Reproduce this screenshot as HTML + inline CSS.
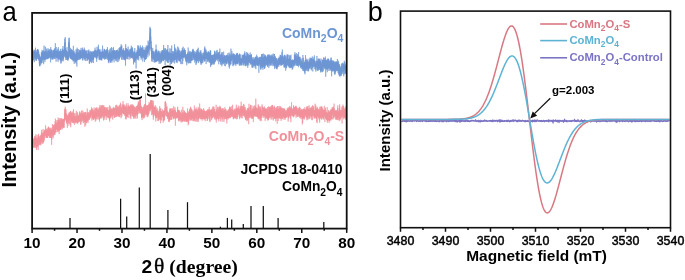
<!DOCTYPE html><html><head><meta charset="utf-8"><style>html,body{margin:0;padding:0;background:#fff;}svg{display:block;will-change:transform;font-family:"Liberation Sans",sans-serif;}</style></head><body><svg width="685" height="280" viewBox="0 0 685 280">
<rect width="685" height="280" fill="#fff"/>
<text transform="translate(2.4,20.7) scale(0.95,1)" font-size="27" font-family="Liberation Sans" fill="#000">a</text>
<polyline points="33.10,57.1 33.15,49.8 33.20,50.8 33.25,51.4 33.30,54.1 33.35,56.0 33.40,60.4 33.45,53.5 33.50,56.5 33.55,54.6 33.60,59.7 33.65,56.6 33.70,58.5 33.75,51.0 33.80,53.8 33.85,51.9 33.90,59.1 33.95,56.6 34.00,53.6 34.05,53.2 34.10,56.2 34.15,52.5 34.20,51.7 34.25,56.1 34.30,62.2 34.35,53.8 34.40,52.8 34.45,50.9 34.50,50.4 34.55,56.1 34.60,57.1 34.65,54.5 34.70,55.5 34.75,54.8 34.80,54.9 34.85,49.7 34.90,53.0 34.95,54.7 35.00,51.9 35.05,52.9 35.10,51.8 35.15,53.3 35.20,56.9 35.25,53.0 35.30,53.8 35.35,56.8 35.40,56.2 35.45,59.5 35.50,47.7 35.55,56.8 35.60,52.7 35.65,54.6 35.70,56.7 35.75,57.5 35.80,57.3 35.85,54.6 35.90,59.1 35.95,53.2 36.00,53.6 36.05,56.5 36.10,52.3 36.15,60.7 36.20,57.1 36.25,60.7 36.30,53.9 36.35,52.8 36.40,54.4 36.45,56.2 36.50,52.1 36.55,55.1 36.60,53.8 36.65,58.9 36.70,51.8 36.75,57.1 36.80,51.8 36.85,50.8 36.90,51.6 36.95,50.1 37.00,54.2 37.05,56.9 37.10,54.2 37.15,55.7 37.20,59.0 37.25,54.9 37.30,54.7 37.35,53.4 37.40,49.3 37.45,56.8 37.50,49.1 37.55,56.7 37.60,54.7 37.65,58.3 37.70,54.7 37.75,52.5 37.80,56.3 37.85,53.5 37.90,54.8 37.95,55.6 38.00,55.2 38.05,55.1 38.10,53.2 38.15,55.3 38.20,49.4 38.25,55.6 38.30,52.5 38.35,59.8 38.40,60.4 38.45,50.5 38.50,57.1 38.55,56.3 38.60,53.6 38.65,58.6 38.70,55.6 38.75,51.7 38.80,56.4 38.85,56.9 38.90,57.8 38.95,53.8 39.00,59.6 39.05,60.1 39.10,54.3 39.15,56.0 39.20,57.9 39.25,56.5 39.30,63.7 39.35,59.1 39.40,55.4 39.45,56.2 39.50,58.5 39.55,65.9 39.60,58.4 39.65,59.4 39.70,60.7 39.75,59.1 39.80,66.4 39.85,57.8 39.90,61.9 39.95,60.2 40.00,61.7 40.05,56.2 40.10,65.5 40.15,59.5 40.20,59.9 40.25,56.9 40.30,57.4 40.35,61.3 40.40,62.6 40.45,61.8 40.50,63.1 40.55,61.5 40.60,59.3 40.65,61.7 40.70,60.9 40.75,58.7 40.80,61.2 40.85,62.8 40.90,59.5 40.95,57.6 41.00,60.8 41.05,64.4 41.10,57.8 41.15,58.1 41.20,57.9 41.25,62.0 41.30,52.4 41.35,59.2 41.40,61.7 41.45,55.4 41.50,62.4 41.55,59.4 41.60,56.0 41.65,58.2 41.70,52.7 41.75,55.7 41.80,63.0 41.85,54.5 41.90,62.9 41.95,56.9 42.00,60.1 42.05,57.1 42.10,49.9 42.15,55.0 42.20,57.3 42.25,53.1 42.30,52.4 42.35,57.6 42.40,54.4 42.45,51.1 42.50,54.1 42.55,58.9 42.60,54.6 42.65,58.9 42.70,60.7 42.75,56.0 42.80,52.3 42.85,51.7 42.90,55.6 42.95,58.3 43.00,56.3 43.05,57.1 43.10,54.0 43.15,56.3 43.20,59.5 43.25,54.3 43.30,51.3 43.35,50.4 43.40,53.8 43.45,51.8 43.50,52.3 43.55,57.3 43.60,54.9 43.65,64.2 43.70,58.0 43.75,53.2 43.80,57.5 43.85,56.2 43.90,53.0 43.95,58.5 44.00,52.7 44.05,45.6 44.10,57.5 44.15,53.1 44.20,59.6 44.25,53.0 44.30,51.3 44.35,59.8 44.40,51.6 44.45,55.6 44.50,59.4 44.55,55.3 44.60,54.7 44.65,55.2 44.70,57.5 44.75,52.4 44.80,56.7 44.85,56.6 44.90,62.0 44.95,53.8 45.00,52.0 45.05,57.1 45.10,53.5 45.15,55.6 45.20,55.1 45.25,58.3 45.30,52.7 45.35,54.4 45.40,46.8 45.45,51.9 45.50,59.4 45.55,52.5 45.60,52.4 45.65,50.8 45.70,56.4 45.75,55.1 45.80,50.9 45.85,56.6 45.90,55.3 45.95,56.9 46.00,52.5 46.05,59.9 46.10,55.7 46.15,54.1 46.20,52.9 46.25,53.7 46.30,57.1 46.35,53.6 46.40,57.8 46.45,56.3 46.50,58.7 46.55,57.0 46.60,54.3 46.65,48.6 46.70,55.4 46.75,56.9 46.80,55.0 46.85,56.2 46.90,53.0 46.95,53.3 47.00,51.6 47.05,58.7 47.10,55.0 47.15,53.0 47.20,50.4 47.25,54.0 47.30,59.0 47.35,55.9 47.40,52.3 47.45,59.0 47.50,58.9 47.55,57.6 47.60,57.0 47.65,58.1 47.70,56.2 47.75,56.9 47.80,52.1 47.85,59.2 47.90,55.3 47.95,52.6 48.00,48.2 48.05,56.7 48.10,57.6 48.15,53.5 48.20,55.9 48.25,56.9 48.30,56.3 48.35,52.9 48.40,54.1 48.45,57.7 48.50,58.5 48.55,54.9 48.60,54.8 48.65,55.2 48.70,57.8 48.75,51.3 48.80,50.4 48.85,55.0 48.90,51.1 48.95,52.8 49.00,54.8 49.05,56.1 49.10,51.3 49.15,57.1 49.20,49.1 49.25,56.2 49.30,49.6 49.35,50.6 49.40,56.5 49.45,53.3 49.50,52.0 49.55,53.1 49.60,55.9 49.65,54.3 49.70,54.4 49.75,57.7 49.80,52.2 49.85,53.0 49.90,52.8 49.95,58.0 50.00,57.5 50.05,58.4 50.10,54.3 50.15,53.9 50.20,57.0 50.25,53.1 50.30,56.9 50.35,56.6 50.40,52.2 50.45,54.1 50.50,53.9 50.55,59.7 50.60,62.3 50.65,54.0 50.70,54.3 50.75,47.2 50.80,54.9 50.85,54.2 50.90,50.9 50.95,56.7 51.00,49.4 51.05,53.5 51.10,54.6 51.15,50.3 51.20,56.8 51.25,57.4 51.30,49.9 51.35,49.8 51.40,56.0 51.45,54.0 51.50,50.4 51.55,53.2 51.60,53.8 51.65,53.6 51.70,56.6 51.75,55.3 51.80,59.5 51.85,58.3 51.90,56.1 51.95,57.4 52.00,58.1 52.05,56.2 52.10,50.2 52.15,56.7 52.20,54.2 52.25,59.0 52.30,54.2 52.35,55.6 52.40,55.0 52.45,59.1 52.50,54.5 52.55,53.1 52.60,54.9 52.65,52.5 52.70,54.4 52.75,53.8 52.80,54.7 52.85,59.8 52.90,52.6 52.95,53.9 53.00,53.2 53.05,55.9 53.10,50.1 53.15,51.6 53.20,53.7 53.25,55.5 53.30,53.6 53.35,52.2 53.40,51.1 53.45,55.3 53.50,58.2 53.55,54.7 53.60,54.3 53.65,55.1 53.70,50.8 53.75,52.7 53.80,52.8 53.85,54.6 53.90,53.6 53.95,49.9 54.00,57.1 54.05,58.9 54.10,52.8 54.15,54.8 54.20,54.4 54.25,56.0 54.30,49.0 54.35,58.6 54.40,52.1 54.45,57.5 54.50,53.8 54.55,52.3 54.60,53.1 54.65,56.3 54.70,50.8 54.75,52.3 54.80,52.0 54.85,48.1 54.90,57.5 54.95,55.2 55.00,53.4 55.05,57.0 55.10,50.5 55.15,53.2 55.20,58.8 55.25,56.5 55.30,46.6 55.35,43.2 55.40,50.3 55.45,56.8 55.50,52.1 55.55,52.9 55.60,55.5 55.65,50.9 55.70,54.3 55.75,56.1 55.80,55.1 55.85,54.9 55.90,51.8 55.95,55.3 56.00,52.4 56.05,57.8 56.10,61.7 56.15,51.5 56.20,47.0 56.25,52.5 56.30,55.0 56.35,57.1 56.40,57.2 56.45,51.4 56.50,51.4 56.55,57.8 56.60,50.5 56.65,57.3 56.70,53.2 56.75,56.3 56.80,56.2 56.85,56.4 56.90,56.6 56.95,51.0 57.00,55.0 57.05,54.1 57.10,55.0 57.15,57.9 57.20,53.3 57.25,51.9 57.30,51.9 57.35,53.2 57.40,56.5 57.45,51.7 57.50,57.8 57.55,55.1 57.60,53.5 57.65,50.1 57.70,55.0 57.75,56.4 57.80,48.8 57.85,58.0 57.90,59.5 57.95,55.4 58.00,55.9 58.05,61.9 58.10,58.2 58.15,51.7 58.20,54.4 58.25,54.0 58.30,54.0 58.35,47.2 58.40,56.9 58.45,52.6 58.50,55.1 58.55,54.2 58.60,57.3 58.65,53.7 58.70,52.2 58.75,56.3 58.80,59.1 58.85,53.7 58.90,59.0 58.95,55.6 59.00,53.2 59.05,59.6 59.10,52.3 59.15,58.0 59.20,53.3 59.25,56.3 59.30,51.1 59.35,52.4 59.40,58.3 59.45,55.6 59.50,55.1 59.55,53.7 59.60,56.5 59.65,50.8 59.70,51.6 59.75,54.6 59.80,52.6 59.85,53.0 59.90,55.0 59.95,54.8 60.00,54.6 60.05,60.4 60.10,58.4 60.15,59.1 60.20,55.2 60.25,53.8 60.30,50.9 60.35,54.3 60.40,48.9 60.45,53.6 60.50,57.8 60.55,60.5 60.60,58.5 60.65,52.8 60.70,57.1 60.75,53.1 60.80,58.1 60.85,55.3 60.90,58.3 60.95,63.6 61.00,58.5 61.05,62.9 61.10,56.3 61.15,54.7 61.20,59.8 61.25,61.0 61.30,53.9 61.35,55.9 61.40,51.2 61.45,55.0 61.50,58.3 61.55,55.3 61.60,53.8 61.65,51.1 61.70,56.6 61.75,57.9 61.80,57.3 61.85,56.2 61.90,51.5 61.95,60.9 62.00,55.2 62.05,54.9 62.10,57.6 62.15,48.6 62.20,55.1 62.25,54.9 62.30,56.4 62.35,59.4 62.40,56.7 62.45,49.5 62.50,54.1 62.55,55.8 62.60,55.6 62.65,51.2 62.70,50.0 62.75,56.8 62.80,56.1 62.85,55.0 62.90,49.7 62.95,60.5 63.00,46.0 63.05,53.9 63.10,61.4 63.15,54.5 63.20,55.6 63.25,51.3 63.30,59.1 63.35,50.9 63.40,55.6 63.45,55.2 63.50,51.5 63.55,57.5 63.60,50.4 63.65,52.6 63.70,54.6 63.75,53.4 63.80,56.1 63.85,57.5 63.90,53.5 63.95,52.9 64.00,52.7 64.05,52.7 64.10,56.8 64.15,53.0 64.20,55.7 64.25,52.1 64.30,49.8 64.35,53.8 64.40,48.1 64.45,52.8 64.50,56.4 64.55,46.4 64.60,52.2 64.65,43.8 64.70,49.2 64.75,38.7 64.80,40.4 64.85,40.2 64.90,48.8 64.95,43.9 65.00,42.4 65.05,46.9 65.10,46.4 65.15,42.6 65.20,43.5 65.25,37.1 65.30,51.7 65.35,55.3 65.40,48.0 65.45,48.8 65.50,57.2 65.55,48.5 65.60,49.3 65.65,49.1 65.70,50.8 65.75,53.1 65.80,59.9 65.85,54.2 65.90,51.8 65.95,53.2 66.00,54.7 66.05,50.1 66.10,56.1 66.15,57.8 66.20,56.7 66.25,57.7 66.30,51.9 66.35,50.6 66.40,59.9 66.45,59.3 66.50,51.2 66.55,56.7 66.60,56.1 66.65,57.8 66.70,56.8 66.75,54.6 66.80,56.8 66.85,56.7 66.90,56.1 66.95,50.5 67.00,47.0 67.05,53.9 67.10,51.3 67.15,57.1 67.20,58.5 67.25,57.1 67.30,55.1 67.35,56.4 67.40,59.8 67.45,53.9 67.50,59.0 67.55,58.3 67.60,56.9 67.65,60.5 67.70,53.7 67.75,58.8 67.80,53.0 67.85,53.5 67.90,52.4 67.95,57.2 68.00,52.6 68.05,55.7 68.10,51.5 68.15,58.1 68.20,60.4 68.25,54.5 68.30,59.2 68.35,56.6 68.40,58.8 68.45,52.7 68.50,48.8 68.55,53.8 68.60,50.9 68.65,46.1 68.70,44.0 68.75,42.9 68.80,46.5 68.85,41.6 68.90,49.0 68.95,47.0 69.00,38.4 69.05,42.0 69.10,47.8 69.15,37.6 69.20,49.5 69.25,50.3 69.30,43.6 69.35,45.2 69.40,49.9 69.45,57.6 69.50,54.5 69.55,53.4 69.60,54.1 69.65,49.6 69.70,54.3 69.75,50.3 69.80,55.7 69.85,50.0 69.90,51.4 69.95,54.3 70.00,56.1 70.05,49.9 70.10,52.8 70.15,54.9 70.20,55.2 70.25,52.0 70.30,54.9 70.35,53.7 70.40,58.9 70.45,56.3 70.50,50.5 70.55,47.8 70.60,54.9 70.65,58.3 70.70,55.2 70.75,57.4 70.80,53.1 70.85,50.4 70.90,57.0 70.95,55.0 71.00,56.8 71.05,50.4 71.10,55.2 71.15,52.7 71.20,57.2 71.25,52.9 71.30,52.8 71.35,52.9 71.40,58.6 71.45,49.6 71.50,52.4 71.55,51.5 71.60,51.5 71.65,59.3 71.70,49.1 71.75,52.1 71.80,56.7 71.85,58.4 71.90,54.3 71.95,57.2 72.00,57.1 72.05,57.8 72.10,54.9 72.15,59.9 72.20,55.5 72.25,59.6 72.30,51.4 72.35,57.8 72.40,51.0 72.45,50.2 72.50,56.4 72.55,52.3 72.60,56.3 72.65,51.6 72.70,59.9 72.75,55.0 72.80,51.5 72.85,55.5 72.90,57.7 72.95,52.6 73.00,56.6 73.05,61.4 73.10,57.7 73.15,55.0 73.20,53.3 73.25,56.9 73.30,50.5 73.35,45.8 73.40,53.2 73.45,51.9 73.50,60.8 73.55,55.8 73.60,52.4 73.65,51.9 73.70,57.1 73.75,53.0 73.80,53.8 73.85,55.3 73.90,55.9 73.95,56.0 74.00,56.1 74.05,59.8 74.10,61.1 74.15,50.7 74.20,63.9 74.25,56.4 74.30,59.8 74.35,53.7 74.40,57.1 74.45,56.8 74.50,56.5 74.55,58.8 74.60,58.2 74.65,53.1 74.70,55.9 74.75,58.6 74.80,58.5 74.85,55.4 74.90,55.6 74.95,56.0 75.00,53.1 75.05,52.6 75.10,61.5 75.15,55.4 75.20,57.0 75.25,54.4 75.30,60.8 75.35,62.2 75.40,56.1 75.45,58.5 75.50,54.6 75.55,62.4 75.60,59.8 75.65,54.4 75.70,60.9 75.75,58.2 75.80,58.4 75.85,58.3 75.90,55.1 75.95,55.6 76.00,59.2 76.05,57.2 76.10,49.2 76.15,63.6 76.20,56.6 76.25,55.5 76.30,55.1 76.35,59.3 76.40,60.2 76.45,57.9 76.50,59.8 76.55,52.5 76.60,55.9 76.65,55.6 76.70,57.0 76.75,58.5 76.80,50.6 76.85,66.6 76.90,54.2 76.95,57.9 77.00,59.4 77.05,59.5 77.10,57.5 77.15,47.7 77.20,53.4 77.25,59.1 77.30,53.8 77.35,53.4 77.40,49.3 77.45,60.4 77.50,58.1 77.55,53.7 77.60,56.1 77.65,56.1 77.70,53.0 77.75,55.5 77.80,57.1 77.85,58.0 77.90,60.2 77.95,56.3 78.00,54.8 78.05,57.4 78.10,54.2 78.15,52.3 78.20,59.7 78.25,54.9 78.30,56.4 78.35,58.0 78.40,52.6 78.45,58.0 78.50,57.3 78.55,55.6 78.60,57.1 78.65,53.5 78.70,49.0 78.75,54.9 78.80,53.0 78.85,58.5 78.90,56.6 78.95,54.1 79.00,55.8 79.05,59.9 79.10,59.2 79.15,56.8 79.20,56.9 79.25,54.7 79.30,55.1 79.35,57.3 79.40,55.1 79.45,56.4 79.50,52.0 79.55,50.2 79.60,50.1 79.65,54.0 79.70,59.4 79.75,58.9 79.80,52.2 79.85,50.4 79.90,52.9 79.95,56.6 80.00,50.9 80.05,58.4 80.10,55.6 80.15,59.2 80.20,56.1 80.25,57.8 80.30,56.0 80.35,52.0 80.40,54.2 80.45,52.8 80.50,57.4 80.55,51.8 80.60,50.1 80.65,56.9 80.70,58.3 80.75,59.2 80.80,58.1 80.85,50.0 80.90,52.5 80.95,52.9 81.00,54.5 81.05,47.9 81.10,54.5 81.15,55.4 81.20,51.5 81.25,54.8 81.30,58.1 81.35,54.5 81.40,57.7 81.45,57.5 81.50,55.6 81.55,55.5 81.60,53.1 81.65,58.1 81.70,52.8 81.75,52.0 81.80,56.4 81.85,51.9 81.90,55.4 81.95,57.4 82.00,54.3 82.05,54.4 82.10,56.9 82.15,56.3 82.20,49.2 82.25,50.0 82.30,58.2 82.35,55.3 82.40,47.6 82.45,49.9 82.50,54.1 82.55,51.0 82.60,55.5 82.65,54.3 82.70,60.4 82.75,50.5 82.80,56.1 82.85,60.2 82.90,51.7 82.95,58.2 83.00,57.2 83.05,56.2 83.10,54.0 83.15,50.6 83.20,51.5 83.25,56.6 83.30,57.2 83.35,58.0 83.40,57.2 83.45,57.0 83.50,52.9 83.55,50.5 83.60,54.9 83.65,55.8 83.70,54.5 83.75,49.6 83.80,52.7 83.85,49.7 83.90,54.8 83.95,51.1 84.00,53.8 84.05,55.3 84.10,54.8 84.15,58.6 84.20,50.9 84.25,47.6 84.30,57.3 84.35,58.7 84.40,58.8 84.45,55.3 84.50,56.1 84.55,54.8 84.60,50.4 84.65,52.7 84.70,56.0 84.75,52.7 84.80,60.4 84.85,49.7 84.90,53.1 84.95,57.9 85.00,52.6 85.05,51.0 85.10,50.3 85.15,52.3 85.20,59.2 85.25,55.8 85.30,56.2 85.35,53.0 85.40,57.2 85.45,55.0 85.50,51.8 85.55,53.3 85.60,55.3 85.65,58.3 85.70,54.5 85.75,56.3 85.80,61.0 85.85,52.3 85.90,50.9 85.95,57.9 86.00,56.2 86.05,54.5 86.10,55.7 86.15,53.9 86.20,56.5 86.25,53.9 86.30,57.4 86.35,51.3 86.40,52.4 86.45,55.4 86.50,53.6 86.55,57.2 86.60,54.9 86.65,53.4 86.70,55.7 86.75,53.5 86.80,50.3 86.85,51.6 86.90,52.7 86.95,53.7 87.00,55.5 87.05,58.0 87.10,56.9 87.15,60.8 87.20,59.2 87.25,54.7 87.30,60.4 87.35,59.0 87.40,53.9 87.45,56.3 87.50,58.8 87.55,56.2 87.60,58.6 87.65,56.7 87.70,57.6 87.75,54.5 87.80,56.7 87.85,54.4 87.90,57.6 87.95,50.3 88.00,56.6 88.05,59.5 88.10,57.4 88.15,55.6 88.20,57.3 88.25,53.1 88.30,53.2 88.35,54.7 88.40,55.4 88.45,58.8 88.50,53.1 88.55,59.0 88.60,51.1 88.65,53.5 88.70,55.9 88.75,59.6 88.80,54.2 88.85,49.5 88.90,57.5 88.95,56.1 89.00,52.9 89.05,53.0 89.10,54.1 89.15,56.6 89.20,58.4 89.25,51.8 89.30,63.5 89.35,56.3 89.40,55.3 89.45,58.6 89.50,56.9 89.55,63.8 89.60,60.0 89.65,55.5 89.70,55.5 89.75,55.2 89.80,55.7 89.85,58.9 89.90,54.8 89.95,61.9 90.00,56.6 90.05,56.5 90.10,59.9 90.15,50.9 90.20,54.1 90.25,58.9 90.30,57.1 90.35,57.1 90.40,58.4 90.45,55.3 90.50,56.7 90.55,53.0 90.60,51.5 90.65,61.3 90.70,54.5 90.75,55.2 90.80,61.8 90.85,60.8 90.90,55.9 90.95,55.9 91.00,57.3 91.05,54.6 91.10,59.3 91.15,58.0 91.20,57.9 91.25,59.8 91.30,59.6 91.35,63.1 91.40,62.0 91.45,51.9 91.50,60.0 91.55,53.7 91.60,52.6 91.65,59.2 91.70,54.8 91.75,55.9 91.80,60.2 91.85,54.7 91.90,54.0 91.95,57.7 92.00,60.4 92.05,58.2 92.10,51.7 92.15,54.4 92.20,51.2 92.25,62.3 92.30,59.1 92.35,58.9 92.40,59.9 92.45,55.2 92.50,57.6 92.55,57.5 92.60,52.9 92.65,55.9 92.70,57.6 92.75,52.4 92.80,58.2 92.85,58.0 92.90,58.8 92.95,53.2 93.00,55.8 93.05,60.0 93.10,57.9 93.15,52.9 93.20,56.0 93.25,59.6 93.30,54.9 93.35,56.3 93.40,63.0 93.45,54.9 93.50,54.6 93.55,51.8 93.60,52.8 93.65,59.4 93.70,54.3 93.75,51.0 93.80,51.7 93.85,54.6 93.90,56.9 93.95,52.1 94.00,56.6 94.05,52.8 94.10,55.4 94.15,55.9 94.20,56.1 94.25,52.9 94.30,53.7 94.35,55.8 94.40,50.2 94.45,54.8 94.50,55.8 94.55,57.5 94.60,54.1 94.65,53.6 94.70,54.6 94.75,51.9 94.80,53.5 94.85,55.5 94.90,55.1 94.95,50.9 95.00,53.2 95.05,47.6 95.10,56.7 95.15,52.5 95.20,54.9 95.25,50.8 95.30,53.9 95.35,55.5 95.40,57.2 95.45,49.9 95.50,56.8 95.55,53.6 95.60,51.7 95.65,55.6 95.70,53.2 95.75,53.2 95.80,51.9 95.85,54.8 95.90,54.2 95.95,53.6 96.00,51.2 96.05,52.5 96.10,55.4 96.15,58.1 96.20,54.0 96.25,58.5 96.30,54.1 96.35,50.7 96.40,56.1 96.45,51.1 96.50,55.4 96.55,57.4 96.60,53.2 96.65,53.8 96.70,61.8 96.75,54.9 96.80,54.9 96.85,56.5 96.90,53.8 96.95,53.8 97.00,55.3 97.05,46.7 97.10,58.5 97.15,50.8 97.20,50.8 97.25,55.9 97.30,54.3 97.35,50.4 97.40,54.9 97.45,50.8 97.50,52.1 97.55,49.6 97.60,51.7 97.65,55.3 97.70,54.6 97.75,54.8 97.80,56.3 97.85,53.3 97.90,51.9 97.95,51.0 98.00,56.3 98.05,52.8 98.10,52.9 98.15,50.9 98.20,50.4 98.25,51.0 98.30,47.3 98.35,50.3 98.40,47.3 98.45,44.7 98.50,52.1 98.55,52.2 98.60,51.2 98.65,51.5 98.70,50.9 98.75,53.3 98.80,54.3 98.85,49.2 98.90,55.7 98.95,56.5 99.00,59.6 99.05,51.7 99.10,51.3 99.15,57.5 99.20,49.7 99.25,53.0 99.30,52.0 99.35,52.3 99.40,49.6 99.45,54.8 99.50,58.6 99.55,57.0 99.60,57.0 99.65,54.6 99.70,60.2 99.75,57.4 99.80,59.0 99.85,51.0 99.90,56.9 99.95,52.3 100.00,57.0 100.05,56.6 100.10,52.5 100.15,56.5 100.20,59.5 100.25,57.4 100.30,57.6 100.35,53.1 100.40,53.6 100.45,52.2 100.50,56.0 100.55,59.3 100.60,56.9 100.65,55.5 100.70,52.0 100.75,56.8 100.80,54.6 100.85,49.4 100.90,49.9 100.95,54.2 101.00,52.4 101.05,60.2 101.10,55.2 101.15,51.8 101.20,53.5 101.25,59.9 101.30,52.0 101.35,57.2 101.40,56.2 101.45,59.3 101.50,56.3 101.55,53.4 101.60,56.2 101.65,54.8 101.70,57.5 101.75,54.3 101.80,60.5 101.85,54.1 101.90,55.7 101.95,52.3 102.00,54.6 102.05,54.3 102.10,54.7 102.15,56.9 102.20,52.4 102.25,51.4 102.30,57.4 102.35,53.1 102.40,51.8 102.45,57.4 102.50,56.2 102.55,45.6 102.60,52.6 102.65,56.1 102.70,56.2 102.75,52.0 102.80,58.4 102.85,51.1 102.90,52.7 102.95,53.8 103.00,53.3 103.05,55.8 103.10,56.4 103.15,53.2 103.20,57.6 103.25,51.2 103.30,52.7 103.35,58.7 103.40,53.7 103.45,56.7 103.50,52.1 103.55,52.6 103.60,53.1 103.65,54.0 103.70,52.4 103.75,53.6 103.80,55.6 103.85,57.3 103.90,53.9 103.95,55.6 104.00,56.4 104.05,50.3 104.10,48.8 104.15,58.6 104.20,57.7 104.25,53.8 104.30,54.8 104.35,50.8 104.40,49.4 104.45,54.7 104.50,49.2 104.55,56.6 104.60,51.7 104.65,54.7 104.70,59.8 104.75,59.6 104.80,53.0 104.85,57.1 104.90,50.7 104.95,52.1 105.00,55.0 105.05,58.2 105.10,52.2 105.15,55.6 105.20,54.3 105.25,50.1 105.30,53.6 105.35,58.6 105.40,53.7 105.45,55.6 105.50,56.6 105.55,51.8 105.60,57.9 105.65,58.7 105.70,59.0 105.75,58.2 105.80,52.7 105.85,52.3 105.90,51.7 105.95,51.4 106.00,51.7 106.05,57.3 106.10,58.7 106.15,52.3 106.20,56.8 106.25,50.4 106.30,53.3 106.35,51.3 106.40,49.3 106.45,54.6 106.50,54.7 106.55,53.2 106.60,52.9 106.65,51.5 106.70,54.1 106.75,52.7 106.80,55.3 106.85,50.9 106.90,55.4 106.95,56.3 107.00,58.6 107.05,58.0 107.10,55.4 107.15,52.7 107.20,49.2 107.25,54.8 107.30,59.3 107.35,60.0 107.40,47.1 107.45,52.6 107.50,53.9 107.55,51.8 107.60,55.6 107.65,55.2 107.70,53.5 107.75,55.0 107.80,50.2 107.85,52.2 107.90,52.5 107.95,58.0 108.00,50.3 108.05,54.7 108.10,57.8 108.15,55.2 108.20,57.9 108.25,53.4 108.30,56.8 108.35,58.3 108.40,62.5 108.45,57.8 108.50,60.0 108.55,55.7 108.60,56.0 108.65,60.6 108.70,57.5 108.75,60.2 108.80,58.0 108.85,62.4 108.90,63.2 108.95,53.3 109.00,61.7 109.05,57.3 109.10,57.5 109.15,55.6 109.20,58.2 109.25,52.5 109.30,53.7 109.35,53.6 109.40,56.9 109.45,58.8 109.50,58.2 109.55,57.1 109.60,54.1 109.65,50.5 109.70,57.2 109.75,56.4 109.80,57.0 109.85,60.3 109.90,55.4 109.95,55.3 110.00,48.7 110.05,57.6 110.10,55.7 110.15,53.6 110.20,57.1 110.25,52.6 110.30,54.2 110.35,61.9 110.40,58.2 110.45,58.7 110.50,58.2 110.55,57.8 110.60,56.4 110.65,62.9 110.70,55.6 110.75,58.1 110.80,55.1 110.85,54.7 110.90,48.2 110.95,49.8 111.00,60.5 111.05,60.4 111.10,54.4 111.15,55.6 111.20,57.6 111.25,52.6 111.30,61.2 111.35,52.5 111.40,53.4 111.45,47.1 111.50,60.4 111.55,55.8 111.60,60.7 111.65,52.5 111.70,56.7 111.75,55.8 111.80,56.2 111.85,62.0 111.90,62.6 111.95,59.9 112.00,54.3 112.05,58.3 112.10,59.7 112.15,57.3 112.20,57.3 112.25,57.0 112.30,52.7 112.35,56.3 112.40,60.5 112.45,52.4 112.50,55.7 112.55,58.0 112.60,51.2 112.65,55.0 112.70,50.2 112.75,53.5 112.80,51.0 112.85,52.6 112.90,53.8 112.95,54.5 113.00,54.7 113.05,47.9 113.10,60.2 113.15,54.4 113.20,51.9 113.25,53.3 113.30,56.2 113.35,52.1 113.40,53.9 113.45,47.2 113.50,56.9 113.55,52.9 113.60,56.6 113.65,56.2 113.70,54.7 113.75,59.0 113.80,55.2 113.85,51.5 113.90,56.0 113.95,55.5 114.00,55.0 114.05,55.8 114.10,62.3 114.15,55.8 114.20,56.5 114.25,54.3 114.30,59.1 114.35,54.8 114.40,52.5 114.45,51.2 114.50,56.6 114.55,57.3 114.60,50.0 114.65,52.7 114.70,56.9 114.75,58.1 114.80,50.8 114.85,53.6 114.90,57.5 114.95,53.2 115.00,53.4 115.05,53.2 115.10,50.8 115.15,55.0 115.20,55.8 115.25,50.5 115.30,55.2 115.35,58.3 115.40,55.6 115.45,57.9 115.50,53.2 115.55,59.2 115.60,52.5 115.65,60.8 115.70,53.6 115.75,52.8 115.80,52.3 115.85,53.8 115.90,53.5 115.95,52.9 116.00,54.1 116.05,57.2 116.10,57.9 116.15,54.1 116.20,59.0 116.25,52.1 116.30,52.0 116.35,51.7 116.40,57.1 116.45,50.4 116.50,50.9 116.55,59.2 116.60,60.6 116.65,59.4 116.70,50.7 116.75,55.3 116.80,57.9 116.85,55.6 116.90,50.3 116.95,54.3 117.00,50.1 117.05,51.6 117.10,62.1 117.15,57.5 117.20,50.9 117.25,50.8 117.30,56.9 117.35,53.6 117.40,57.3 117.45,53.5 117.50,54.9 117.55,56.3 117.60,52.3 117.65,49.6 117.70,51.9 117.75,53.4 117.80,55.0 117.85,55.4 117.90,55.4 117.95,57.2 118.00,52.9 118.05,60.0 118.10,61.9 118.15,56.7 118.20,56.1 118.25,59.3 118.30,57.3 118.35,55.8 118.40,54.6 118.45,52.8 118.50,51.4 118.55,57.0 118.60,58.5 118.65,51.5 118.70,54.4 118.75,55.2 118.80,53.1 118.85,52.0 118.90,53.1 118.95,48.1 119.00,53.9 119.05,53.1 119.10,60.5 119.15,56.8 119.20,52.7 119.25,53.7 119.30,58.9 119.35,58.5 119.40,54.0 119.45,52.9 119.50,48.8 119.55,52.1 119.60,52.5 119.65,50.7 119.70,58.3 119.75,47.0 119.80,52.3 119.85,53.9 119.90,53.9 119.95,57.7 120.00,48.0 120.05,50.0 120.10,52.5 120.15,52.5 120.20,50.8 120.25,49.6 120.30,55.2 120.35,48.5 120.40,49.9 120.45,56.1 120.50,56.9 120.55,54.1 120.60,48.7 120.65,48.6 120.70,48.4 120.75,47.6 120.80,49.7 120.85,54.8 120.90,51.5 120.95,48.4 121.00,48.2 121.05,46.9 121.10,54.2 121.15,44.3 121.20,51.5 121.25,46.3 121.30,47.6 121.35,46.3 121.40,54.0 121.45,50.9 121.50,59.7 121.55,48.1 121.60,48.0 121.65,53.3 121.70,53.3 121.75,50.8 121.80,45.5 121.85,56.4 121.90,53.7 121.95,53.3 122.00,50.3 122.05,54.2 122.10,50.6 122.15,52.6 122.20,51.9 122.25,56.5 122.30,51.3 122.35,51.7 122.40,56.3 122.45,53.7 122.50,53.0 122.55,52.4 122.60,56.2 122.65,51.4 122.70,54.9 122.75,59.9 122.80,54.9 122.85,51.3 122.90,50.1 122.95,54.4 123.00,50.2 123.05,49.2 123.10,51.9 123.15,50.9 123.20,57.1 123.25,50.0 123.30,59.5 123.35,52.4 123.40,55.1 123.45,57.0 123.50,55.7 123.55,57.3 123.60,52.1 123.65,48.2 123.70,54.7 123.75,50.2 123.80,53.7 123.85,58.6 123.90,55.1 123.95,54.0 124.00,52.4 124.05,55.1 124.10,55.6 124.15,51.1 124.20,56.9 124.25,52.6 124.30,56.6 124.35,54.4 124.40,58.9 124.45,58.4 124.50,55.7 124.55,55.3 124.60,56.9 124.65,59.8 124.70,58.8 124.75,56.0 124.80,56.4 124.85,60.3 124.90,50.3 124.95,57.0 125.00,52.4 125.05,59.4 125.10,53.5 125.15,54.7 125.20,51.4 125.25,54.6 125.30,56.9 125.35,59.4 125.40,50.1 125.45,52.7 125.50,65.7 125.55,56.7 125.60,53.1 125.65,54.4 125.70,44.2 125.75,57.2 125.80,54.4 125.85,47.9 125.90,56.3 125.95,49.8 126.00,50.4 126.05,54.6 126.10,54.9 126.15,51.3 126.20,52.6 126.25,48.4 126.30,48.0 126.35,55.3 126.40,56.9 126.45,54.6 126.50,53.7 126.55,51.7 126.60,52.7 126.65,50.6 126.70,58.6 126.75,51.6 126.80,54.5 126.85,53.3 126.90,49.0 126.95,59.3 127.00,52.3 127.05,51.0 127.10,53.7 127.15,50.5 127.20,53.4 127.25,50.3 127.30,55.1 127.35,53.5 127.40,49.0 127.45,56.5 127.50,53.9 127.55,49.8 127.60,54.3 127.65,54.6 127.70,59.0 127.75,50.5 127.80,55.8 127.85,52.9 127.90,55.1 127.95,52.3 128.00,52.9 128.05,54.6 128.10,49.4 128.15,46.5 128.20,53.0 128.25,51.7 128.30,53.3 128.35,55.0 128.40,52.3 128.45,56.7 128.50,52.8 128.55,53.3 128.60,55.5 128.65,54.8 128.70,52.7 128.75,53.3 128.80,50.5 128.85,51.0 128.90,53.2 128.95,55.4 129.00,51.5 129.05,55.4 129.10,58.9 129.15,59.5 129.20,52.9 129.25,56.1 129.30,54.7 129.35,55.2 129.40,55.4 129.45,54.4 129.50,55.3 129.55,53.3 129.60,51.9 129.65,53.5 129.70,54.2 129.75,56.5 129.80,53.8 129.85,54.9 129.90,57.0 129.95,49.7 130.00,51.8 130.05,54.2 130.10,52.6 130.15,49.4 130.20,55.7 130.25,52.5 130.30,49.6 130.35,58.7 130.40,48.8 130.45,52.8 130.50,50.8 130.55,53.3 130.60,54.8 130.65,50.5 130.70,52.8 130.75,52.8 130.80,50.1 130.85,56.9 130.90,53.8 130.95,52.5 131.00,51.3 131.05,52.4 131.10,53.9 131.15,52.1 131.20,57.5 131.25,45.7 131.30,47.0 131.35,52.9 131.40,48.1 131.45,53.6 131.50,51.8 131.55,55.7 131.60,55.3 131.65,58.1 131.70,56.9 131.75,58.0 131.80,55.8 131.85,57.6 131.90,55.8 131.95,52.5 132.00,50.5 132.05,50.7 132.10,56.0 132.15,47.1 132.20,55.1 132.25,52.3 132.30,57.0 132.35,55.3 132.40,52.4 132.45,54.9 132.50,47.8 132.55,55.8 132.60,56.4 132.65,49.3 132.70,57.7 132.75,54.8 132.80,55.7 132.85,50.8 132.90,57.2 132.95,57.1 133.00,55.3 133.05,52.4 133.10,57.8 133.15,59.4 133.20,56.8 133.25,58.6 133.30,53.7 133.35,56.0 133.40,56.7 133.45,56.0 133.50,64.4 133.55,56.9 133.60,53.9 133.65,58.2 133.70,52.3 133.75,56.9 133.80,58.1 133.85,54.2 133.90,54.8 133.95,52.9 134.00,56.2 134.05,53.7 134.10,61.2 134.15,57.9 134.20,55.2 134.25,51.5 134.30,62.2 134.35,60.0 134.40,57.4 134.45,56.6 134.50,56.5 134.55,54.5 134.60,61.8 134.65,56.6 134.70,51.5 134.75,54.0 134.80,48.0 134.85,58.1 134.90,58.4 134.95,61.6 135.00,62.6 135.05,53.7 135.10,57.5 135.15,59.2 135.20,58.6 135.25,54.5 135.30,58.6 135.35,57.7 135.40,60.4 135.45,56.1 135.50,55.4 135.55,54.6 135.60,55.0 135.65,53.8 135.70,55.1 135.75,57.8 135.80,57.6 135.85,60.3 135.90,59.6 135.95,58.2 136.00,52.7 136.05,58.0 136.10,68.5 136.15,52.2 136.20,52.7 136.25,53.2 136.30,52.9 136.35,55.2 136.40,53.1 136.45,57.2 136.50,52.2 136.55,55.5 136.60,54.3 136.65,52.8 136.70,59.0 136.75,55.8 136.80,57.3 136.85,54.6 136.90,57.7 136.95,57.4 137.00,55.0 137.05,49.9 137.10,57.8 137.15,57.4 137.20,55.7 137.25,55.8 137.30,55.4 137.35,55.5 137.40,51.7 137.45,54.5 137.50,55.5 137.55,52.5 137.60,51.3 137.65,59.9 137.70,55.9 137.75,53.0 137.80,52.2 137.85,45.4 137.90,49.0 137.95,52.5 138.00,57.1 138.05,46.6 138.10,50.6 138.15,58.5 138.20,54.5 138.25,53.6 138.30,55.8 138.35,51.6 138.40,51.2 138.45,53.8 138.50,54.1 138.55,48.0 138.60,55.9 138.65,45.7 138.70,48.8 138.75,60.4 138.80,49.2 138.85,52.7 138.90,47.5 138.95,49.6 139.00,48.3 139.05,49.3 139.10,52.6 139.15,56.0 139.20,53.3 139.25,55.5 139.30,49.1 139.35,55.3 139.40,52.6 139.45,55.2 139.50,49.7 139.55,50.4 139.60,55.5 139.65,53.3 139.70,51.8 139.75,49.5 139.80,51.4 139.85,53.3 139.90,54.2 139.95,50.4 140.00,51.1 140.05,53.6 140.10,49.0 140.15,55.4 140.20,52.6 140.25,52.3 140.30,45.3 140.35,47.9 140.40,49.7 140.45,51.2 140.50,49.7 140.55,54.3 140.60,53.6 140.65,52.4 140.70,47.0 140.75,57.7 140.80,52.5 140.85,55.3 140.90,51.4 140.95,53.5 141.00,55.7 141.05,54.3 141.10,56.5 141.15,53.0 141.20,59.7 141.25,47.7 141.30,51.9 141.35,56.6 141.40,52.8 141.45,52.2 141.50,48.1 141.55,57.3 141.60,47.7 141.65,55.1 141.70,54.1 141.75,56.2 141.80,58.0 141.85,51.3 141.90,51.0 141.95,52.5 142.00,48.1 142.05,56.0 142.10,52.2 142.15,53.9 142.20,49.9 142.25,53.5 142.30,51.6 142.35,53.3 142.40,50.1 142.45,56.7 142.50,51.6 142.55,45.7 142.60,55.6 142.65,52.7 142.70,50.9 142.75,61.5 142.80,53.6 142.85,49.6 142.90,51.9 142.95,55.0 143.00,53.1 143.05,57.7 143.10,57.2 143.15,51.4 143.20,54.0 143.25,55.9 143.30,52.7 143.35,52.5 143.40,56.7 143.45,55.4 143.50,49.7 143.55,52.3 143.60,52.8 143.65,53.7 143.70,51.9 143.75,58.3 143.80,51.1 143.85,50.8 143.90,54.8 143.95,47.2 144.00,51.0 144.05,56.1 144.10,50.1 144.15,51.6 144.20,57.6 144.25,55.6 144.30,54.4 144.35,55.0 144.40,52.1 144.45,55.2 144.50,53.6 144.55,61.9 144.60,55.9 144.65,53.1 144.70,54.0 144.75,54.3 144.80,49.9 144.85,51.6 144.90,58.8 144.95,49.7 145.00,52.3 145.05,57.2 145.10,58.7 145.15,50.8 145.20,58.4 145.25,52.7 145.30,58.9 145.35,55.3 145.40,52.8 145.45,55.8 145.50,55.2 145.55,51.0 145.60,60.0 145.65,52.2 145.70,56.8 145.75,51.6 145.80,47.4 145.85,49.5 145.90,52.6 145.95,54.9 146.00,58.2 146.05,52.9 146.10,51.7 146.15,48.6 146.20,52.2 146.25,53.2 146.30,45.3 146.35,56.1 146.40,55.5 146.45,59.0 146.50,49.0 146.55,51.8 146.60,51.7 146.65,47.4 146.70,48.8 146.75,48.3 146.80,52.9 146.85,52.5 146.90,55.3 146.95,49.8 147.00,46.6 147.05,52.2 147.10,51.9 147.15,52.8 147.20,54.5 147.25,48.7 147.30,52.9 147.35,47.3 147.40,50.8 147.45,52.4 147.50,49.8 147.55,50.8 147.60,45.7 147.65,48.0 147.70,50.4 147.75,46.1 147.80,47.1 147.85,57.3 147.90,50.4 147.95,47.0 148.00,46.3 148.05,53.7 148.10,40.6 148.15,48.1 148.20,51.1 148.25,47.3 148.30,50.6 148.35,45.7 148.40,48.8 148.45,48.9 148.50,48.8 148.55,49.1 148.60,48.7 148.65,52.0 148.70,47.6 148.75,46.5 148.80,47.3 148.85,47.1 148.90,43.2 148.95,41.7 149.00,43.3 149.05,47.8 149.10,45.2 149.15,45.3 149.20,55.5 149.25,48.8 149.30,46.2 149.35,42.8 149.40,49.9 149.45,39.8 149.50,47.0 149.55,42.9 149.60,48.6 149.65,37.1 149.70,41.2 149.75,36.5 149.80,37.2 149.85,36.8 149.90,36.1 149.95,26.8 150.00,38.8 150.05,37.2 150.10,33.6 150.15,36.2 150.20,28.1 150.25,35.7 150.30,41.2 150.35,32.3 150.40,32.6 150.45,31.2 150.50,32.3 150.55,42.1 150.60,44.1 150.65,29.0 150.70,43.0 150.75,36.7 150.80,43.6 150.85,40.7 150.90,45.6 150.95,49.1 151.00,44.1 151.05,48.7 151.10,41.9 151.15,50.4 151.20,50.7 151.25,49.5 151.30,50.9 151.35,47.0 151.40,54.1 151.45,48.9 151.50,47.2 151.55,52.1 151.60,50.9 151.65,53.1 151.70,58.0 151.75,53.0 151.80,54.2 151.85,61.0 151.90,49.8 151.95,55.5 152.00,58.2 152.05,59.4 152.10,61.9 152.15,53.0 152.20,57.1 152.25,55.0 152.30,54.0 152.35,53.3 152.40,51.1 152.45,56.7 152.50,58.1 152.55,52.6 152.60,58.3 152.65,54.3 152.70,52.9 152.75,47.9 152.80,59.6 152.85,58.4 152.90,55.3 152.95,55.1 153.00,52.2 153.05,57.9 153.10,56.1 153.15,58.0 153.20,56.9 153.25,52.0 153.30,51.5 153.35,57.7 153.40,51.1 153.45,57.3 153.50,59.3 153.55,52.4 153.60,58.5 153.65,56.6 153.70,58.1 153.75,54.5 153.80,56.4 153.85,57.8 153.90,62.2 153.95,58.8 154.00,58.0 154.05,52.4 154.10,57.5 154.15,54.3 154.20,56.2 154.25,57.3 154.30,59.5 154.35,58.3 154.40,57.0 154.45,56.3 154.50,60.7 154.55,53.7 154.60,56.6 154.65,60.7 154.70,55.8 154.75,59.0 154.80,59.2 154.85,62.6 154.90,59.9 154.95,51.2 155.00,56.4 155.05,57.3 155.10,58.9 155.15,57.5 155.20,62.2 155.25,59.7 155.30,52.6 155.35,54.2 155.40,49.7 155.45,61.6 155.50,55.7 155.55,55.7 155.60,51.1 155.65,54.7 155.70,57.3 155.75,54.7 155.80,54.7 155.85,54.0 155.90,62.1 155.95,54.1 156.00,51.3 156.05,44.6 156.10,54.6 156.15,55.4 156.20,54.9 156.25,52.1 156.30,55.0 156.35,56.8 156.40,51.2 156.45,61.8 156.50,60.9 156.55,49.8 156.60,54.4 156.65,58.7 156.70,59.7 156.75,61.1 156.80,49.7 156.85,52.0 156.90,53.8 156.95,57.2 157.00,52.1 157.05,56.8 157.10,56.9 157.15,57.7 157.20,51.4 157.25,56.2 157.30,55.8 157.35,54.3 157.40,59.7 157.45,54.8 157.50,60.3 157.55,53.9 157.60,61.2 157.65,61.0 157.70,53.3 157.75,57.0 157.80,56.9 157.85,52.9 157.90,58.5 157.95,57.9 158.00,53.4 158.05,56.4 158.10,59.0 158.15,55.7 158.20,54.0 158.25,61.4 158.30,53.2 158.35,57.4 158.40,59.9 158.45,58.9 158.50,50.7 158.55,55.5 158.60,56.1 158.65,55.9 158.70,58.6 158.75,58.4 158.80,57.1 158.85,57.6 158.90,59.9 158.95,60.7 159.00,50.9 159.05,63.7 159.10,55.2 159.15,59.4 159.20,51.8 159.25,55.4 159.30,53.1 159.35,60.5 159.40,59.9 159.45,57.1 159.50,56.6 159.55,58.4 159.60,54.2 159.65,55.3 159.70,54.8 159.75,59.9 159.80,57.4 159.85,53.3 159.90,58.4 159.95,59.0 160.00,61.8 160.05,55.7 160.10,58.7 160.15,64.0 160.20,56.4 160.25,56.2 160.30,58.9 160.35,55.7 160.40,57.3 160.45,55.7 160.50,54.7 160.55,59.9 160.60,56.0 160.65,53.9 160.70,56.2 160.75,56.6 160.80,57.9 160.85,59.9 160.90,62.5 160.95,53.1 161.00,56.1 161.05,51.1 161.10,57.5 161.15,58.4 161.20,54.7 161.25,53.8 161.30,53.5 161.35,51.9 161.40,58.5 161.45,62.5 161.50,52.9 161.55,61.6 161.60,56.1 161.65,52.0 161.70,58.1 161.75,58.7 161.80,57.5 161.85,55.4 161.90,61.4 161.95,55.3 162.00,58.1 162.05,58.1 162.10,53.2 162.15,50.2 162.20,50.5 162.25,54.7 162.30,57.0 162.35,50.3 162.40,53.6 162.45,60.6 162.50,50.1 162.55,57.2 162.60,56.8 162.65,58.1 162.70,51.0 162.75,56.6 162.80,51.2 162.85,59.7 162.90,52.8 162.95,56.6 163.00,52.9 163.05,55.8 163.10,50.5 163.15,56.2 163.20,57.2 163.25,55.3 163.30,60.4 163.35,56.4 163.40,57.7 163.45,56.8 163.50,61.1 163.55,53.1 163.60,54.3 163.65,45.0 163.70,57.1 163.75,56.0 163.80,57.8 163.85,56.1 163.90,53.5 163.95,54.9 164.00,56.5 164.05,47.9 164.10,59.5 164.15,53.3 164.20,53.9 164.25,55.9 164.30,54.2 164.35,50.4 164.40,54.3 164.45,59.4 164.50,58.3 164.55,58.9 164.60,53.2 164.65,54.3 164.70,58.3 164.75,59.6 164.80,55.1 164.85,51.9 164.90,48.8 164.95,59.4 165.00,58.4 165.05,56.3 165.10,57.7 165.15,65.2 165.20,55.5 165.25,54.5 165.30,56.3 165.35,56.5 165.40,59.1 165.45,57.0 165.50,52.4 165.55,48.1 165.60,55.8 165.65,52.7 165.70,59.3 165.75,50.6 165.80,55.4 165.85,52.4 165.90,52.0 165.95,60.1 166.00,55.3 166.05,54.1 166.10,57.1 166.15,52.2 166.20,53.6 166.25,52.8 166.30,61.2 166.35,56.0 166.40,56.9 166.45,58.5 166.50,54.4 166.55,54.6 166.60,49.9 166.65,56.7 166.70,56.0 166.75,53.9 166.80,59.1 166.85,49.6 166.90,56.7 166.95,51.0 167.00,51.7 167.05,54.8 167.10,59.8 167.15,51.7 167.20,52.4 167.25,51.7 167.30,62.1 167.35,57.4 167.40,57.0 167.45,62.4 167.50,56.6 167.55,49.1 167.60,54.3 167.65,52.1 167.70,62.5 167.75,51.4 167.80,57.0 167.85,54.4 167.90,45.0 167.95,56.2 168.00,55.8 168.05,54.0 168.10,52.3 168.15,54.2 168.20,53.0 168.25,53.5 168.30,56.8 168.35,56.0 168.40,58.0 168.45,55.8 168.50,62.8 168.55,54.3 168.60,53.4 168.65,60.0 168.70,54.5 168.75,57.2 168.80,60.0 168.85,56.5 168.90,55.7 168.95,60.0 169.00,58.0 169.05,55.3 169.10,53.2 169.15,55.8 169.20,51.7 169.25,54.2 169.30,53.5 169.35,58.0 169.40,59.5 169.45,55.0 169.50,55.6 169.55,53.5 169.60,52.6 169.65,55.7 169.70,58.9 169.75,58.6 169.80,58.9 169.85,56.2 169.90,48.3 169.95,60.0 170.00,61.3 170.05,60.0 170.10,60.0 170.15,60.6 170.20,65.7 170.25,58.1 170.30,62.1 170.35,59.7 170.40,59.3 170.45,56.7 170.50,56.0 170.55,53.5 170.60,59.0 170.65,56.1 170.70,53.3 170.75,54.7 170.80,53.3 170.85,62.3 170.90,56.4 170.95,57.5 171.00,53.3 171.05,48.7 171.10,60.5 171.15,56.4 171.20,57.9 171.25,63.1 171.30,63.9 171.35,59.4 171.40,58.7 171.45,57.9 171.50,56.3 171.55,63.7 171.60,53.3 171.65,56.9 171.70,45.5 171.75,53.1 171.80,58.5 171.85,58.7 171.90,58.3 171.95,56.2 172.00,54.9 172.05,55.5 172.10,56.0 172.15,60.7 172.20,61.9 172.25,58.6 172.30,55.4 172.35,54.1 172.40,58.1 172.45,56.3 172.50,51.2 172.55,61.5 172.60,57.0 172.65,56.0 172.70,54.2 172.75,54.2 172.80,59.9 172.85,53.9 172.90,57.2 172.95,59.0 173.00,62.8 173.05,58.8 173.10,56.7 173.15,55.4 173.20,59.6 173.25,60.0 173.30,55.4 173.35,58.7 173.40,56.3 173.45,51.5 173.50,53.5 173.55,59.3 173.60,61.3 173.65,58.8 173.70,56.0 173.75,54.3 173.80,58.3 173.85,57.7 173.90,51.4 173.95,58.6 174.00,54.3 174.05,58.7 174.10,58.2 174.15,58.8 174.20,59.9 174.25,58.7 174.30,53.0 174.35,53.1 174.40,59.7 174.45,57.9 174.50,51.3 174.55,44.3 174.60,59.2 174.65,63.5 174.70,59.0 174.75,55.5 174.80,57.1 174.85,47.5 174.90,53.0 174.95,59.5 175.00,59.0 175.05,49.3 175.10,60.0 175.15,57.9 175.20,59.1 175.25,55.5 175.30,56.1 175.35,52.6 175.40,57.1 175.45,59.0 175.50,53.0 175.55,57.2 175.60,54.3 175.65,59.4 175.70,59.2 175.75,48.4 175.80,57.4 175.85,59.2 175.90,54.2 175.95,55.2 176.00,55.4 176.05,52.2 176.10,55.5 176.15,60.9 176.20,62.1 176.25,60.8 176.30,59.1 176.35,59.7 176.40,56.2 176.45,58.3 176.50,62.3 176.55,60.5 176.60,56.8 176.65,53.5 176.70,52.8 176.75,56.5 176.80,57.2 176.85,49.8 176.90,56.4 176.95,56.8 177.00,56.7 177.05,53.9 177.10,63.1 177.15,58.5 177.20,51.2 177.25,53.3 177.30,58.2 177.35,57.2 177.40,56.0 177.45,55.5 177.50,54.9 177.55,54.1 177.60,52.2 177.65,57.3 177.70,46.5 177.75,53.1 177.80,59.4 177.85,52.9 177.90,51.5 177.95,61.5 178.00,58.7 178.05,54.9 178.10,53.4 178.15,54.6 178.20,54.2 178.25,54.6 178.30,53.0 178.35,57.2 178.40,53.7 178.45,49.6 178.50,51.3 178.55,55.5 178.60,52.3 178.65,47.6 178.70,60.4 178.75,57.2 178.80,54.1 178.85,54.0 178.90,57.3 178.95,60.1 179.00,53.7 179.05,57.0 179.10,53.7 179.15,56.8 179.20,52.1 179.25,49.9 179.30,56.1 179.35,55.7 179.40,58.2 179.45,53.8 179.50,60.4 179.55,56.3 179.60,61.0 179.65,54.9 179.70,60.9 179.75,55.9 179.80,56.6 179.85,59.2 179.90,50.5 179.95,52.8 180.00,62.1 180.05,51.4 180.10,54.7 180.15,58.1 180.20,61.0 180.25,54.7 180.30,56.8 180.35,52.8 180.40,55.2 180.45,59.8 180.50,57.6 180.55,56.4 180.60,57.9 180.65,57.0 180.70,57.2 180.75,55.5 180.80,53.6 180.85,58.9 180.90,53.1 180.95,60.1 181.00,63.6 181.05,61.6 181.10,64.2 181.15,53.3 181.20,57.4 181.25,53.7 181.30,54.0 181.35,50.8 181.40,52.4 181.45,58.8 181.50,58.0 181.55,58.8 181.60,58.9 181.65,56.8 181.70,51.3 181.75,53.1 181.80,56.3 181.85,56.7 181.90,52.3 181.95,50.6 182.00,50.7 182.05,57.1 182.10,56.6 182.15,51.3 182.20,50.9 182.25,55.2 182.30,47.9 182.35,52.7 182.40,52.2 182.45,51.9 182.50,55.1 182.55,56.0 182.60,64.1 182.65,54.8 182.70,56.7 182.75,52.0 182.80,49.3 182.85,58.3 182.90,60.9 182.95,51.4 183.00,54.3 183.05,58.0 183.10,54.7 183.15,46.7 183.20,57.5 183.25,53.8 183.30,56.5 183.35,51.1 183.40,56.9 183.45,57.3 183.50,51.6 183.55,55.4 183.60,51.8 183.65,52.1 183.70,50.8 183.75,52.2 183.80,51.4 183.85,57.2 183.90,52.7 183.95,49.8 184.00,57.6 184.05,54.9 184.10,56.3 184.15,53.0 184.20,55.5 184.25,53.1 184.30,50.4 184.35,53.9 184.40,54.1 184.45,54.2 184.50,56.5 184.55,48.4 184.60,54.9 184.65,51.5 184.70,53.3 184.75,55.7 184.80,54.5 184.85,52.3 184.90,56.9 184.95,54.4 185.00,57.7 185.05,58.7 185.10,53.7 185.15,51.5 185.20,55.3 185.25,57.7 185.30,56.2 185.35,51.6 185.40,50.0 185.45,52.5 185.50,52.5 185.55,57.6 185.60,55.9 185.65,58.6 185.70,55.6 185.75,61.3 185.80,56.1 185.85,57.9 185.90,54.9 185.95,57.7 186.00,59.8 186.05,58.9 186.10,60.6 186.15,54.7 186.20,58.2 186.25,62.2 186.30,57.7 186.35,56.5 186.40,56.3 186.45,55.5 186.50,57.7 186.55,61.7 186.60,58.8 186.65,57.4 186.70,55.1 186.75,54.1 186.80,65.3 186.85,56.3 186.90,58.2 186.95,56.4 187.00,58.6 187.05,56.8 187.10,58.5 187.15,62.8 187.20,55.9 187.25,59.8 187.30,57.9 187.35,60.4 187.40,56.0 187.45,59.4 187.50,55.0 187.55,52.4 187.60,54.0 187.65,55.1 187.70,54.5 187.75,57.0 187.80,61.5 187.85,54.4 187.90,59.4 187.95,58.5 188.00,55.8 188.05,55.0 188.10,59.3 188.15,59.5 188.20,47.5 188.25,57.5 188.30,57.9 188.35,53.8 188.40,58.3 188.45,58.9 188.50,63.4 188.55,53.9 188.60,55.2 188.65,58.2 188.70,56.1 188.75,56.6 188.80,57.9 188.85,57.0 188.90,57.8 188.95,59.3 189.00,52.8 189.05,59.6 189.10,50.9 189.15,63.2 189.20,60.8 189.25,56.0 189.30,61.1 189.35,57.4 189.40,59.2 189.45,60.2 189.50,59.0 189.55,57.9 189.60,59.8 189.65,57.3 189.70,56.7 189.75,54.9 189.80,52.2 189.85,62.8 189.90,60.3 189.95,53.5 190.00,59.1 190.05,58.5 190.10,51.0 190.15,55.2 190.20,57.4 190.25,63.1 190.30,61.1 190.35,61.5 190.40,58.6 190.45,60.6 190.50,53.8 190.55,59.4 190.60,59.7 190.65,53.4 190.70,58.1 190.75,62.0 190.80,63.2 190.85,61.6 190.90,54.9 190.95,56.8 191.00,55.4 191.05,60.8 191.10,54.3 191.15,53.6 191.20,51.8 191.25,57.4 191.30,58.1 191.35,54.8 191.40,54.3 191.45,56.0 191.50,60.7 191.55,52.3 191.60,56.3 191.65,57.0 191.70,57.5 191.75,60.2 191.80,58.8 191.85,57.0 191.90,60.7 191.95,59.6 192.00,56.9 192.05,56.7 192.10,52.3 192.15,56.3 192.20,53.4 192.25,52.2 192.30,54.9 192.35,50.3 192.40,52.9 192.45,54.0 192.50,56.5 192.55,54.4 192.60,56.6 192.65,60.2 192.70,57.8 192.75,51.6 192.80,49.6 192.85,52.2 192.90,52.3 192.95,48.8 193.00,49.6 193.05,49.5 193.10,52.9 193.15,59.2 193.20,60.1 193.25,51.7 193.30,53.4 193.35,50.6 193.40,49.9 193.45,54.7 193.50,55.1 193.55,53.0 193.60,57.0 193.65,54.0 193.70,58.4 193.75,53.5 193.80,57.8 193.85,54.5 193.90,55.6 193.95,57.2 194.00,51.1 194.05,53.0 194.10,55.2 194.15,54.5 194.20,56.3 194.25,53.0 194.30,51.4 194.35,55.3 194.40,56.5 194.45,53.2 194.50,59.5 194.55,57.9 194.60,58.5 194.65,58.3 194.70,53.3 194.75,62.6 194.80,53.9 194.85,57.3 194.90,58.5 194.95,57.3 195.00,56.9 195.05,53.9 195.10,55.3 195.15,56.7 195.20,60.6 195.25,54.6 195.30,58.9 195.35,58.2 195.40,57.1 195.45,55.2 195.50,56.6 195.55,51.7 195.60,57.5 195.65,58.2 195.70,55.7 195.75,59.0 195.80,58.4 195.85,55.2 195.90,60.1 195.95,55.9 196.00,65.1 196.05,54.5 196.10,55.2 196.15,55.7 196.20,58.4 196.25,61.2 196.30,57.9 196.35,56.3 196.40,63.5 196.45,60.7 196.50,56.6 196.55,57.1 196.60,52.7 196.65,57.5 196.70,62.7 196.75,53.8 196.80,52.9 196.85,57.7 196.90,49.9 196.95,61.5 197.00,52.5 197.05,54.9 197.10,56.6 197.15,60.8 197.20,58.3 197.25,51.1 197.30,51.7 197.35,57.6 197.40,50.4 197.45,55.9 197.50,54.3 197.55,59.3 197.60,60.5 197.65,48.9 197.70,58.0 197.75,58.6 197.80,54.2 197.85,54.7 197.90,52.8 197.95,55.4 198.00,57.7 198.05,60.6 198.10,60.9 198.15,55.5 198.20,53.8 198.25,59.4 198.30,47.7 198.35,51.9 198.40,58.2 198.45,63.1 198.50,53.8 198.55,56.5 198.60,52.7 198.65,55.9 198.70,55.8 198.75,53.7 198.80,57.3 198.85,55.5 198.90,57.6 198.95,55.4 199.00,52.2 199.05,56.4 199.10,58.6 199.15,53.5 199.20,60.2 199.25,57.5 199.30,55.0 199.35,56.3 199.40,54.9 199.45,53.5 199.50,59.2 199.55,59.2 199.60,55.0 199.65,55.9 199.70,55.9 199.75,58.7 199.80,61.2 199.85,54.6 199.90,57.7 199.95,56.7 200.00,58.5 200.05,61.3 200.10,54.2 200.15,50.6 200.20,56.5 200.25,52.1 200.30,62.3 200.35,55.0 200.40,56.3 200.45,58.0 200.50,58.0 200.55,56.0 200.60,57.4 200.65,60.4 200.70,56.5 200.75,63.3 200.80,58.7 200.85,50.3 200.90,60.5 200.95,52.3 201.00,58.8 201.05,64.9 201.10,61.2 201.15,54.4 201.20,55.5 201.25,58.1 201.30,62.6 201.35,55.9 201.40,61.6 201.45,59.2 201.50,58.0 201.55,57.8 201.60,63.6 201.65,53.7 201.70,54.9 201.75,61.3 201.80,61.6 201.85,54.6 201.90,55.8 201.95,55.1 202.00,60.4 202.05,56.7 202.10,63.2 202.15,61.2 202.20,59.5 202.25,59.2 202.30,60.2 202.35,61.1 202.40,58.5 202.45,59.1 202.50,60.7 202.55,58.0 202.60,61.2 202.65,57.7 202.70,55.6 202.75,58.5 202.80,63.0 202.85,62.5 202.90,52.8 202.95,58.6 203.00,56.1 203.05,56.5 203.10,56.4 203.15,56.7 203.20,55.7 203.25,56.4 203.30,57.8 203.35,53.3 203.40,53.2 203.45,53.5 203.50,53.4 203.55,58.7 203.60,53.3 203.65,56.4 203.70,56.8 203.75,58.8 203.80,56.6 203.85,59.7 203.90,56.1 203.95,57.0 204.00,58.6 204.05,51.6 204.10,57.3 204.15,60.7 204.20,56.3 204.25,55.1 204.30,61.7 204.35,56.1 204.40,59.5 204.45,48.2 204.50,55.9 204.55,53.9 204.60,56.6 204.65,59.0 204.70,54.8 204.75,54.5 204.80,46.4 204.85,57.5 204.90,59.1 204.95,55.4 205.00,53.4 205.05,55.9 205.10,57.9 205.15,56.8 205.20,61.2 205.25,53.1 205.30,50.6 205.35,56.4 205.40,58.9 205.45,53.5 205.50,55.0 205.55,53.0 205.60,51.1 205.65,52.8 205.70,48.7 205.75,56.0 205.80,56.6 205.85,57.9 205.90,52.6 205.95,53.3 206.00,50.1 206.05,50.8 206.10,58.1 206.15,64.1 206.20,52.1 206.25,54.2 206.30,58.3 206.35,53.3 206.40,57.3 206.45,54.6 206.50,54.6 206.55,58.4 206.60,54.8 206.65,58.5 206.70,58.2 206.75,55.8 206.80,54.0 206.85,53.3 206.90,57.6 206.95,53.6 207.00,56.2 207.05,59.0 207.10,55.6 207.15,59.3 207.20,51.7 207.25,57.9 207.30,57.7 207.35,61.9 207.40,56.2 207.45,58.9 207.50,55.7 207.55,52.9 207.60,53.5 207.65,54.1 207.70,58.7 207.75,53.9 207.80,56.5 207.85,59.2 207.90,60.3 207.95,59.4 208.00,61.1 208.05,53.0 208.10,55.0 208.15,57.6 208.20,60.1 208.25,58.2 208.30,54.4 208.35,56.2 208.40,51.7 208.45,59.4 208.50,51.4 208.55,57.6 208.60,60.3 208.65,59.8 208.70,52.1 208.75,57.8 208.80,56.1 208.85,56.3 208.90,62.3 208.95,58.2 209.00,52.9 209.05,54.0 209.10,59.6 209.15,58.2 209.20,54.0 209.25,52.4 209.30,55.9 209.35,56.3 209.40,60.2 209.45,55.8 209.50,59.8 209.55,61.5 209.60,52.9 209.65,56.0 209.70,62.7 209.75,56.6 209.80,57.9 209.85,61.0 209.90,55.7 209.95,56.8 210.00,53.0 210.05,59.9 210.10,56.7 210.15,57.1 210.20,50.3 210.25,61.3 210.30,60.5 210.35,55.9 210.40,62.2 210.45,50.9 210.50,58.3 210.55,53.3 210.60,67.0 210.65,50.5 210.70,54.9 210.75,56.3 210.80,61.2 210.85,61.3 210.90,60.0 210.95,58.1 211.00,65.5 211.05,56.7 211.10,59.9 211.15,64.4 211.20,55.1 211.25,56.5 211.30,62.4 211.35,60.4 211.40,54.9 211.45,59.1 211.50,65.0 211.55,58.3 211.60,61.6 211.65,59.5 211.70,56.9 211.75,64.1 211.80,62.1 211.85,62.9 211.90,58.7 211.95,59.5 212.00,59.9 212.05,60.6 212.10,58.1 212.15,57.6 212.20,63.3 212.25,55.8 212.30,57.9 212.35,58.1 212.40,57.7 212.45,55.5 212.50,56.9 212.55,61.8 212.60,58.2 212.65,57.0 212.70,64.5 212.75,55.2 212.80,62.6 212.85,60.5 212.90,55.2 212.95,58.1 213.00,58.2 213.05,63.4 213.10,62.3 213.15,58.6 213.20,55.8 213.25,54.2 213.30,59.0 213.35,55.1 213.40,59.0 213.45,58.9 213.50,60.7 213.55,62.7 213.60,59.9 213.65,61.0 213.70,59.1 213.75,62.8 213.80,62.2 213.85,64.6 213.90,63.9 213.95,57.4 214.00,55.1 214.05,61.7 214.10,63.3 214.15,57.5 214.20,64.2 214.25,59.8 214.30,59.1 214.35,60.4 214.40,54.8 214.45,54.0 214.50,58.0 214.55,55.3 214.60,58.8 214.65,58.8 214.70,50.7 214.75,56.1 214.80,60.1 214.85,51.2 214.90,57.3 214.95,54.0 215.00,52.1 215.05,61.5 215.10,61.3 215.15,56.6 215.20,56.3 215.25,62.1 215.30,61.4 215.35,57.5 215.40,60.2 215.45,57.7 215.50,56.4 215.55,59.2 215.60,55.8 215.65,58.9 215.70,56.2 215.75,55.5 215.80,55.1 215.85,58.2 215.90,59.6 215.95,57.9 216.00,53.8 216.05,58.3 216.10,53.6 216.15,52.8 216.20,55.6 216.25,58.6 216.30,58.2 216.35,57.7 216.40,60.2 216.45,58.5 216.50,54.6 216.55,58.1 216.60,54.8 216.65,56.8 216.70,57.3 216.75,55.2 216.80,50.7 216.85,54.8 216.90,54.2 216.95,54.8 217.00,53.7 217.05,51.5 217.10,49.9 217.15,57.0 217.20,57.4 217.25,56.2 217.30,55.0 217.35,61.2 217.40,57.2 217.45,55.3 217.50,57.9 217.55,55.1 217.60,57.6 217.65,56.3 217.70,57.2 217.75,55.7 217.80,54.2 217.85,57.2 217.90,59.2 217.95,52.9 218.00,54.2 218.05,52.5 218.10,58.6 218.15,55.3 218.20,58.7 218.25,53.6 218.30,58.6 218.35,54.4 218.40,54.8 218.45,57.9 218.50,55.1 218.55,54.5 218.60,59.1 218.65,56.2 218.70,60.3 218.75,64.3 218.80,54.8 218.85,55.6 218.90,52.0 218.95,53.1 219.00,58.6 219.05,57.7 219.10,57.7 219.15,58.3 219.20,54.3 219.25,51.8 219.30,60.3 219.35,57.8 219.40,60.6 219.45,57.0 219.50,59.5 219.55,55.6 219.60,57.3 219.65,56.8 219.70,58.5 219.75,61.7 219.80,59.4 219.85,48.6 219.90,57.2 219.95,57.6 220.00,60.1 220.05,58.1 220.10,55.6 220.15,55.3 220.20,56.7 220.25,55.6 220.30,62.2 220.35,59.7 220.40,58.0 220.45,60.9 220.50,64.5 220.55,57.3 220.60,57.9 220.65,57.1 220.70,54.3 220.75,56.1 220.80,55.2 220.85,59.6 220.90,59.5 220.95,60.8 221.00,55.8 221.05,61.2 221.10,55.2 221.15,57.7 221.20,62.2 221.25,62.1 221.30,61.7 221.35,64.8 221.40,61.6 221.45,57.7 221.50,57.8 221.55,56.1 221.60,59.2 221.65,56.2 221.70,56.6 221.75,55.6 221.80,53.4 221.85,66.2 221.90,61.4 221.95,52.3 222.00,60.1 222.05,57.0 222.10,52.2 222.15,58.1 222.20,59.4 222.25,60.6 222.30,62.2 222.35,56.3 222.40,58.7 222.45,61.0 222.50,60.6 222.55,60.2 222.60,59.3 222.65,62.8 222.70,55.2 222.75,54.5 222.80,64.4 222.85,60.4 222.90,62.6 222.95,59.9 223.00,58.1 223.05,57.8 223.10,59.7 223.15,57.8 223.20,59.0 223.25,59.0 223.30,61.7 223.35,61.6 223.40,64.1 223.45,57.0 223.50,59.0 223.55,62.1 223.60,60.2 223.65,51.6 223.70,60.2 223.75,59.1 223.80,57.6 223.85,57.8 223.90,56.8 223.95,62.6 224.00,61.1 224.05,59.7 224.10,62.4 224.15,61.9 224.20,56.5 224.25,55.8 224.30,55.9 224.35,61.2 224.40,58.9 224.45,62.6 224.50,60.5 224.55,58.3 224.60,55.0 224.65,58.1 224.70,65.7 224.75,56.7 224.80,56.3 224.85,58.1 224.90,62.9 224.95,58.6 225.00,55.4 225.05,56.9 225.10,58.3 225.15,58.9 225.20,61.8 225.25,66.3 225.30,62.8 225.35,60.6 225.40,58.5 225.45,56.1 225.50,60.3 225.55,62.4 225.60,61.0 225.65,58.1 225.70,60.5 225.75,57.8 225.80,57.9 225.85,57.7 225.90,58.6 225.95,58.1 226.00,61.4 226.05,58.3 226.10,58.0 226.15,61.5 226.20,60.5 226.25,61.9 226.30,56.2 226.35,62.5 226.40,58.6 226.45,55.4 226.50,64.3 226.55,55.0 226.60,55.8 226.65,57.6 226.70,61.8 226.75,54.9 226.80,59.8 226.85,58.2 226.90,63.8 226.95,59.7 227.00,61.0 227.05,63.5 227.10,56.0 227.15,58.3 227.20,54.9 227.25,56.9 227.30,60.5 227.35,59.0 227.40,60.8 227.45,58.4 227.50,57.6 227.55,59.3 227.60,57.1 227.65,56.5 227.70,55.1 227.75,59.5 227.80,61.3 227.85,56.3 227.90,58.6 227.95,53.1 228.00,56.5 228.05,60.3 228.10,56.3 228.15,61.5 228.20,59.0 228.25,61.4 228.30,58.7 228.35,56.1 228.40,60.4 228.45,62.7 228.50,59.0 228.55,61.8 228.60,58.5 228.65,59.7 228.70,64.5 228.75,60.8 228.80,58.1 228.85,62.6 228.90,61.2 228.95,59.5 229.00,63.2 229.05,52.5 229.10,63.0 229.15,66.9 229.20,62.0 229.25,55.4 229.30,65.1 229.35,68.5 229.40,62.6 229.45,57.6 229.50,58.7 229.55,60.3 229.60,61.2 229.65,64.1 229.70,62.2 229.75,53.7 229.80,59.5 229.85,59.9 229.90,65.8 229.95,58.4 230.00,55.9 230.05,59.1 230.10,60.8 230.15,54.4 230.20,63.1 230.25,59.4 230.30,62.2 230.35,61.7 230.40,61.2 230.45,63.7 230.50,64.5 230.55,58.2 230.60,59.1 230.65,62.4 230.70,59.7 230.75,57.3 230.80,59.4 230.85,56.4 230.90,57.4 230.95,48.6 231.00,59.2 231.05,64.3 231.10,60.9 231.15,60.7 231.20,59.1 231.25,56.2 231.30,59.9 231.35,58.6 231.40,57.9 231.45,59.0 231.50,56.5 231.55,58.5 231.60,60.0 231.65,61.0 231.70,58.4 231.75,60.3 231.80,58.3 231.85,50.9 231.90,51.8 231.95,57.0 232.00,54.2 232.05,59.2 232.10,53.4 232.15,56.2 232.20,55.8 232.25,55.3 232.30,55.8 232.35,57.5 232.40,57.9 232.45,56.1 232.50,58.2 232.55,59.4 232.60,57.2 232.65,55.8 232.70,55.9 232.75,56.5 232.80,56.4 232.85,58.3 232.90,66.2 232.95,61.5 233.00,58.3 233.05,60.0 233.10,60.0 233.15,62.1 233.20,62.7 233.25,55.5 233.30,65.2 233.35,55.9 233.40,58.8 233.45,56.1 233.50,53.5 233.55,53.3 233.60,64.7 233.65,63.3 233.70,55.9 233.75,55.5 233.80,63.4 233.85,56.1 233.90,60.4 233.95,65.2 234.00,61.4 234.05,63.7 234.10,59.9 234.15,54.1 234.20,56.8 234.25,53.9 234.30,60.3 234.35,55.4 234.40,59.8 234.45,57.9 234.50,57.4 234.55,61.1 234.60,58.1 234.65,57.1 234.70,62.7 234.75,59.5 234.80,55.2 234.85,63.3 234.90,55.5 234.95,60.5 235.00,61.4 235.05,59.1 235.10,57.4 235.15,58.9 235.20,58.8 235.25,56.5 235.30,62.4 235.35,57.9 235.40,57.5 235.45,63.9 235.50,57.4 235.55,54.9 235.60,59.4 235.65,59.6 235.70,59.6 235.75,65.8 235.80,57.7 235.85,63.5 235.90,62.1 235.95,63.8 236.00,59.0 236.05,58.3 236.10,58.7 236.15,60.2 236.20,62.2 236.25,64.3 236.30,53.8 236.35,62.4 236.40,60.3 236.45,59.3 236.50,55.9 236.55,60.1 236.60,53.5 236.65,62.8 236.70,56.1 236.75,58.6 236.80,58.4 236.85,60.6 236.90,54.8 236.95,61.3 237.00,60.0 237.05,63.5 237.10,59.6 237.15,58.3 237.20,52.9 237.25,57.5 237.30,63.6 237.35,57.1 237.40,57.0 237.45,58.0 237.50,61.0 237.55,53.0 237.60,63.9 237.65,60.1 237.70,60.5 237.75,58.2 237.80,64.3 237.85,56.9 237.90,60.7 237.95,58.5 238.00,54.3 238.05,57.7 238.10,60.2 238.15,57.3 238.20,56.9 238.25,58.2 238.30,55.7 238.35,55.0 238.40,58.7 238.45,55.6 238.50,60.3 238.55,60.8 238.60,62.6 238.65,61.7 238.70,58.0 238.75,60.2 238.80,55.4 238.85,60.3 238.90,57.6 238.95,63.3 239.00,57.1 239.05,59.8 239.10,57.0 239.15,61.3 239.20,61.4 239.25,56.5 239.30,65.6 239.35,61.2 239.40,55.4 239.45,57.0 239.50,54.3 239.55,53.8 239.60,59.5 239.65,53.7 239.70,61.3 239.75,55.2 239.80,59.0 239.85,65.5 239.90,59.2 239.95,60.3 240.00,64.3 240.05,59.6 240.10,62.2 240.15,58.2 240.20,59.6 240.25,61.2 240.30,60.9 240.35,58.6 240.40,61.6 240.45,62.9 240.50,63.0 240.55,61.3 240.60,58.3 240.65,63.4 240.70,63.9 240.75,58.4 240.80,54.4 240.85,60.9 240.90,64.7 240.95,64.3 241.00,58.1 241.05,65.8 241.10,59.1 241.15,64.6 241.20,60.4 241.25,64.7 241.30,63.2 241.35,60.9 241.40,63.8 241.45,59.5 241.50,60.3 241.55,60.5 241.60,58.8 241.65,64.2 241.70,64.2 241.75,61.3 241.80,58.3 241.85,62.7 241.90,62.1 241.95,63.1 242.00,61.1 242.05,60.4 242.10,65.3 242.15,59.2 242.20,60.4 242.25,55.5 242.30,59.8 242.35,59.4 242.40,59.8 242.45,62.6 242.50,58.9 242.55,62.0 242.60,59.5 242.65,59.3 242.70,54.9 242.75,61.8 242.80,62.4 242.85,57.5 242.90,58.6 242.95,54.8 243.00,59.2 243.05,56.9 243.10,61.4 243.15,59.8 243.20,62.0 243.25,57.5 243.30,54.8 243.35,59.8 243.40,58.2 243.45,65.5 243.50,60.6 243.55,64.2 243.60,61.4 243.65,58.8 243.70,55.1 243.75,59.0 243.80,61.6 243.85,59.9 243.90,60.6 243.95,60.5 244.00,55.5 244.05,60.5 244.10,57.1 244.15,59.4 244.20,63.7 244.25,53.4 244.30,58.7 244.35,60.5 244.40,62.8 244.45,59.7 244.50,56.9 244.55,61.9 244.60,61.2 244.65,54.1 244.70,59.7 244.75,54.2 244.80,51.4 244.85,56.4 244.90,56.6 244.95,52.9 245.00,65.2 245.05,55.4 245.10,60.6 245.15,61.7 245.20,66.2 245.25,58.5 245.30,64.5 245.35,56.0 245.40,59.4 245.45,58.3 245.50,56.5 245.55,60.6 245.60,65.4 245.65,66.1 245.70,61.6 245.75,56.1 245.80,57.1 245.85,61.4 245.90,61.3 245.95,61.3 246.00,58.7 246.05,56.7 246.10,60.9 246.15,59.4 246.20,63.9 246.25,57.4 246.30,62.1 246.35,63.7 246.40,65.6 246.45,65.5 246.50,56.3 246.55,55.9 246.60,59.9 246.65,56.8 246.70,52.1 246.75,64.0 246.80,61.0 246.85,62.7 246.90,60.0 246.95,63.1 247.00,60.3 247.05,59.9 247.10,65.4 247.15,55.9 247.20,61.1 247.25,54.5 247.30,64.0 247.35,58.6 247.40,55.5 247.45,53.6 247.50,58.5 247.55,65.3 247.60,60.7 247.65,54.3 247.70,52.7 247.75,67.8 247.80,57.2 247.85,54.4 247.90,59.4 247.95,60.7 248.00,63.8 248.05,58.2 248.10,56.6 248.15,60.9 248.20,56.2 248.25,59.8 248.30,59.2 248.35,61.7 248.40,56.4 248.45,56.5 248.50,59.4 248.55,60.0 248.60,53.9 248.65,55.9 248.70,58.9 248.75,57.2 248.80,65.4 248.85,60.5 248.90,62.2 248.95,58.0 249.00,58.5 249.05,58.6 249.10,61.5 249.15,57.1 249.20,63.0 249.25,55.8 249.30,61.1 249.35,58.8 249.40,56.8 249.45,62.9 249.50,61.0 249.55,57.3 249.60,55.5 249.65,60.4 249.70,55.3 249.75,59.5 249.80,54.9 249.85,58.0 249.90,55.0 249.95,57.0 250.00,62.8 250.05,63.0 250.10,56.1 250.15,56.8 250.20,52.5 250.25,58.7 250.30,61.4 250.35,55.3 250.40,55.2 250.45,59.3 250.50,56.5 250.55,58.9 250.60,63.3 250.65,60.0 250.70,60.7 250.75,64.6 250.80,59.6 250.85,61.0 250.90,59.2 250.95,56.7 251.00,64.2 251.05,54.9 251.10,59.6 251.15,55.8 251.20,56.9 251.25,55.6 251.30,58.9 251.35,61.2 251.40,63.9 251.45,54.1 251.50,60.7 251.55,58.9 251.60,58.3 251.65,59.9 251.70,61.0 251.75,60.1 251.80,60.6 251.85,67.5 251.90,61.1 251.95,61.9 252.00,62.0 252.05,64.4 252.10,59.5 252.15,60.9 252.20,58.9 252.25,61.1 252.30,58.6 252.35,57.5 252.40,57.3 252.45,60.5 252.50,61.8 252.55,64.1 252.60,67.1 252.65,67.8 252.70,60.2 252.75,60.0 252.80,64.7 252.85,59.7 252.90,66.0 252.95,65.9 253.00,59.8 253.05,65.2 253.10,67.4 253.15,64.3 253.20,62.0 253.25,62.4 253.30,64.4 253.35,60.6 253.40,63.9 253.45,62.1 253.50,60.5 253.55,59.8 253.60,64.5 253.65,60.0 253.70,63.4 253.75,57.0 253.80,62.1 253.85,63.0 253.90,63.7 253.95,65.6 254.00,64.2 254.05,64.3 254.10,61.7 254.15,59.4 254.20,59.0 254.25,60.2 254.30,63.3 254.35,65.6 254.40,63.5 254.45,63.1 254.50,64.8 254.55,61.4 254.60,62.9 254.65,62.0 254.70,63.0 254.75,61.6 254.80,58.3 254.85,61.1 254.90,59.8 254.95,67.6 255.00,66.6 255.05,60.3 255.10,59.5 255.15,62.2 255.20,57.5 255.25,65.9 255.30,61.9 255.35,60.6 255.40,65.2 255.45,65.9 255.50,62.4 255.55,65.0 255.60,56.8 255.65,59.5 255.70,59.3 255.75,56.8 255.80,64.5 255.85,69.1 255.90,57.7 255.95,60.0 256.00,65.0 256.05,60.8 256.10,61.6 256.15,59.2 256.20,62.7 256.25,58.7 256.30,64.0 256.35,63.2 256.40,62.8 256.45,59.3 256.50,61.0 256.55,63.1 256.60,58.9 256.65,58.6 256.70,54.7 256.75,60.0 256.80,61.2 256.85,64.6 256.90,58.0 256.95,57.2 257.00,65.4 257.05,65.0 257.10,58.2 257.15,60.1 257.20,56.1 257.25,61.5 257.30,65.6 257.35,64.1 257.40,58.4 257.45,62.5 257.50,59.5 257.55,62.7 257.60,60.0 257.65,63.6 257.70,65.6 257.75,62.7 257.80,62.8 257.85,62.9 257.90,64.4 257.95,60.4 258.00,61.2 258.05,61.3 258.10,65.8 258.15,62.2 258.20,63.5 258.25,60.6 258.30,57.6 258.35,60.8 258.40,63.2 258.45,60.8 258.50,60.0 258.55,60.6 258.60,63.4 258.65,63.1 258.70,61.8 258.75,58.9 258.80,59.7 258.85,72.8 258.90,61.3 258.95,63.7 259.00,62.7 259.05,57.6 259.10,65.8 259.15,62.1 259.20,59.1 259.25,64.2 259.30,60.1 259.35,62.8 259.40,57.8 259.45,61.3 259.50,63.9 259.55,60.4 259.60,57.6 259.65,59.4 259.70,64.0 259.75,57.1 259.80,57.7 259.85,64.3 259.90,62.3 259.95,61.8 260.00,60.6 260.05,63.2 260.10,64.5 260.15,63.4 260.20,56.7 260.25,64.0 260.30,57.0 260.35,67.3 260.40,60.7 260.45,63.9 260.50,63.1 260.55,60.2 260.60,65.8 260.65,62.8 260.70,68.7 260.75,64.2 260.80,63.3 260.85,69.9 260.90,66.5 260.95,62.4 261.00,59.9 261.05,68.3 261.10,66.1 261.15,66.2 261.20,61.4 261.25,60.6 261.30,59.7 261.35,66.0 261.40,62.0 261.45,64.5 261.50,55.8 261.55,65.7 261.60,60.3 261.65,54.2 261.70,58.6 261.75,63.8 261.80,67.2 261.85,54.1 261.90,58.3 261.95,62.9 262.00,57.7 262.05,61.2 262.10,59.3 262.15,62.7 262.20,57.9 262.25,66.7 262.30,59.8 262.35,62.8 262.40,62.1 262.45,65.4 262.50,63.0 262.55,67.7 262.60,57.3 262.65,61.5 262.70,64.6 262.75,62.6 262.80,54.1 262.85,63.2 262.90,60.7 262.95,69.8 263.00,61.8 263.05,64.3 263.10,59.2 263.15,64.3 263.20,53.5 263.25,58.9 263.30,60.9 263.35,57.1 263.40,65.1 263.45,62.1 263.50,67.2 263.55,57.6 263.60,59.4 263.65,64.0 263.70,60.4 263.75,64.5 263.80,63.9 263.85,59.6 263.90,62.3 263.95,63.6 264.00,62.6 264.05,61.2 264.10,60.3 264.15,61.1 264.20,64.9 264.25,68.2 264.30,57.4 264.35,58.6 264.40,61.2 264.45,66.3 264.50,59.1 264.55,69.0 264.60,68.8 264.65,54.3 264.70,63.8 264.75,55.9 264.80,60.3 264.85,55.9 264.90,62.5 264.95,60.4 265.00,65.3 265.05,63.4 265.10,58.7 265.15,67.7 265.20,67.3 265.25,66.2 265.30,61.8 265.35,64.5 265.40,61.9 265.45,59.8 265.50,55.7 265.55,62.4 265.60,55.3 265.65,63.7 265.70,57.2 265.75,62.1 265.80,60.5 265.85,57.8 265.90,58.1 265.95,59.5 266.00,66.0 266.05,62.5 266.10,60.4 266.15,63.8 266.20,57.5 266.25,56.4 266.30,58.3 266.35,64.3 266.40,60.1 266.45,61.4 266.50,61.3 266.55,59.6 266.60,64.8 266.65,63.1 266.70,58.2 266.75,57.6 266.80,60.7 266.85,57.9 266.90,60.7 266.95,63.0 267.00,60.8 267.05,61.2 267.10,59.1 267.15,58.1 267.20,57.3 267.25,64.6 267.30,58.1 267.35,60.8 267.40,60.8 267.45,61.9 267.50,59.4 267.55,55.3 267.60,67.0 267.65,57.0 267.70,62.2 267.75,56.9 267.80,62.4 267.85,56.9 267.90,65.6 267.95,61.7 268.00,55.2 268.05,65.5 268.10,54.2 268.15,59.1 268.20,63.7 268.25,58.9 268.30,64.2 268.35,60.3 268.40,58.3 268.45,64.1 268.50,60.3 268.55,58.6 268.60,63.1 268.65,59.3 268.70,55.8 268.75,57.8 268.80,68.0 268.85,67.4 268.90,55.1 268.95,62.6 269.00,64.0 269.05,59.2 269.10,62.3 269.15,56.8 269.20,59.0 269.25,63.4 269.30,59.9 269.35,59.6 269.40,59.3 269.45,55.8 269.50,56.8 269.55,58.3 269.60,59.6 269.65,57.2 269.70,66.0 269.75,54.4 269.80,56.5 269.85,57.9 269.90,61.7 269.95,55.4 270.00,60.8 270.05,57.3 270.10,57.5 270.15,61.4 270.20,62.6 270.25,63.3 270.30,56.2 270.35,63.3 270.40,63.3 270.45,61.1 270.50,61.5 270.55,60.2 270.60,59.6 270.65,62.8 270.70,65.4 270.75,59.2 270.80,61.2 270.85,63.1 270.90,55.6 270.95,65.3 271.00,61.2 271.05,64.7 271.10,59.2 271.15,57.3 271.20,59.5 271.25,61.0 271.30,56.8 271.35,62.8 271.40,60.6 271.45,56.4 271.50,60.8 271.55,58.6 271.60,59.4 271.65,58.3 271.70,56.1 271.75,55.2 271.80,58.4 271.85,59.8 271.90,59.3 271.95,56.1 272.00,58.9 272.05,62.2 272.10,54.3 272.15,59.5 272.20,66.1 272.25,57.5 272.30,57.3 272.35,59.6 272.40,57.7 272.45,62.2 272.50,59.2 272.55,59.2 272.60,57.4 272.65,61.5 272.70,59.6 272.75,58.8 272.80,59.2 272.85,55.7 272.90,60.2 272.95,61.1 273.00,64.5 273.05,59.9 273.10,63.3 273.15,57.0 273.20,62.3 273.25,53.5 273.30,60.7 273.35,58.9 273.40,58.0 273.45,63.7 273.50,62.6 273.55,63.0 273.60,65.0 273.65,61.9 273.70,62.1 273.75,60.1 273.80,66.2 273.85,63.1 273.90,57.8 273.95,57.5 274.00,57.9 274.05,57.9 274.10,64.3 274.15,61.3 274.20,63.7 274.25,58.0 274.30,58.0 274.35,64.4 274.40,54.2 274.45,56.8 274.50,54.0 274.55,58.6 274.60,68.9 274.65,58.4 274.70,64.2 274.75,66.1 274.80,58.9 274.85,58.8 274.90,62.2 274.95,63.3 275.00,56.3 275.05,58.7 275.10,66.5 275.15,58.8 275.20,62.6 275.25,64.8 275.30,60.5 275.35,61.1 275.40,60.0 275.45,59.7 275.50,59.9 275.55,56.7 275.60,60.3 275.65,61.3 275.70,64.3 275.75,60.8 275.80,60.1 275.85,68.2 275.90,62.2 275.95,61.6 276.00,60.7 276.05,62.4 276.10,59.8 276.15,61.0 276.20,59.9 276.25,58.9 276.30,61.3 276.35,58.5 276.40,68.3 276.45,59.3 276.50,68.5 276.55,64.0 276.60,65.9 276.65,67.7 276.70,58.0 276.75,68.4 276.80,64.9 276.85,61.9 276.90,61.1 276.95,64.7 277.00,58.6 277.05,69.3 277.10,63.2 277.15,66.2 277.20,64.0 277.25,62.3 277.30,62.4 277.35,60.8 277.40,67.4 277.45,63.3 277.50,64.9 277.55,64.7 277.60,65.3 277.65,64.6 277.70,67.1 277.75,61.0 277.80,59.8 277.85,62.5 277.90,61.8 277.95,63.0 278.00,66.4 278.05,65.7 278.10,64.4 278.15,60.1 278.20,64.1 278.25,63.0 278.30,64.7 278.35,62.3 278.40,61.0 278.45,62.5 278.50,59.8 278.55,59.3 278.60,62.7 278.65,61.9 278.70,64.9 278.75,62.2 278.80,58.0 278.85,65.9 278.90,66.6 278.95,58.0 279.00,59.5 279.05,64.4 279.10,61.8 279.15,56.6 279.20,64.6 279.25,61.3 279.30,62.0 279.35,64.5 279.40,58.7 279.45,58.5 279.50,62.7 279.55,63.5 279.60,60.9 279.65,64.0 279.70,61.7 279.75,63.7 279.80,57.7 279.85,59.5 279.90,63.4 279.95,57.4 280.00,57.5 280.05,60.3 280.10,58.9 280.15,56.9 280.20,54.8 280.25,64.0 280.30,60.0 280.35,64.3 280.40,57.2 280.45,60.1 280.50,59.5 280.55,60.3 280.60,55.1 280.65,63.8 280.70,59.2 280.75,60.7 280.80,57.0 280.85,64.8 280.90,55.4 280.95,66.0 281.00,58.9 281.05,59.1 281.10,58.1 281.15,64.5 281.20,57.6 281.25,57.6 281.30,57.3 281.35,61.8 281.40,62.0 281.45,58.1 281.50,61.9 281.55,65.1 281.60,62.5 281.65,61.6 281.70,57.3 281.75,65.3 281.80,62.6 281.85,56.1 281.90,58.3 281.95,52.1 282.00,62.1 282.05,56.8 282.10,59.8 282.15,64.9 282.20,56.3 282.25,63.3 282.30,59.7 282.35,49.5 282.40,64.7 282.45,62.0 282.50,58.6 282.55,62.4 282.60,58.9 282.65,58.1 282.70,59.7 282.75,63.9 282.80,55.9 282.85,56.9 282.90,63.6 282.95,56.6 283.00,60.3 283.05,60.0 283.10,57.0 283.15,58.7 283.20,60.6 283.25,60.7 283.30,63.0 283.35,61.7 283.40,63.9 283.45,61.7 283.50,59.7 283.55,63.0 283.60,62.5 283.65,63.8 283.70,60.7 283.75,60.7 283.80,60.8 283.85,56.6 283.90,62.6 283.95,59.1 284.00,58.9 284.05,60.1 284.10,67.6 284.15,58.8 284.20,65.9 284.25,54.8 284.30,60.4 284.35,67.2 284.40,61.8 284.45,62.5 284.50,59.6 284.55,55.3 284.60,62.9 284.65,64.2 284.70,64.7 284.75,67.3 284.80,61.2 284.85,63.1 284.90,54.9 284.95,60.4 285.00,62.0 285.05,65.5 285.10,67.2 285.15,66.5 285.20,63.0 285.25,61.2 285.30,61.4 285.35,61.5 285.40,62.1 285.45,65.3 285.50,61.1 285.55,56.5 285.60,58.0 285.65,70.7 285.70,65.9 285.75,60.2 285.80,60.9 285.85,64.0 285.90,62.7 285.95,62.7 286.00,55.7 286.05,57.5 286.10,62.2 286.15,64.0 286.20,62.8 286.25,66.7 286.30,62.0 286.35,62.7 286.40,62.1 286.45,64.9 286.50,60.1 286.55,68.3 286.60,58.7 286.65,64.4 286.70,64.3 286.75,66.9 286.80,58.6 286.85,59.3 286.90,61.2 286.95,64.3 287.00,64.8 287.05,54.2 287.10,61.2 287.15,62.9 287.20,63.3 287.25,63.3 287.30,61.8 287.35,62.6 287.40,56.4 287.45,64.9 287.50,54.8 287.55,61.7 287.60,59.4 287.65,63.3 287.70,59.2 287.75,65.0 287.80,63.3 287.85,64.2 287.90,65.6 287.95,65.9 288.00,61.7 288.05,64.9 288.10,63.9 288.15,64.7 288.20,62.9 288.25,54.6 288.30,61.6 288.35,62.4 288.40,60.9 288.45,60.3 288.50,62.9 288.55,60.3 288.60,64.5 288.65,66.4 288.70,62.6 288.75,65.2 288.80,58.9 288.85,59.5 288.90,61.6 288.95,59.7 289.00,62.8 289.05,62.9 289.10,67.6 289.15,61.1 289.20,66.6 289.25,59.6 289.30,62.0 289.35,65.3 289.40,63.8 289.45,55.3 289.50,62.7 289.55,64.2 289.60,58.2 289.65,61.5 289.70,61.9 289.75,64.1 289.80,66.8 289.85,58.7 289.90,60.2 289.95,67.7 290.00,66.6 290.05,68.2 290.10,62.9 290.15,66.1 290.20,55.7 290.25,64.4 290.30,60.1 290.35,58.8 290.40,59.8 290.45,66.1 290.50,67.7 290.55,61.6 290.60,62.0 290.65,66.8 290.70,61.1 290.75,64.0 290.80,65.1 290.85,66.9 290.90,62.4 290.95,54.7 291.00,62.6 291.05,65.4 291.10,61.8 291.15,61.5 291.20,60.4 291.25,64.6 291.30,63.8 291.35,64.2 291.40,63.3 291.45,67.3 291.50,64.4 291.55,63.2 291.60,60.0 291.65,62.2 291.70,63.4 291.75,68.0 291.80,64.9 291.85,62.5 291.90,65.8 291.95,65.4 292.00,62.1 292.05,64.9 292.10,60.2 292.15,63.8 292.20,69.6 292.25,66.4 292.30,65.3 292.35,66.0 292.40,65.5 292.45,59.7 292.50,61.8 292.55,61.1 292.60,64.6 292.65,65.9 292.70,69.3 292.75,62.6 292.80,59.6 292.85,63.8 292.90,62.8 292.95,63.7 293.00,62.9 293.05,64.3 293.10,61.0 293.15,63.6 293.20,65.7 293.25,63.2 293.30,64.3 293.35,60.6 293.40,65.2 293.45,62.2 293.50,60.4 293.55,61.7 293.60,61.2 293.65,61.8 293.70,60.6 293.75,67.4 293.80,64.9 293.85,63.6 293.90,63.5 293.95,61.8 294.00,64.5 294.05,61.3 294.10,61.7 294.15,59.5 294.20,65.5 294.25,65.4 294.30,65.0 294.35,65.1 294.40,54.5 294.45,61.9 294.50,64.6 294.55,63.0 294.60,56.7 294.65,62.3 294.70,63.4 294.75,59.7 294.80,57.8 294.85,59.4 294.90,52.2 294.95,61.9 295.00,58.5 295.05,60.0 295.10,60.4 295.15,60.6 295.20,65.7 295.25,58.3 295.30,60.1 295.35,54.4 295.40,58.7 295.45,54.9 295.50,63.1 295.55,60.7 295.60,58.9 295.65,63.4 295.70,57.6 295.75,60.1 295.80,58.2 295.85,57.8 295.90,59.9 295.95,58.8 296.00,60.2 296.05,57.3 296.10,55.9 296.15,64.8 296.20,61.8 296.25,59.5 296.30,61.3 296.35,57.6 296.40,53.1 296.45,56.2 296.50,62.0 296.55,61.7 296.60,60.4 296.65,62.8 296.70,60.4 296.75,65.7 296.80,62.5 296.85,56.0 296.90,57.6 296.95,65.6 297.00,58.9 297.05,61.7 297.10,58.9 297.15,65.2 297.20,63.9 297.25,63.1 297.30,59.4 297.35,59.7 297.40,64.8 297.45,58.9 297.50,54.1 297.55,65.4 297.60,63.6 297.65,56.6 297.70,61.5 297.75,62.4 297.80,61.3 297.85,65.7 297.90,64.4 297.95,58.2 298.00,60.2 298.05,63.4 298.10,63.5 298.15,59.6 298.20,64.1 298.25,58.2 298.30,63.3 298.35,55.4 298.40,62.3 298.45,67.2 298.50,65.6 298.55,58.5 298.60,52.0 298.65,62.0 298.70,64.4 298.75,61.5 298.80,62.0 298.85,57.0 298.90,59.7 298.95,57.4 299.00,57.4 299.05,59.7 299.10,65.8 299.15,62.6 299.20,59.1 299.25,61.0 299.30,58.7 299.35,59.8 299.40,62.2 299.45,57.1 299.50,62.6 299.55,59.8 299.60,65.1 299.65,59.0 299.70,62.5 299.75,59.3 299.80,63.5 299.85,56.6 299.90,60.4 299.95,59.4 300.00,57.3 300.05,61.0 300.10,61.6 300.15,60.4 300.20,59.2 300.25,60.2 300.30,60.2 300.35,65.7 300.40,64.1 300.45,66.6 300.50,65.5 300.55,68.2 300.60,63.0 300.65,63.8 300.70,63.3 300.75,61.9 300.80,65.1 300.85,64.4 300.90,64.8 300.95,64.1 301.00,66.6 301.05,59.2 301.10,65.3 301.15,63.4 301.20,61.7 301.25,62.6 301.30,65.2 301.35,66.2 301.40,63.1 301.45,66.0 301.50,65.0 301.55,67.0 301.60,67.0 301.65,66.3 301.70,62.9 301.75,60.6 301.80,68.3 301.85,61.6 301.90,66.6 301.95,64.4 302.00,69.2 302.05,63.9 302.10,63.4 302.15,58.1 302.20,66.2 302.25,64.3 302.30,62.6 302.35,63.3 302.40,68.4 302.45,65.7 302.50,67.1 302.55,63.9 302.60,65.6 302.65,67.6 302.70,63.9 302.75,68.7 302.80,64.1 302.85,70.7 302.90,55.0 302.95,63.6 303.00,65.4 303.05,64.0 303.10,64.8 303.15,65.1 303.20,68.9 303.25,63.8 303.30,68.8 303.35,67.9 303.40,65.8 303.45,64.8 303.50,71.1 303.55,57.8 303.60,64.1 303.65,65.1 303.70,67.2 303.75,65.7 303.80,68.4 303.85,67.3 303.90,69.0 303.95,63.9 304.00,67.2 304.05,70.8 304.10,63.9 304.15,66.4 304.20,61.6 304.25,67.0 304.30,63.4 304.35,67.7 304.40,62.3 304.45,65.9 304.50,62.6 304.55,65.6 304.60,66.9 304.65,72.6 304.70,66.9 304.75,67.1 304.80,71.2 304.85,68.9 304.90,62.4 304.95,74.3 305.00,65.9 305.05,68.1 305.10,67.1 305.15,60.1 305.20,63.8 305.25,70.9 305.30,68.0 305.35,62.8 305.40,63.9 305.45,64.5 305.50,61.2 305.55,55.1 305.60,66.7 305.65,61.9 305.70,62.9 305.75,62.7 305.80,63.8 305.85,63.6 305.90,69.7 305.95,64.0 306.00,66.8 306.05,64.8 306.10,68.9 306.15,65.3 306.20,58.7 306.25,70.5 306.30,70.0 306.35,67.0 306.40,59.9 306.45,68.9 306.50,65.9 306.55,62.3 306.60,63.1 306.65,68.4 306.70,62.8 306.75,64.3 306.80,62.4 306.85,66.4 306.90,62.0 306.95,66.5 307.00,63.8 307.05,71.1 307.10,63.3 307.15,65.0 307.20,67.7 307.25,67.4 307.30,60.0 307.35,65.3 307.40,66.0 307.45,66.9 307.50,64.2 307.55,69.4 307.60,69.1 307.65,63.6 307.70,61.4 307.75,64.5 307.80,66.6 307.85,68.2 307.90,61.2 307.95,62.8 308.00,58.8 308.05,61.8 308.10,68.3 308.15,71.4 308.20,67.3 308.25,64.5 308.30,64.2 308.35,71.1 308.40,68.8 308.45,65.7 308.50,63.4 308.55,62.6 308.60,65.0 308.65,70.6 308.70,64.3 308.75,63.9 308.80,65.8 308.85,64.1 308.90,67.9 308.95,61.7 309.00,65.2 309.05,62.7 309.10,67.4 309.15,65.3 309.20,62.4 309.25,63.0 309.30,64.5 309.35,69.1 309.40,66.3 309.45,65.4 309.50,61.4 309.55,59.7 309.60,59.6 309.65,62.5 309.70,65.6 309.75,64.5 309.80,67.8 309.85,60.9 309.90,63.6 309.95,63.4 310.00,61.1 310.05,57.5 310.10,61.7 310.15,67.0 310.20,58.7 310.25,66.8 310.30,66.9 310.35,63.6 310.40,65.0 310.45,63.7 310.50,64.1 310.55,68.6 310.60,67.7 310.65,67.2 310.70,64.9 310.75,63.7 310.80,64.9 310.85,60.1 310.90,61.3 310.95,64.3 311.00,58.5 311.05,64.0 311.10,63.6 311.15,63.4 311.20,63.5 311.25,61.9 311.30,70.4 311.35,57.9 311.40,61.6 311.45,58.3 311.50,64.8 311.55,66.6 311.60,69.3 311.65,61.5 311.70,65.8 311.75,60.9 311.80,63.5 311.85,65.7 311.90,59.0 311.95,63.1 312.00,61.6 312.05,64.8 312.10,66.1 312.15,59.0 312.20,63.2 312.25,59.3 312.30,56.4 312.35,60.1 312.40,61.5 312.45,59.7 312.50,60.0 312.55,67.5 312.60,63.8 312.65,66.9 312.70,67.9 312.75,64.0 312.80,71.5 312.85,64.9 312.90,64.0 312.95,61.0 313.00,62.5 313.05,64.7 313.10,63.8 313.15,64.3 313.20,64.7 313.25,59.4 313.30,61.2 313.35,62.4 313.40,62.0 313.45,59.5 313.50,63.4 313.55,60.9 313.60,66.8 313.65,61.2 313.70,64.4 313.75,57.5 313.80,63.2 313.85,66.8 313.90,63.9 313.95,65.8 314.00,64.4 314.05,62.9 314.10,65.4 314.15,65.1 314.20,65.1 314.25,62.0 314.30,62.4 314.35,55.4 314.40,64.2 314.45,60.6 314.50,61.6 314.55,66.5 314.60,64.5 314.65,65.2 314.70,61.7 314.75,65.5 314.80,64.1 314.85,64.7 314.90,63.7 314.95,69.2 315.00,60.6 315.05,64.9 315.10,65.0 315.15,67.1 315.20,65.8 315.25,62.8 315.30,64.8 315.35,69.0 315.40,67.7 315.45,63.2 315.50,65.0 315.55,64.1 315.60,68.6 315.65,63.2 315.70,68.6 315.75,69.7 315.80,64.2 315.85,71.6 315.90,64.0 315.95,64.1 316.00,67.0 316.05,63.2 316.10,65.1 316.15,61.1 316.20,63.5 316.25,65.0 316.30,60.6 316.35,66.9 316.40,67.0 316.45,64.4 316.50,66.7 316.55,66.7 316.60,62.2 316.65,66.4 316.70,65.3 316.75,62.6 316.80,65.8 316.85,61.3 316.90,55.9 316.95,66.0 317.00,65.4 317.05,70.2 317.10,63.6 317.15,67.4 317.20,61.9 317.25,61.1 317.30,63.7 317.35,65.3 317.40,64.5 317.45,68.1 317.50,68.3 317.55,60.8 317.60,63.1 317.65,70.3 317.70,69.0 317.75,61.2 317.80,62.5 317.85,71.0 317.90,61.9 317.95,68.7 318.00,58.7 318.05,64.3 318.10,61.7 318.15,66.0 318.20,68.9 318.25,66.4 318.30,68.1 318.35,68.5 318.40,70.1 318.45,65.9 318.50,58.8 318.55,60.0 318.60,67.6 318.65,66.7 318.70,68.1 318.75,63.7 318.80,63.2 318.85,58.8 318.90,61.0 318.95,64.0 319.00,62.3 319.05,59.2 319.10,68.8 319.15,64.4 319.20,65.1 319.25,64.7 319.30,64.3 319.35,61.1 319.40,67.1 319.45,62.7 319.50,61.3 319.55,68.3 319.60,64.8 319.65,66.4 319.70,58.7 319.75,70.0 319.80,62.0 319.85,61.1 319.90,63.4 319.95,61.7 320.00,62.0 320.05,66.3 320.10,69.3 320.15,64.1 320.20,64.9 320.25,65.1 320.30,65.6 320.35,61.1 320.40,70.3 320.45,60.6 320.50,63.1 320.55,71.5 320.60,64.8 320.65,62.0 320.70,65.6 320.75,72.5 320.80,65.5 320.85,61.9 320.90,66.1 320.95,66.4 321.00,62.8 321.05,66.2 321.10,58.5 321.15,67.0 321.20,66.3 321.25,65.9 321.30,63.7 321.35,70.0 321.40,67.9 321.45,70.0 321.50,63.9 321.55,68.3 321.60,71.3 321.65,70.4 321.70,63.1 321.75,65.9 321.80,64.0 321.85,65.1 321.90,66.0 321.95,71.6 322.00,70.9 322.05,65.7 322.10,68.9 322.15,64.3 322.20,62.2 322.25,60.1 322.30,63.3 322.35,72.2 322.40,66.5 322.45,67.6 322.50,69.1 322.55,59.6 322.60,65.0 322.65,65.8 322.70,69.7 322.75,66.9 322.80,60.3 322.85,60.1 322.90,66.5 322.95,66.1 323.00,61.0 323.05,61.0 323.10,65.6 323.15,61.2 323.20,66.4 323.25,64.4 323.30,64.3 323.35,71.3 323.40,62.5 323.45,61.5 323.50,63.4 323.55,57.4 323.60,67.3 323.65,66.9 323.70,65.1 323.75,64.7 323.80,64.5 323.85,59.8 323.90,64.1 323.95,64.5 324.00,67.1 324.05,65.4 324.10,67.7 324.15,66.6 324.20,58.1 324.25,62.0 324.30,66.3 324.35,63.0 324.40,64.2 324.45,66.9 324.50,61.1 324.55,64.7 324.60,69.2 324.65,64.2 324.70,61.8 324.75,64.1 324.80,62.8 324.85,60.1 324.90,65.9 324.95,64.0 325.00,58.0 325.05,67.6 325.10,60.8 325.15,64.0 325.20,65.3 325.25,63.5 325.30,59.9 325.35,56.6 325.40,62.2 325.45,64.7 325.50,60.2 325.55,62.8 325.60,68.1 325.65,61.0 325.70,76.7 325.75,65.3 325.80,60.4 325.85,65.5 325.90,63.5 325.95,68.4 326.00,60.3 326.05,66.5 326.10,60.9 326.15,65.4 326.20,69.2 326.25,64.9 326.30,68.7 326.35,63.5 326.40,67.5 326.45,62.5 326.50,63.8 326.55,64.7 326.60,60.0 326.65,61.7 326.70,62.8 326.75,70.1 326.80,65.2 326.85,61.1 326.90,60.9 326.95,64.5 327.00,61.2 327.05,65.4 327.10,61.4 327.15,61.5 327.20,67.5 327.25,59.0 327.30,72.2 327.35,62.6 327.40,60.3 327.45,66.9 327.50,68.5 327.55,69.2 327.60,66.8 327.65,63.0 327.70,64.7 327.75,65.7 327.80,68.0 327.85,68.4 327.90,67.5 327.95,68.1 328.00,58.3 328.05,63.7 328.10,69.1 328.15,64.0 328.20,65.2 328.25,63.2 328.30,65.0 328.35,63.3 328.40,59.0 328.45,66.6 328.50,66.8 328.55,62.6 328.60,58.9 328.65,64.3 328.70,61.3 328.75,68.5 328.80,64.5 328.85,60.2 328.90,63.0 328.95,71.0 329.00,64.5 329.05,62.5 329.10,64.2 329.15,61.4 329.20,67.8 329.25,60.6 329.30,67.0 329.35,68.4 329.40,68.1 329.45,64.8 329.50,63.8 329.55,65.3 329.60,66.0 329.65,67.0 329.70,65.2 329.75,66.0 329.80,63.8 329.85,62.7 329.90,68.8 329.95,66.6 330.00,67.5 330.05,70.5 330.10,63.0 330.15,63.3 330.20,64.1 330.25,68.0 330.30,60.7 330.35,63.1 330.40,67.8 330.45,60.3 330.50,67.5 330.55,70.3 330.60,66.6 330.65,62.6 330.70,63.9 330.75,62.1 330.80,65.0 330.85,68.3 330.90,68.5 330.95,58.2 331.00,62.8 331.05,66.3 331.10,64.2 331.15,57.5 331.20,66.0 331.25,67.0 331.30,65.3 331.35,65.2 331.40,68.4 331.45,60.9 331.50,64.5 331.55,66.7 331.60,76.3 331.65,63.2 331.70,68.0 331.75,71.0 331.80,68.0 331.85,68.3 331.90,69.6 331.95,60.0 332.00,67.3 332.05,64.3 332.10,70.6 332.15,67.1 332.20,66.6 332.25,66.4 332.30,61.8 332.35,68.7 332.40,60.7 332.45,65.2 332.50,64.8 332.55,69.0 332.60,66.0 332.65,63.2 332.70,68.1 332.75,71.5 332.80,62.8 332.85,70.4 332.90,63.9 332.95,65.4 333.00,65.5 333.05,62.8 333.10,71.3 333.15,68.7 333.20,68.1 333.25,61.9 333.30,68.3 333.35,63.4 333.40,70.7 333.45,60.6 333.50,68.6 333.55,61.3 333.60,61.6 333.65,67.1 333.70,69.1 333.75,70.0 333.80,65.1 333.85,64.7 333.90,69.4 333.95,62.8 334.00,62.9 334.05,68.2 334.10,68.0 334.15,66.8 334.20,70.5 334.25,61.3 334.30,68.0 334.35,73.6 334.40,65.2 334.45,62.5 334.50,70.5 334.55,68.3 334.60,70.4 334.65,68.8 334.70,65.1 334.75,65.9 334.80,62.8 334.85,74.9 334.90,63.6 334.95,65.4 335.00,64.4 335.05,68.0 335.10,71.1 335.15,64.9 335.20,68.0 335.25,68.9 335.30,73.6 335.35,65.8 335.40,67.4 335.45,71.8 335.50,61.9 335.55,66.5 335.60,66.8 335.65,62.9 335.70,65.8 335.75,67.2 335.80,70.1 335.85,69.4 335.90,64.7 335.95,63.5 336.00,69.5 336.05,61.6 336.10,64.7 336.15,62.8 336.20,61.4 336.25,67.2 336.30,61.9 336.35,64.4 336.40,70.3 336.45,71.3 336.50,62.1 336.55,63.4 336.60,63.6 336.65,62.1 336.70,70.5 336.75,69.1 336.80,67.9 336.85,63.2 336.90,68.7 336.95,66.9 337.00,66.2 337.05,68.1 337.10,70.6 337.15,66.1 337.20,65.1 337.25,63.2 337.30,71.0 337.35,68.1 337.40,59.0 337.45,67.1 337.50,69.3 337.55,61.8 337.60,62.2 337.65,70.2 337.70,66.1 337.75,62.4 337.80,67.2 337.85,68.3 337.90,64.2 337.95,64.7 338.00,67.4 338.05,67.2 338.10,73.0 338.15,71.7 338.20,69.2 338.25,65.5 338.30,65.7 338.35,60.7 338.40,67.6 338.45,66.6 338.50,65.8 338.55,70.3 338.60,72.0 338.65,62.3 338.70,69.4 338.75,69.6 338.80,66.3 338.85,66.1 338.90,73.8 338.95,70.8 339.00,75.2 339.05,66.2 339.10,65.3 339.15,67.9 339.20,71.5 339.25,73.0 339.30,75.1 339.35,66.9 339.40,64.5 339.45,72.2 339.50,72.0 339.55,71.0 339.60,73.9 339.65,66.8 339.70,64.3 339.75,76.0 339.80,70.5 339.85,68.7 339.90,72.2 339.95,76.8 340.00,70.4 340.05,75.4 340.10,70.2 340.15,76.0 340.20,70.5 340.25,73.7 340.30,69.8 340.35,71.7 340.40,70.5 340.45,68.5 340.50,70.1 340.55,72.0 340.60,69.4 340.65,68.0 340.70,71.0 340.75,74.2 340.80,69.3 340.85,66.4 340.90,66.8 340.95,69.6 341.00,74.7 341.05,66.2 341.10,73.1 341.15,68.8 341.20,67.3 341.25,67.7 341.30,73.0 341.35,67.9 341.40,73.6 341.45,75.7 341.50,66.5 341.55,65.2 341.60,63.7 341.65,70.9 341.70,66.3 341.75,67.1 341.80,66.6 341.85,73.4 341.90,71.2 341.95,70.9 342.00,63.5 342.05,66.3 342.10,68.8 342.15,68.5 342.20,69.9 342.25,73.9 342.30,71.0 342.35,71.3 342.40,68.4 342.45,67.5 342.50,67.2 342.55,68.4 342.60,63.5 342.65,66.8 342.70,68.7 342.75,67.1 342.80,68.4 342.85,62.7 342.90,66.8 342.95,68.5 343.00,72.1 343.05,68.8 343.10,67.7 343.15,66.6 343.20,68.5 343.25,66.8 343.30,70.7 343.35,66.7 343.40,70.5 343.45,66.4 343.50,63.7 343.55,63.8 343.60,71.3 343.65,66.6 343.70,66.9 343.75,76.4 343.80,64.7 343.85,68.3 343.90,64.1 343.95,66.4 344.00,70.1 344.05,67.5 344.10,74.4 344.15,65.4 344.20,66.2 344.25,64.0 344.30,60.8 344.35,66.0 344.40,68.0 344.45,65.9 344.50,69.9 344.55,66.4 344.60,68.7 344.65,68.1 344.70,66.1 344.75,68.5 344.80,68.5 344.85,70.1 344.90,62.3 344.95,73.2 345.00,68.9 345.05,69.9 345.10,70.2 345.15,64.3 345.20,70.9 345.25,69.5 345.30,67.0 345.35,71.2 345.40,67.8 345.45,65.4 345.50,71.4 345.55,71.1 345.60,69.7 345.65,68.2 345.70,73.7 345.75,66.9 345.80,69.4 345.85,68.1 345.90,68.1 345.95,70.2 346.00,73.6 346.05,70.3 346.10,69.6 346.15,67.6" fill="none" stroke="#6d96d3" stroke-width="0.6" stroke-linejoin="round"/>
<polyline points="33.10,141.4 33.15,143.6 33.20,148.1 33.25,138.5 33.30,143.0 33.35,141.2 33.40,138.8 33.45,138.9 33.50,142.0 33.55,143.3 33.60,140.3 33.65,142.1 33.70,144.1 33.75,142.7 33.80,144.5 33.85,143.2 33.90,143.2 33.95,147.3 34.00,143.6 34.05,142.0 34.10,143.7 34.15,138.7 34.20,140.5 34.25,144.0 34.30,143.5 34.35,146.4 34.40,141.6 34.45,137.0 34.50,147.6 34.55,144.9 34.60,138.3 34.65,145.8 34.70,141.7 34.75,135.9 34.80,140.3 34.85,140.0 34.90,146.5 34.95,139.1 35.00,140.8 35.05,140.7 35.10,140.4 35.15,138.8 35.20,142.3 35.25,144.9 35.30,143.5 35.35,138.7 35.40,138.0 35.45,142.0 35.50,139.4 35.55,139.7 35.60,136.4 35.65,147.7 35.70,144.5 35.75,138.6 35.80,144.4 35.85,145.8 35.90,134.2 35.95,139.9 36.00,140.4 36.05,143.6 36.10,141.3 36.15,140.9 36.20,141.5 36.25,147.4 36.30,148.3 36.35,140.0 36.40,138.8 36.45,150.0 36.50,138.6 36.55,139.9 36.60,141.8 36.65,143.2 36.70,144.9 36.75,142.9 36.80,139.0 36.85,143.3 36.90,142.5 36.95,147.5 37.00,141.6 37.05,137.5 37.10,138.5 37.15,146.2 37.20,140.0 37.25,135.1 37.30,139.8 37.35,141.6 37.40,145.3 37.45,138.5 37.50,143.7 37.55,144.0 37.60,139.4 37.65,141.0 37.70,147.0 37.75,146.9 37.80,144.2 37.85,142.5 37.90,145.0 37.95,141.0 38.00,141.2 38.05,138.8 38.10,141.4 38.15,141.2 38.20,150.0 38.25,140.8 38.30,145.3 38.35,145.4 38.40,140.8 38.45,145.0 38.50,134.6 38.55,141.6 38.60,143.9 38.65,133.8 38.70,137.7 38.75,144.5 38.80,140.4 38.85,137.8 38.90,140.0 38.95,139.5 39.00,143.4 39.05,142.6 39.10,140.3 39.15,139.1 39.20,141.0 39.25,145.2 39.30,142.2 39.35,143.1 39.40,140.6 39.45,137.1 39.50,138.8 39.55,143.0 39.60,141.3 39.65,138.2 39.70,136.0 39.75,141.3 39.80,139.9 39.85,139.9 39.90,139.9 39.95,141.8 40.00,141.8 40.05,143.9 40.10,143.8 40.15,145.0 40.20,143.3 40.25,139.7 40.30,140.5 40.35,142.1 40.40,139.5 40.45,142.1 40.50,144.0 40.55,137.8 40.60,134.8 40.65,143.9 40.70,140.2 40.75,142.3 40.80,135.9 40.85,145.3 40.90,142.2 40.95,139.4 41.00,138.6 41.05,140.0 41.10,139.1 41.15,138.7 41.20,136.0 41.25,143.3 41.30,139.2 41.35,139.5 41.40,139.5 41.45,131.9 41.50,140.7 41.55,138.0 41.60,138.1 41.65,139.1 41.70,129.8 41.75,141.4 41.80,136.6 41.85,135.8 41.90,135.9 41.95,139.0 42.00,140.8 42.05,136.5 42.10,133.6 42.15,141.6 42.20,134.9 42.25,141.8 42.30,137.9 42.35,135.8 42.40,136.0 42.45,139.3 42.50,140.6 42.55,137.1 42.60,140.6 42.65,144.1 42.70,136.9 42.75,133.9 42.80,134.2 42.85,133.1 42.90,135.3 42.95,135.0 43.00,133.1 43.05,138.8 43.10,129.0 43.15,132.9 43.20,143.2 43.25,140.1 43.30,138.4 43.35,138.1 43.40,142.1 43.45,138.2 43.50,136.7 43.55,132.6 43.60,136.1 43.65,134.0 43.70,134.0 43.75,134.0 43.80,136.0 43.85,135.0 43.90,138.7 43.95,131.8 44.00,135.3 44.05,141.5 44.10,135.8 44.15,139.3 44.20,139.1 44.25,139.6 44.30,137.7 44.35,131.1 44.40,134.5 44.45,134.0 44.50,130.4 44.55,133.6 44.60,131.1 44.65,129.8 44.70,135.5 44.75,134.7 44.80,132.6 44.85,131.7 44.90,132.9 44.95,133.3 45.00,133.2 45.05,134.2 45.10,133.0 45.15,135.5 45.20,135.8 45.25,135.2 45.30,132.0 45.35,132.1 45.40,135.3 45.45,133.3 45.50,133.7 45.55,126.0 45.60,125.3 45.65,134.6 45.70,134.6 45.75,137.8 45.80,135.6 45.85,134.0 45.90,133.3 45.95,128.8 46.00,135.9 46.05,131.2 46.10,134.5 46.15,133.6 46.20,133.8 46.25,135.7 46.30,131.4 46.35,131.7 46.40,130.2 46.45,131.7 46.50,138.0 46.55,131.7 46.60,136.4 46.65,135.3 46.70,135.0 46.75,135.2 46.80,129.5 46.85,133.8 46.90,137.5 46.95,130.4 47.00,132.4 47.05,130.4 47.10,133.5 47.15,129.2 47.20,137.5 47.25,131.3 47.30,127.7 47.35,138.0 47.40,135.4 47.45,134.0 47.50,134.0 47.55,131.2 47.60,131.6 47.65,134.5 47.70,135.1 47.75,135.1 47.80,132.9 47.85,130.7 47.90,131.6 47.95,135.6 48.00,136.6 48.05,131.0 48.10,130.6 48.15,135.9 48.20,134.3 48.25,134.2 48.30,127.9 48.35,130.8 48.40,130.3 48.45,132.5 48.50,126.7 48.55,135.8 48.60,132.8 48.65,133.2 48.70,128.1 48.75,131.7 48.80,135.9 48.85,126.9 48.90,132.6 48.95,133.8 49.00,129.5 49.05,134.2 49.10,130.6 49.15,135.4 49.20,133.3 49.25,132.4 49.30,138.0 49.35,134.4 49.40,135.9 49.45,128.2 49.50,129.9 49.55,134.5 49.60,134.7 49.65,131.8 49.70,134.4 49.75,128.8 49.80,132.7 49.85,128.6 49.90,133.2 49.95,130.7 50.00,130.2 50.05,132.4 50.10,137.9 50.15,129.2 50.20,130.5 50.25,135.7 50.30,131.1 50.35,137.9 50.40,133.1 50.45,132.8 50.50,133.6 50.55,137.9 50.60,134.6 50.65,134.2 50.70,133.4 50.75,127.8 50.80,129.9 50.85,137.3 50.90,135.3 50.95,134.3 51.00,134.8 51.05,131.1 51.10,133.9 51.15,130.1 51.20,134.1 51.25,130.7 51.30,132.3 51.35,134.4 51.40,132.0 51.45,135.1 51.50,134.5 51.55,134.2 51.60,144.8 51.65,128.6 51.70,128.2 51.75,135.1 51.80,136.2 51.85,139.5 51.90,135.7 51.95,135.9 52.00,130.6 52.05,135.7 52.10,135.5 52.15,130.1 52.20,130.5 52.25,132.9 52.30,134.0 52.35,124.0 52.40,133.2 52.45,133.7 52.50,132.3 52.55,133.6 52.60,134.1 52.65,129.5 52.70,133.9 52.75,131.7 52.80,129.5 52.85,133.0 52.90,136.9 52.95,127.7 53.00,127.0 53.05,127.0 53.10,138.2 53.15,131.2 53.20,131.7 53.25,129.4 53.30,128.8 53.35,125.4 53.40,132.1 53.45,132.3 53.50,125.3 53.55,128.2 53.60,129.0 53.65,131.2 53.70,131.9 53.75,134.6 53.80,135.3 53.85,134.3 53.90,135.1 53.95,127.2 54.00,129.1 54.05,134.2 54.10,131.5 54.15,130.6 54.20,124.4 54.25,124.7 54.30,132.6 54.35,131.3 54.40,129.3 54.45,128.9 54.50,124.7 54.55,131.2 54.60,133.1 54.65,135.0 54.70,129.9 54.75,129.1 54.80,126.3 54.85,133.4 54.90,134.8 54.95,127.5 55.00,130.3 55.05,129.6 55.10,127.5 55.15,121.4 55.20,127.9 55.25,130.9 55.30,124.4 55.35,126.2 55.40,118.6 55.45,132.6 55.50,130.1 55.55,128.6 55.60,127.6 55.65,126.3 55.70,128.0 55.75,127.2 55.80,127.3 55.85,127.9 55.90,128.3 55.95,132.6 56.00,123.2 56.05,128.5 56.10,125.6 56.15,124.0 56.20,120.1 56.25,129.2 56.30,124.2 56.35,124.8 56.40,128.5 56.45,123.6 56.50,126.9 56.55,126.6 56.60,129.2 56.65,129.8 56.70,123.8 56.75,129.3 56.80,126.1 56.85,126.7 56.90,125.5 56.95,128.5 57.00,122.3 57.05,126.8 57.10,129.5 57.15,124.9 57.20,132.0 57.25,123.3 57.30,126.2 57.35,124.0 57.40,123.4 57.45,121.8 57.50,123.5 57.55,125.0 57.60,122.5 57.65,127.7 57.70,129.6 57.75,120.0 57.80,127.3 57.85,125.2 57.90,125.3 57.95,132.1 58.00,128.1 58.05,125.3 58.10,124.8 58.15,117.5 58.20,126.6 58.25,121.9 58.30,124.8 58.35,124.6 58.40,127.2 58.45,130.6 58.50,127.3 58.55,128.2 58.60,123.6 58.65,125.7 58.70,126.7 58.75,119.8 58.80,130.6 58.85,122.1 58.90,120.4 58.95,129.4 59.00,130.9 59.05,122.2 59.10,122.5 59.15,134.0 59.20,124.7 59.25,118.2 59.30,122.5 59.35,130.6 59.40,126.4 59.45,126.7 59.50,128.2 59.55,126.5 59.60,123.4 59.65,119.5 59.70,125.8 59.75,121.0 59.80,124.3 59.85,129.9 59.90,126.1 59.95,124.6 60.00,124.7 60.05,126.8 60.10,127.4 60.15,120.4 60.20,125.1 60.25,129.9 60.30,126.9 60.35,122.2 60.40,122.5 60.45,118.2 60.50,122.2 60.55,129.7 60.60,124.5 60.65,122.1 60.70,122.9 60.75,124.4 60.80,124.4 60.85,123.7 60.90,122.4 60.95,126.8 61.00,129.6 61.05,123.1 61.10,123.2 61.15,128.5 61.20,120.2 61.25,122.9 61.30,123.5 61.35,125.2 61.40,123.7 61.45,121.8 61.50,125.5 61.55,120.8 61.60,119.0 61.65,118.1 61.70,126.6 61.75,118.9 61.80,125.6 61.85,126.2 61.90,126.6 61.95,123.5 62.00,122.3 62.05,124.2 62.10,122.1 62.15,119.9 62.20,127.7 62.25,121.0 62.30,129.3 62.35,125.3 62.40,122.2 62.45,124.9 62.50,127.3 62.55,119.2 62.60,120.5 62.65,120.1 62.70,123.8 62.75,124.5 62.80,123.3 62.85,120.9 62.90,121.5 62.95,126.7 63.00,126.5 63.05,123.4 63.10,118.9 63.15,124.8 63.20,123.7 63.25,123.6 63.30,128.1 63.35,125.2 63.40,119.6 63.45,119.6 63.50,126.8 63.55,123.1 63.60,125.2 63.65,122.0 63.70,119.4 63.75,123.2 63.80,127.2 63.85,123.3 63.90,118.8 63.95,121.2 64.00,120.4 64.05,122.4 64.10,124.8 64.15,127.8 64.20,122.2 64.25,120.4 64.30,121.2 64.35,119.9 64.40,118.3 64.45,118.7 64.50,119.7 64.55,113.6 64.60,121.7 64.65,114.5 64.70,115.4 64.75,120.9 64.80,110.8 64.85,117.5 64.90,116.5 64.95,112.8 65.00,108.9 65.05,112.3 65.10,115.8 65.15,108.8 65.20,115.3 65.25,106.7 65.30,117.3 65.35,118.0 65.40,116.9 65.45,116.6 65.50,119.4 65.55,112.5 65.60,114.1 65.65,116.5 65.70,120.3 65.75,119.0 65.80,116.7 65.85,119.1 65.90,119.5 65.95,114.1 66.00,109.4 66.05,115.1 66.10,113.7 66.15,116.6 66.20,114.7 66.25,115.7 66.30,119.8 66.35,118.8 66.40,118.4 66.45,123.6 66.50,117.1 66.55,117.3 66.60,122.5 66.65,115.1 66.70,113.5 66.75,122.6 66.80,119.6 66.85,120.5 66.90,120.6 66.95,121.4 67.00,117.2 67.05,118.4 67.10,115.2 67.15,119.1 67.20,119.4 67.25,117.3 67.30,120.7 67.35,127.8 67.40,115.1 67.45,121.2 67.50,121.6 67.55,122.0 67.60,116.2 67.65,122.4 67.70,120.7 67.75,118.3 67.80,117.6 67.85,119.5 67.90,121.6 67.95,121.5 68.00,125.8 68.05,117.6 68.10,120.7 68.15,117.4 68.20,121.2 68.25,119.1 68.30,116.9 68.35,114.6 68.40,116.3 68.45,119.5 68.50,123.3 68.55,121.1 68.60,115.0 68.65,117.2 68.70,118.8 68.75,118.3 68.80,118.8 68.85,121.0 68.90,119.2 68.95,116.3 69.00,112.5 69.05,117.4 69.10,113.2 69.15,117.9 69.20,119.3 69.25,114.2 69.30,117.8 69.35,117.2 69.40,124.1 69.45,119.6 69.50,112.3 69.55,119.5 69.60,119.4 69.65,117.4 69.70,116.9 69.75,119.9 69.80,120.1 69.85,119.3 69.90,114.9 69.95,117.2 70.00,113.1 70.05,113.3 70.10,116.2 70.15,114.6 70.20,116.6 70.25,125.5 70.30,119.3 70.35,115.0 70.40,111.0 70.45,115.1 70.50,113.2 70.55,110.9 70.60,119.9 70.65,116.1 70.70,119.0 70.75,127.2 70.80,118.4 70.85,117.9 70.90,118.6 70.95,116.7 71.00,115.0 71.05,116.8 71.10,121.0 71.15,116.7 71.20,113.2 71.25,113.6 71.30,114.3 71.35,117.5 71.40,118.9 71.45,118.9 71.50,121.1 71.55,116.8 71.60,120.0 71.65,118.5 71.70,119.7 71.75,111.8 71.80,121.4 71.85,112.7 71.90,114.0 71.95,119.9 72.00,116.3 72.05,123.0 72.10,118.0 72.15,114.3 72.20,118.0 72.25,116.3 72.30,122.3 72.35,122.6 72.40,119.8 72.45,116.2 72.50,117.7 72.55,120.7 72.60,115.0 72.65,115.0 72.70,120.1 72.75,119.7 72.80,116.7 72.85,116.6 72.90,111.4 72.95,121.1 73.00,117.0 73.05,112.9 73.10,113.9 73.15,114.6 73.20,122.7 73.25,119.6 73.30,113.3 73.35,123.2 73.40,121.7 73.45,114.3 73.50,109.3 73.55,120.6 73.60,115.8 73.65,117.2 73.70,116.1 73.75,121.6 73.80,122.3 73.85,120.3 73.90,117.3 73.95,118.6 74.00,119.8 74.05,113.0 74.10,121.7 74.15,116.9 74.20,118.7 74.25,118.4 74.30,120.8 74.35,121.3 74.40,124.9 74.45,117.0 74.50,115.3 74.55,118.5 74.60,116.1 74.65,120.9 74.70,115.7 74.75,118.7 74.80,121.2 74.85,121.5 74.90,119.0 74.95,122.7 75.00,122.4 75.05,113.2 75.10,119.6 75.15,119.0 75.20,117.6 75.25,116.6 75.30,118.7 75.35,119.8 75.40,119.5 75.45,122.9 75.50,121.8 75.55,116.9 75.60,116.4 75.65,121.4 75.70,116.6 75.75,119.3 75.80,120.3 75.85,122.1 75.90,120.5 75.95,123.4 76.00,117.5 76.05,121.0 76.10,117.0 76.15,119.5 76.20,119.3 76.25,116.0 76.30,110.8 76.35,121.8 76.40,120.0 76.45,119.3 76.50,116.6 76.55,117.8 76.60,120.2 76.65,118.8 76.70,122.3 76.75,119.1 76.80,116.1 76.85,120.6 76.90,116.7 76.95,119.3 77.00,113.0 77.05,117.5 77.10,120.3 77.15,116.5 77.20,118.4 77.25,120.3 77.30,118.6 77.35,123.9 77.40,117.6 77.45,117.8 77.50,117.8 77.55,112.2 77.60,113.5 77.65,119.9 77.70,117.2 77.75,122.5 77.80,118.0 77.85,117.6 77.90,121.3 77.95,119.0 78.00,123.1 78.05,114.8 78.10,119.4 78.15,120.1 78.20,119.7 78.25,121.6 78.30,121.2 78.35,118.1 78.40,116.2 78.45,121.0 78.50,118.1 78.55,120.9 78.60,122.1 78.65,118.5 78.70,115.1 78.75,117.1 78.80,120.3 78.85,117.1 78.90,121.5 78.95,118.0 79.00,118.3 79.05,115.9 79.10,117.5 79.15,121.2 79.20,116.7 79.25,116.7 79.30,115.3 79.35,120.1 79.40,113.0 79.45,115.6 79.50,120.4 79.55,122.0 79.60,116.9 79.65,120.5 79.70,111.4 79.75,119.8 79.80,118.4 79.85,113.6 79.90,111.9 79.95,115.8 80.00,118.2 80.05,118.5 80.10,117.7 80.15,119.7 80.20,119.4 80.25,113.0 80.30,116.0 80.35,115.6 80.40,120.3 80.45,115.6 80.50,120.2 80.55,117.4 80.60,124.3 80.65,116.9 80.70,117.0 80.75,116.7 80.80,117.4 80.85,124.5 80.90,115.4 80.95,114.2 81.00,116.3 81.05,119.0 81.10,113.8 81.15,119.3 81.20,119.2 81.25,116.3 81.30,116.0 81.35,114.3 81.40,115.8 81.45,114.2 81.50,120.5 81.55,121.7 81.60,115.7 81.65,116.4 81.70,110.7 81.75,114.9 81.80,117.5 81.85,117.3 81.90,116.8 81.95,119.0 82.00,116.7 82.05,115.2 82.10,121.3 82.15,110.4 82.20,112.8 82.25,114.1 82.30,114.1 82.35,114.0 82.40,115.7 82.45,114.2 82.50,116.3 82.55,118.3 82.60,116.6 82.65,116.9 82.70,113.6 82.75,113.0 82.80,115.6 82.85,119.4 82.90,117.7 82.95,119.9 83.00,119.6 83.05,120.1 83.10,114.1 83.15,120.4 83.20,119.0 83.25,123.1 83.30,118.5 83.35,117.7 83.40,116.3 83.45,117.2 83.50,111.6 83.55,116.0 83.60,116.7 83.65,119.8 83.70,114.8 83.75,117.2 83.80,122.5 83.85,115.2 83.90,119.5 83.95,115.2 84.00,116.6 84.05,118.3 84.10,119.7 84.15,115.4 84.20,113.8 84.25,121.7 84.30,117.6 84.35,119.5 84.40,119.8 84.45,119.4 84.50,116.3 84.55,116.7 84.60,112.3 84.65,117.7 84.70,115.7 84.75,117.1 84.80,122.9 84.85,126.6 84.90,117.4 84.95,113.0 85.00,119.5 85.05,121.9 85.10,114.7 85.15,118.6 85.20,115.7 85.25,116.8 85.30,116.2 85.35,112.3 85.40,115.7 85.45,112.3 85.50,121.5 85.55,120.5 85.60,111.9 85.65,118.1 85.70,125.5 85.75,117.9 85.80,117.9 85.85,116.6 85.90,116.8 85.95,113.2 86.00,114.2 86.05,115.4 86.10,117.9 86.15,116.2 86.20,123.1 86.25,116.7 86.30,116.2 86.35,118.6 86.40,120.4 86.45,123.0 86.50,120.3 86.55,115.5 86.60,116.8 86.65,120.5 86.70,118.1 86.75,119.8 86.80,117.1 86.85,122.2 86.90,121.7 86.95,120.8 87.00,117.8 87.05,112.5 87.10,113.3 87.15,118.4 87.20,119.4 87.25,108.5 87.30,115.9 87.35,120.9 87.40,120.3 87.45,115.9 87.50,119.3 87.55,117.5 87.60,116.7 87.65,120.8 87.70,112.8 87.75,115.8 87.80,114.5 87.85,113.5 87.90,113.1 87.95,121.5 88.00,123.1 88.05,118.1 88.10,120.6 88.15,115.3 88.20,117.1 88.25,120.0 88.30,118.1 88.35,117.0 88.40,112.0 88.45,112.6 88.50,115.6 88.55,115.1 88.60,116.5 88.65,114.7 88.70,115.9 88.75,116.7 88.80,118.0 88.85,116.6 88.90,114.7 88.95,115.4 89.00,118.9 89.05,115.5 89.10,113.1 89.15,112.9 89.20,116.7 89.25,117.5 89.30,119.4 89.35,114.7 89.40,119.8 89.45,114.5 89.50,114.7 89.55,113.7 89.60,116.9 89.65,118.4 89.70,115.1 89.75,113.6 89.80,110.4 89.85,115.4 89.90,113.8 89.95,114.2 90.00,112.8 90.05,112.0 90.10,113.3 90.15,115.9 90.20,117.3 90.25,114.3 90.30,115.3 90.35,113.6 90.40,113.8 90.45,110.0 90.50,116.7 90.55,115.7 90.60,118.2 90.65,111.9 90.70,114.1 90.75,110.9 90.80,114.3 90.85,113.1 90.90,115.5 90.95,112.9 91.00,115.2 91.05,111.8 91.10,114.9 91.15,112.3 91.20,111.9 91.25,113.5 91.30,114.4 91.35,109.1 91.40,108.8 91.45,113.9 91.50,113.2 91.55,107.3 91.60,108.3 91.65,111.1 91.70,114.4 91.75,114.1 91.80,116.6 91.85,117.1 91.90,120.7 91.95,109.3 92.00,113.5 92.05,116.9 92.10,109.9 92.15,109.5 92.20,114.3 92.25,117.1 92.30,117.6 92.35,108.5 92.40,110.2 92.45,113.6 92.50,112.3 92.55,114.9 92.60,114.4 92.65,119.3 92.70,113.8 92.75,114.6 92.80,114.3 92.85,117.4 92.90,110.8 92.95,115.3 93.00,111.8 93.05,109.9 93.10,117.8 93.15,115.8 93.20,118.5 93.25,115.1 93.30,116.3 93.35,114.8 93.40,116.1 93.45,113.2 93.50,119.6 93.55,111.8 93.60,119.7 93.65,114.0 93.70,117.2 93.75,115.0 93.80,116.0 93.85,119.2 93.90,115.1 93.95,111.9 94.00,115.5 94.05,116.7 94.10,107.4 94.15,117.7 94.20,118.1 94.25,109.4 94.30,114.2 94.35,117.2 94.40,111.1 94.45,113.3 94.50,113.6 94.55,116.3 94.60,117.9 94.65,114.4 94.70,114.7 94.75,117.3 94.80,116.1 94.85,114.1 94.90,118.4 94.95,110.1 95.00,114.8 95.05,113.0 95.10,112.7 95.15,114.8 95.20,114.3 95.25,121.7 95.30,116.1 95.35,115.2 95.40,119.1 95.45,117.2 95.50,108.4 95.55,114.4 95.60,116.3 95.65,112.1 95.70,114.8 95.75,112.5 95.80,115.0 95.85,108.9 95.90,107.9 95.95,120.6 96.00,114.4 96.05,117.8 96.10,112.9 96.15,111.4 96.20,116.4 96.25,113.7 96.30,119.1 96.35,113.3 96.40,107.6 96.45,111.1 96.50,110.6 96.55,109.2 96.60,111.0 96.65,111.3 96.70,112.5 96.75,111.6 96.80,114.5 96.85,114.5 96.90,113.8 96.95,113.8 97.00,107.4 97.05,108.0 97.10,110.4 97.15,113.9 97.20,108.7 97.25,111.9 97.30,113.9 97.35,119.3 97.40,114.0 97.45,111.5 97.50,116.5 97.55,113.8 97.60,112.3 97.65,116.6 97.70,110.4 97.75,113.8 97.80,113.5 97.85,116.0 97.90,109.7 97.95,109.3 98.00,112.1 98.05,112.4 98.10,113.4 98.15,112.1 98.20,114.6 98.25,115.4 98.30,114.0 98.35,110.1 98.40,116.9 98.45,108.6 98.50,112.7 98.55,116.1 98.60,111.5 98.65,117.3 98.70,119.3 98.75,118.2 98.80,114.7 98.85,116.4 98.90,111.8 98.95,114.7 99.00,114.8 99.05,113.7 99.10,113.9 99.15,112.8 99.20,107.4 99.25,107.1 99.30,114.5 99.35,119.8 99.40,115.7 99.45,113.8 99.50,116.2 99.55,121.7 99.60,113.5 99.65,112.4 99.70,109.1 99.75,114.0 99.80,118.6 99.85,107.9 99.90,105.0 99.95,116.0 100.00,114.3 100.05,115.0 100.10,108.0 100.15,111.9 100.20,115.2 100.25,115.4 100.30,114.5 100.35,110.8 100.40,115.2 100.45,109.8 100.50,110.5 100.55,109.8 100.60,117.8 100.65,112.1 100.70,113.5 100.75,106.5 100.80,116.6 100.85,114.6 100.90,108.0 100.95,108.2 101.00,118.2 101.05,110.1 101.10,118.7 101.15,111.5 101.20,105.3 101.25,116.3 101.30,114.4 101.35,114.9 101.40,111.2 101.45,112.1 101.50,115.7 101.55,110.2 101.60,106.6 101.65,115.4 101.70,110.7 101.75,116.5 101.80,111.0 101.85,111.2 101.90,111.7 101.95,105.1 102.00,116.0 102.05,110.4 102.10,111.7 102.15,116.8 102.20,112.6 102.25,115.0 102.30,113.2 102.35,114.5 102.40,113.0 102.45,115.7 102.50,111.4 102.55,113.4 102.60,109.8 102.65,115.6 102.70,105.2 102.75,112.5 102.80,113.0 102.85,112.9 102.90,111.8 102.95,115.9 103.00,118.3 103.05,109.8 103.10,105.7 103.15,108.3 103.20,109.2 103.25,111.3 103.30,111.6 103.35,115.1 103.40,110.5 103.45,111.7 103.50,112.2 103.55,109.2 103.60,110.9 103.65,120.5 103.70,111.7 103.75,109.0 103.80,105.3 103.85,115.3 103.90,111.1 103.95,110.1 104.00,119.7 104.05,116.6 104.10,106.9 104.15,111.1 104.20,115.3 104.25,114.8 104.30,108.8 104.35,117.8 104.40,118.1 104.45,108.9 104.50,106.9 104.55,108.1 104.60,114.5 104.65,115.8 104.70,113.0 104.75,110.7 104.80,112.2 104.85,114.3 104.90,108.8 104.95,107.3 105.00,112.4 105.05,116.5 105.10,113.3 105.15,113.3 105.20,110.6 105.25,115.6 105.30,107.5 105.35,112.6 105.40,111.0 105.45,112.4 105.50,110.0 105.55,115.2 105.60,112.7 105.65,111.1 105.70,114.5 105.75,112.8 105.80,111.4 105.85,111.2 105.90,115.5 105.95,110.2 106.00,112.4 106.05,112.3 106.10,114.1 106.15,112.6 106.20,119.8 106.25,107.7 106.30,115.0 106.35,113.0 106.40,116.5 106.45,108.1 106.50,116.9 106.55,108.8 106.60,115.2 106.65,114.6 106.70,113.2 106.75,110.8 106.80,110.5 106.85,113.3 106.90,110.7 106.95,107.0 107.00,107.4 107.05,115.5 107.10,115.5 107.15,114.6 107.20,113.1 107.25,114.2 107.30,114.5 107.35,113.8 107.40,110.5 107.45,110.7 107.50,109.4 107.55,113.4 107.60,109.9 107.65,112.5 107.70,117.0 107.75,111.8 107.80,115.9 107.85,117.8 107.90,107.3 107.95,108.5 108.00,114.4 108.05,110.7 108.10,114.6 108.15,115.1 108.20,111.3 108.25,115.5 108.30,118.3 108.35,115.9 108.40,110.2 108.45,112.5 108.50,111.2 108.55,117.8 108.60,112.3 108.65,110.8 108.70,113.0 108.75,114.5 108.80,111.7 108.85,113.2 108.90,112.9 108.95,115.2 109.00,115.9 109.05,113.7 109.10,111.4 109.15,114.1 109.20,110.1 109.25,116.2 109.30,113.9 109.35,113.6 109.40,105.3 109.45,120.2 109.50,117.3 109.55,116.8 109.60,113.2 109.65,114.9 109.70,121.7 109.75,110.7 109.80,115.1 109.85,114.7 109.90,113.3 109.95,113.9 110.00,109.8 110.05,114.8 110.10,108.8 110.15,118.5 110.20,115.3 110.25,110.2 110.30,106.3 110.35,113.1 110.40,114.4 110.45,109.7 110.50,118.0 110.55,113.6 110.60,111.3 110.65,108.4 110.70,112.4 110.75,112.2 110.80,114.8 110.85,116.0 110.90,112.8 110.95,114.2 111.00,117.1 111.05,114.6 111.10,111.9 111.15,114.6 111.20,111.1 111.25,114.1 111.30,112.8 111.35,109.3 111.40,114.5 111.45,112.9 111.50,114.9 111.55,108.5 111.60,116.0 111.65,116.2 111.70,111.5 111.75,112.3 111.80,112.7 111.85,112.5 111.90,115.1 111.95,110.3 112.00,108.9 112.05,111.7 112.10,118.3 112.15,111.2 112.20,109.3 112.25,109.5 112.30,112.9 112.35,116.0 112.40,110.0 112.45,112.8 112.50,112.9 112.55,113.6 112.60,112.6 112.65,115.4 112.70,114.3 112.75,110.2 112.80,119.6 112.85,107.8 112.90,108.0 112.95,115.2 113.00,112.6 113.05,111.2 113.10,112.6 113.15,114.0 113.20,110.6 113.25,109.9 113.30,108.6 113.35,109.2 113.40,109.3 113.45,115.3 113.50,112.6 113.55,113.4 113.60,110.0 113.65,114.9 113.70,106.8 113.75,113.1 113.80,113.8 113.85,109.8 113.90,108.4 113.95,113.1 114.00,109.3 114.05,108.7 114.10,111.4 114.15,108.0 114.20,111.0 114.25,117.7 114.30,110.0 114.35,114.2 114.40,108.1 114.45,111.6 114.50,110.4 114.55,110.7 114.60,113.6 114.65,117.9 114.70,110.8 114.75,115.2 114.80,112.2 114.85,113.4 114.90,109.6 114.95,108.9 115.00,110.4 115.05,108.6 115.10,111.0 115.15,107.7 115.20,111.0 115.25,111.6 115.30,116.7 115.35,116.4 115.40,112.7 115.45,109.5 115.50,113.0 115.55,113.7 115.60,110.5 115.65,108.5 115.70,105.6 115.75,111.1 115.80,117.1 115.85,110.6 115.90,112.4 115.95,112.4 116.00,112.7 116.05,113.7 116.10,105.1 116.15,110.8 116.20,112.5 116.25,111.0 116.30,115.1 116.35,110.2 116.40,114.2 116.45,116.8 116.50,110.6 116.55,111.5 116.60,110.5 116.65,113.8 116.70,104.8 116.75,106.9 116.80,110.6 116.85,114.2 116.90,113.4 116.95,109.0 117.00,116.5 117.05,111.9 117.10,109.6 117.15,113.2 117.20,115.7 117.25,111.4 117.30,106.9 117.35,109.9 117.40,112.0 117.45,114.6 117.50,108.6 117.55,112.5 117.60,108.1 117.65,112.0 117.70,107.6 117.75,110.3 117.80,107.1 117.85,108.8 117.90,106.9 117.95,105.7 118.00,115.6 118.05,115.5 118.10,113.4 118.15,110.7 118.20,116.4 118.25,110.9 118.30,113.1 118.35,115.3 118.40,112.5 118.45,116.3 118.50,111.3 118.55,111.2 118.60,112.1 118.65,108.1 118.70,108.3 118.75,114.0 118.80,106.3 118.85,115.1 118.90,112.4 118.95,115.2 119.00,113.9 119.05,113.4 119.10,116.9 119.15,111.3 119.20,111.2 119.25,115.0 119.30,109.4 119.35,114.9 119.40,113.5 119.45,109.8 119.50,107.4 119.55,105.1 119.60,117.1 119.65,106.7 119.70,107.5 119.75,113.9 119.80,112.7 119.85,111.8 119.90,111.4 119.95,109.8 120.00,108.2 120.05,108.8 120.10,112.9 120.15,114.4 120.20,114.7 120.25,110.9 120.30,104.0 120.35,112.5 120.40,110.5 120.45,102.6 120.50,115.2 120.55,111.5 120.60,110.7 120.65,111.4 120.70,111.2 120.75,111.5 120.80,111.1 120.85,110.8 120.90,112.5 120.95,111.8 121.00,118.2 121.05,111.1 121.10,109.1 121.15,108.8 121.20,111.9 121.25,111.0 121.30,111.4 121.35,110.0 121.40,110.1 121.45,113.0 121.50,114.9 121.55,111.7 121.60,110.3 121.65,107.0 121.70,107.0 121.75,110.7 121.80,109.8 121.85,116.7 121.90,107.1 121.95,110.1 122.00,104.4 122.05,106.7 122.10,108.0 122.15,112.2 122.20,108.5 122.25,107.4 122.30,111.2 122.35,110.0 122.40,113.2 122.45,111.3 122.50,110.9 122.55,109.7 122.60,112.3 122.65,107.9 122.70,105.5 122.75,113.0 122.80,108.7 122.85,110.3 122.90,112.1 122.95,113.3 123.00,101.1 123.05,106.8 123.10,113.9 123.15,104.8 123.20,111.5 123.25,108.9 123.30,107.3 123.35,109.6 123.40,104.8 123.45,111.3 123.50,113.6 123.55,105.5 123.60,107.9 123.65,113.7 123.70,111.1 123.75,108.9 123.80,114.4 123.85,104.7 123.90,109.0 123.95,110.2 124.00,108.9 124.05,112.3 124.10,104.6 124.15,110.0 124.20,107.5 124.25,113.7 124.30,113.3 124.35,107.7 124.40,106.6 124.45,110.0 124.50,107.5 124.55,108.4 124.60,111.5 124.65,108.8 124.70,115.9 124.75,110.5 124.80,108.7 124.85,106.9 124.90,108.8 124.95,113.9 125.00,112.2 125.05,115.0 125.10,114.6 125.15,112.3 125.20,108.5 125.25,110.2 125.30,110.9 125.35,105.6 125.40,111.8 125.45,107.6 125.50,110.6 125.55,109.3 125.60,112.7 125.65,119.2 125.70,107.3 125.75,111.0 125.80,117.4 125.85,108.2 125.90,110.4 125.95,110.9 126.00,112.2 126.05,106.2 126.10,112.3 126.15,113.2 126.20,119.3 126.25,111.2 126.30,109.7 126.35,111.9 126.40,103.4 126.45,112.6 126.50,116.5 126.55,111.5 126.60,111.6 126.65,111.0 126.70,112.2 126.75,107.9 126.80,116.6 126.85,110.4 126.90,110.5 126.95,117.1 127.00,112.1 127.05,110.7 127.10,117.2 127.15,112.6 127.20,114.9 127.25,110.2 127.30,106.4 127.35,112.5 127.40,116.3 127.45,110.4 127.50,113.0 127.55,114.0 127.60,112.6 127.65,111.9 127.70,114.1 127.75,112.3 127.80,110.0 127.85,114.9 127.90,114.1 127.95,112.7 128.00,113.7 128.05,103.2 128.10,112.2 128.15,111.5 128.20,105.1 128.25,117.8 128.30,112.4 128.35,109.9 128.40,110.0 128.45,112.0 128.50,111.1 128.55,106.1 128.60,109.8 128.65,112.4 128.70,112.9 128.75,113.7 128.80,107.6 128.85,108.9 128.90,112.0 128.95,108.9 129.00,111.5 129.05,108.2 129.10,112.6 129.15,110.9 129.20,112.5 129.25,110.7 129.30,108.2 129.35,106.8 129.40,110.7 129.45,108.6 129.50,105.8 129.55,108.7 129.60,112.9 129.65,114.2 129.70,112.7 129.75,114.6 129.80,109.1 129.85,109.8 129.90,107.3 129.95,107.8 130.00,115.2 130.05,111.5 130.10,112.1 130.15,118.3 130.20,116.2 130.25,107.5 130.30,113.3 130.35,108.0 130.40,113.5 130.45,104.6 130.50,107.6 130.55,107.7 130.60,116.8 130.65,105.1 130.70,114.2 130.75,114.1 130.80,111.2 130.85,113.4 130.90,118.9 130.95,111.7 131.00,110.1 131.05,115.3 131.10,113.5 131.15,107.5 131.20,111.8 131.25,112.1 131.30,107.7 131.35,108.4 131.40,109.3 131.45,107.7 131.50,113.1 131.55,112.5 131.60,104.6 131.65,110.3 131.70,112.1 131.75,107.5 131.80,110.9 131.85,112.7 131.90,106.5 131.95,110.9 132.00,104.5 132.05,114.3 132.10,109.7 132.15,107.5 132.20,106.3 132.25,106.9 132.30,116.2 132.35,109.5 132.40,110.4 132.45,111.0 132.50,107.5 132.55,114.7 132.60,104.5 132.65,115.2 132.70,110.1 132.75,112.6 132.80,113.5 132.85,115.2 132.90,108.7 132.95,114.6 133.00,112.5 133.05,112.3 133.10,111.9 133.15,116.3 133.20,114.2 133.25,116.7 133.30,115.6 133.35,106.4 133.40,112.3 133.45,115.8 133.50,109.8 133.55,107.3 133.60,105.3 133.65,118.8 133.70,109.6 133.75,113.0 133.80,109.1 133.85,113.8 133.90,117.7 133.95,107.8 134.00,112.2 134.05,110.0 134.10,106.4 134.15,109.5 134.20,112.4 134.25,116.2 134.30,116.3 134.35,112.2 134.40,107.0 134.45,114.3 134.50,112.2 134.55,112.1 134.60,108.6 134.65,111.7 134.70,118.4 134.75,116.8 134.80,116.1 134.85,114.2 134.90,110.8 134.95,112.1 135.00,112.5 135.05,113.3 135.10,110.9 135.15,109.2 135.20,115.5 135.25,110.8 135.30,114.6 135.35,111.4 135.40,114.0 135.45,113.5 135.50,114.2 135.55,114.0 135.60,108.8 135.65,107.5 135.70,111.6 135.75,117.0 135.80,109.1 135.85,108.8 135.90,118.9 135.95,106.8 136.00,109.8 136.05,110.3 136.10,109.5 136.15,109.5 136.20,114.9 136.25,112.0 136.30,111.9 136.35,106.0 136.40,113.7 136.45,111.6 136.50,111.5 136.55,113.5 136.60,111.9 136.65,110.7 136.70,112.0 136.75,108.4 136.80,107.7 136.85,106.2 136.90,113.5 136.95,108.3 137.00,110.8 137.05,113.7 137.10,115.8 137.15,108.9 137.20,110.5 137.25,110.2 137.30,105.7 137.35,108.2 137.40,118.5 137.45,109.4 137.50,115.1 137.55,111.8 137.60,114.9 137.65,113.5 137.70,109.9 137.75,105.2 137.80,113.6 137.85,111.2 137.90,110.4 137.95,111.6 138.00,106.2 138.05,109.1 138.10,108.6 138.15,103.8 138.20,104.7 138.25,108.0 138.30,101.3 138.35,110.5 138.40,110.6 138.45,107.8 138.50,108.9 138.55,102.2 138.60,108.4 138.65,110.1 138.70,109.3 138.75,110.5 138.80,107.3 138.85,113.7 138.90,108.7 138.95,109.8 139.00,110.6 139.05,104.7 139.10,103.5 139.15,109.4 139.20,103.1 139.25,105.1 139.30,110.2 139.35,103.5 139.40,103.8 139.45,102.7 139.50,103.5 139.55,113.1 139.60,108.4 139.65,109.7 139.70,100.0 139.75,98.5 139.80,102.2 139.85,109.0 139.90,109.1 139.95,99.8 140.00,101.5 140.05,108.7 140.10,106.6 140.15,106.5 140.20,111.9 140.25,100.9 140.30,107.6 140.35,103.6 140.40,109.1 140.45,107.8 140.50,99.7 140.55,111.7 140.60,112.8 140.65,112.6 140.70,106.8 140.75,105.7 140.80,113.3 140.85,108.1 140.90,112.7 140.95,113.4 141.00,110.8 141.05,105.7 141.10,113.4 141.15,109.1 141.20,107.2 141.25,112.2 141.30,113.1 141.35,112.3 141.40,114.8 141.45,106.9 141.50,114.7 141.55,118.1 141.60,112.8 141.65,111.5 141.70,112.6 141.75,117.1 141.80,112.6 141.85,110.8 141.90,108.0 141.95,117.8 142.00,117.9 142.05,113.5 142.10,120.1 142.15,112.2 142.20,115.7 142.25,109.2 142.30,110.2 142.35,113.3 142.40,114.7 142.45,115.1 142.50,110.3 142.55,111.4 142.60,112.7 142.65,112.1 142.70,112.1 142.75,115.5 142.80,116.5 142.85,107.0 142.90,116.9 142.95,113.3 143.00,113.7 143.05,113.7 143.10,115.5 143.15,114.7 143.20,107.7 143.25,115.2 143.30,108.9 143.35,113.6 143.40,113.0 143.45,107.4 143.50,112.3 143.55,111.4 143.60,110.0 143.65,118.5 143.70,112.5 143.75,110.8 143.80,117.4 143.85,111.8 143.90,111.4 143.95,105.5 144.00,113.6 144.05,114.9 144.10,117.7 144.15,108.4 144.20,114.9 144.25,115.9 144.30,113.7 144.35,111.4 144.40,106.2 144.45,111.9 144.50,109.5 144.55,105.7 144.60,113.1 144.65,110.7 144.70,110.3 144.75,117.2 144.80,109.3 144.85,104.4 144.90,103.9 144.95,112.5 145.00,110.1 145.05,108.3 145.10,104.0 145.15,108.0 145.20,107.1 145.25,110.3 145.30,108.0 145.35,107.9 145.40,110.5 145.45,108.2 145.50,111.7 145.55,93.5 145.60,106.8 145.65,114.5 145.70,111.3 145.75,107.3 145.80,110.1 145.85,108.9 145.90,109.5 145.95,115.2 146.00,109.4 146.05,111.3 146.10,108.0 146.15,108.3 146.20,105.8 146.25,108.6 146.30,109.3 146.35,109.6 146.40,110.8 146.45,110.9 146.50,112.6 146.55,109.9 146.60,114.7 146.65,112.4 146.70,114.8 146.75,110.3 146.80,114.2 146.85,110.7 146.90,105.2 146.95,110.3 147.00,109.7 147.05,105.7 147.10,107.1 147.15,108.3 147.20,117.3 147.25,111.0 147.30,115.7 147.35,112.9 147.40,113.3 147.45,112.4 147.50,105.2 147.55,113.7 147.60,106.6 147.65,111.0 147.70,109.3 147.75,114.6 147.80,113.2 147.85,115.2 147.90,110.9 147.95,109.4 148.00,111.7 148.05,116.7 148.10,110.8 148.15,109.2 148.20,105.2 148.25,106.6 148.30,108.6 148.35,110.9 148.40,110.6 148.45,108.3 148.50,109.0 148.55,113.3 148.60,114.2 148.65,112.1 148.70,113.1 148.75,112.1 148.80,113.9 148.85,104.2 148.90,106.5 148.95,108.7 149.00,109.2 149.05,112.1 149.10,102.1 149.15,108.3 149.20,108.6 149.25,105.6 149.30,107.2 149.35,110.7 149.40,109.0 149.45,107.1 149.50,108.1 149.55,107.0 149.60,110.2 149.65,106.9 149.70,110.2 149.75,105.4 149.80,106.9 149.85,103.5 149.90,106.2 149.95,109.4 150.00,103.5 150.05,105.5 150.10,106.9 150.15,105.4 150.20,109.1 150.25,102.6 150.30,109.0 150.35,110.4 150.40,111.4 150.45,106.0 150.50,103.6 150.55,101.1 150.60,108.1 150.65,108.5 150.70,100.0 150.75,106.9 150.80,107.8 150.85,104.6 150.90,101.0 150.95,101.1 151.00,103.1 151.05,102.7 151.10,100.5 151.15,104.1 151.20,102.2 151.25,107.4 151.30,105.1 151.35,107.8 151.40,101.1 151.45,101.8 151.50,100.3 151.55,106.2 151.60,115.1 151.65,106.1 151.70,104.1 151.75,106.2 151.80,105.5 151.85,108.7 151.90,105.8 151.95,103.1 152.00,100.1 152.05,107.2 152.10,109.4 152.15,106.9 152.20,103.8 152.25,105.3 152.30,105.8 152.35,108.8 152.40,107.0 152.45,111.0 152.50,106.8 152.55,105.6 152.60,113.6 152.65,104.8 152.70,105.6 152.75,114.8 152.80,109.3 152.85,114.1 152.90,100.9 152.95,112.8 153.00,109.0 153.05,109.4 153.10,110.8 153.15,100.7 153.20,106.7 153.25,111.0 153.30,119.8 153.35,107.4 153.40,117.2 153.45,111.9 153.50,113.2 153.55,107.1 153.60,112.1 153.65,107.5 153.70,106.5 153.75,114.3 153.80,108.2 153.85,108.8 153.90,112.6 153.95,107.9 154.00,106.5 154.05,111.2 154.10,111.4 154.15,115.4 154.20,107.2 154.25,113.1 154.30,113.2 154.35,109.7 154.40,110.6 154.45,111.3 154.50,108.1 154.55,107.3 154.60,113.7 154.65,108.2 154.70,108.6 154.75,114.2 154.80,110.1 154.85,110.6 154.90,107.6 154.95,108.2 155.00,107.8 155.05,107.9 155.10,116.2 155.15,109.3 155.20,105.2 155.25,109.0 155.30,114.8 155.35,109.0 155.40,112.5 155.45,109.8 155.50,107.3 155.55,111.2 155.60,109.7 155.65,113.6 155.70,115.3 155.75,113.0 155.80,121.5 155.85,110.0 155.90,117.6 155.95,114.8 156.00,117.9 156.05,115.2 156.10,106.6 156.15,112.7 156.20,116.9 156.25,113.8 156.30,109.6 156.35,112.0 156.40,114.8 156.45,117.6 156.50,111.9 156.55,114.2 156.60,111.0 156.65,110.1 156.70,112.3 156.75,118.2 156.80,116.2 156.85,113.1 156.90,114.0 156.95,115.7 157.00,113.7 157.05,112.7 157.10,113.2 157.15,116.1 157.20,112.9 157.25,116.5 157.30,108.2 157.35,111.7 157.40,112.7 157.45,115.8 157.50,111.1 157.55,112.3 157.60,114.9 157.65,113.6 157.70,111.8 157.75,112.9 157.80,111.0 157.85,116.4 157.90,115.2 157.95,116.5 158.00,120.9 158.05,117.8 158.10,115.4 158.15,113.6 158.20,121.0 158.25,114.7 158.30,113.3 158.35,118.0 158.40,115.3 158.45,113.2 158.50,115.4 158.55,120.1 158.60,114.5 158.65,115.3 158.70,111.4 158.75,112.6 158.80,116.9 158.85,113.9 158.90,114.5 158.95,117.6 159.00,113.1 159.05,119.0 159.10,112.1 159.15,111.8 159.20,111.6 159.25,109.4 159.30,115.8 159.35,114.1 159.40,118.3 159.45,111.8 159.50,116.3 159.55,118.1 159.60,113.3 159.65,113.4 159.70,106.2 159.75,119.9 159.80,113.5 159.85,116.0 159.90,112.2 159.95,114.9 160.00,110.2 160.05,116.1 160.10,114.1 160.15,112.7 160.20,115.2 160.25,108.3 160.30,114.4 160.35,112.6 160.40,118.5 160.45,116.4 160.50,113.4 160.55,113.1 160.60,123.3 160.65,111.0 160.70,120.0 160.75,117.0 160.80,116.6 160.85,108.3 160.90,116.8 160.95,112.7 161.00,111.5 161.05,116.2 161.10,112.1 161.15,116.2 161.20,111.5 161.25,116.3 161.30,115.8 161.35,111.9 161.40,111.5 161.45,112.4 161.50,112.9 161.55,112.7 161.60,120.4 161.65,115.9 161.70,113.6 161.75,113.7 161.80,112.2 161.85,115.6 161.90,114.6 161.95,112.7 162.00,112.7 162.05,113.6 162.10,111.6 162.15,115.3 162.20,112.1 162.25,116.7 162.30,114.0 162.35,116.7 162.40,113.3 162.45,109.3 162.50,111.1 162.55,114.3 162.60,116.4 162.65,116.5 162.70,116.9 162.75,117.5 162.80,116.5 162.85,116.8 162.90,114.8 162.95,117.2 163.00,115.2 163.05,115.4 163.10,116.2 163.15,122.7 163.20,111.0 163.25,114.0 163.30,114.6 163.35,116.7 163.40,115.4 163.45,120.4 163.50,110.4 163.55,120.8 163.60,119.6 163.65,112.9 163.70,116.8 163.75,115.3 163.80,114.9 163.85,115.1 163.90,116.1 163.95,117.8 164.00,116.0 164.05,110.8 164.10,112.3 164.15,118.8 164.20,120.4 164.25,117.2 164.30,117.5 164.35,114.9 164.40,120.3 164.45,111.9 164.50,112.6 164.55,111.4 164.60,118.2 164.65,111.0 164.70,113.1 164.75,108.5 164.80,107.9 164.85,115.5 164.90,112.4 164.95,112.2 165.00,109.4 165.05,108.3 165.10,105.1 165.15,102.0 165.20,110.4 165.25,109.3 165.30,104.0 165.35,101.4 165.40,104.8 165.45,106.5 165.50,101.3 165.55,110.5 165.60,106.6 165.65,105.5 165.70,110.1 165.75,111.3 165.80,107.2 165.85,115.4 165.90,106.7 165.95,110.0 166.00,116.1 166.05,112.8 166.10,113.6 166.15,103.3 166.20,112.2 166.25,110.8 166.30,111.6 166.35,107.8 166.40,110.1 166.45,114.4 166.50,114.5 166.55,115.2 166.60,115.5 166.65,116.4 166.70,114.3 166.75,112.5 166.80,111.4 166.85,112.0 166.90,110.4 166.95,110.3 167.00,113.2 167.05,106.4 167.10,109.7 167.15,111.1 167.20,115.3 167.25,117.0 167.30,114.8 167.35,113.7 167.40,112.3 167.45,117.4 167.50,116.2 167.55,112.0 167.60,114.0 167.65,115.4 167.70,117.0 167.75,113.2 167.80,118.9 167.85,118.0 167.90,113.1 167.95,113.9 168.00,111.7 168.05,111.8 168.10,115.6 168.15,119.1 168.20,119.2 168.25,115.4 168.30,113.7 168.35,113.0 168.40,116.4 168.45,113.7 168.50,117.3 168.55,114.8 168.60,116.2 168.65,113.7 168.70,121.6 168.75,118.9 168.80,115.7 168.85,112.8 168.90,117.3 168.95,118.0 169.00,112.2 169.05,116.0 169.10,122.1 169.15,116.3 169.20,114.5 169.25,117.5 169.30,121.3 169.35,114.2 169.40,114.2 169.45,114.8 169.50,115.7 169.55,119.1 169.60,116.5 169.65,108.5 169.70,116.7 169.75,116.5 169.80,117.2 169.85,116.1 169.90,114.8 169.95,116.7 170.00,113.0 170.05,109.8 170.10,114.0 170.15,111.6 170.20,120.1 170.25,114.5 170.30,119.6 170.35,110.6 170.40,110.9 170.45,115.9 170.50,109.3 170.55,112.5 170.60,108.5 170.65,115.7 170.70,109.0 170.75,113.9 170.80,108.8 170.85,115.7 170.90,117.4 170.95,114.5 171.00,111.0 171.05,115.3 171.10,117.0 171.15,116.3 171.20,117.8 171.25,119.7 171.30,114.5 171.35,112.9 171.40,111.7 171.45,113.6 171.50,112.9 171.55,111.9 171.60,114.5 171.65,119.6 171.70,110.9 171.75,111.8 171.80,112.2 171.85,110.1 171.90,116.4 171.95,112.7 172.00,114.9 172.05,108.1 172.10,114.7 172.15,112.6 172.20,108.5 172.25,115.7 172.30,116.0 172.35,113.8 172.40,114.6 172.45,110.2 172.50,116.3 172.55,112.4 172.60,114.7 172.65,115.1 172.70,114.7 172.75,111.0 172.80,114.1 172.85,113.8 172.90,117.0 172.95,111.0 173.00,116.3 173.05,114.9 173.10,113.6 173.15,119.3 173.20,116.0 173.25,111.8 173.30,114.5 173.35,111.2 173.40,109.9 173.45,112.0 173.50,112.1 173.55,118.9 173.60,116.1 173.65,106.2 173.70,113.2 173.75,111.5 173.80,113.3 173.85,114.3 173.90,113.9 173.95,115.1 174.00,111.4 174.05,118.2 174.10,113.4 174.15,117.7 174.20,113.6 174.25,115.4 174.30,111.0 174.35,117.4 174.40,114.9 174.45,112.7 174.50,115.2 174.55,115.5 174.60,109.3 174.65,111.7 174.70,111.0 174.75,116.7 174.80,114.7 174.85,112.1 174.90,112.0 174.95,114.1 175.00,107.1 175.05,113.7 175.10,119.1 175.15,109.9 175.20,110.5 175.25,110.7 175.30,115.6 175.35,111.9 175.40,125.7 175.45,113.6 175.50,112.6 175.55,110.8 175.60,116.3 175.65,117.5 175.70,114.7 175.75,118.2 175.80,118.0 175.85,115.2 175.90,114.3 175.95,112.4 176.00,114.8 176.05,113.0 176.10,118.7 176.15,116.4 176.20,113.6 176.25,112.9 176.30,115.3 176.35,117.3 176.40,114.9 176.45,117.2 176.50,112.7 176.55,114.7 176.60,116.1 176.65,114.6 176.70,115.2 176.75,117.2 176.80,114.0 176.85,117.1 176.90,112.4 176.95,115.6 177.00,112.7 177.05,112.8 177.10,115.9 177.15,118.0 177.20,113.6 177.25,114.3 177.30,118.1 177.35,111.6 177.40,116.9 177.45,110.4 177.50,108.2 177.55,115.1 177.60,113.1 177.65,112.4 177.70,106.6 177.75,115.1 177.80,112.5 177.85,110.3 177.90,113.6 177.95,110.2 178.00,111.5 178.05,111.4 178.10,116.9 178.15,113.5 178.20,117.9 178.25,111.5 178.30,110.4 178.35,119.6 178.40,109.9 178.45,118.0 178.50,110.9 178.55,116.6 178.60,112.1 178.65,119.1 178.70,120.6 178.75,117.8 178.80,115.8 178.85,113.6 178.90,117.2 178.95,121.4 179.00,113.5 179.05,111.5 179.10,120.6 179.15,114.4 179.20,117.5 179.25,115.8 179.30,116.2 179.35,114.5 179.40,115.0 179.45,110.3 179.50,113.8 179.55,113.0 179.60,119.3 179.65,114.8 179.70,116.1 179.75,110.7 179.80,116.2 179.85,120.7 179.90,116.6 179.95,118.8 180.00,115.2 180.05,114.3 180.10,119.3 180.15,114.9 180.20,113.2 180.25,116.1 180.30,115.3 180.35,119.8 180.40,118.9 180.45,112.2 180.50,118.3 180.55,112.6 180.60,117.4 180.65,118.6 180.70,115.3 180.75,115.4 180.80,119.4 180.85,116.2 180.90,113.7 180.95,122.3 181.00,120.0 181.05,118.8 181.10,118.4 181.15,120.5 181.20,117.6 181.25,119.8 181.30,118.3 181.35,115.2 181.40,120.5 181.45,117.8 181.50,114.7 181.55,115.8 181.60,109.7 181.65,112.0 181.70,112.6 181.75,119.2 181.80,119.1 181.85,120.5 181.90,118.3 181.95,122.3 182.00,115.5 182.05,114.5 182.10,113.9 182.15,117.4 182.20,114.7 182.25,113.8 182.30,115.0 182.35,117.1 182.40,112.6 182.45,116.5 182.50,116.4 182.55,121.6 182.60,116.9 182.65,112.4 182.70,117.1 182.75,116.9 182.80,112.4 182.85,106.8 182.90,118.6 182.95,115.6 183.00,113.9 183.05,115.6 183.10,120.1 183.15,121.5 183.20,114.6 183.25,120.8 183.30,115.9 183.35,116.0 183.40,115.7 183.45,115.7 183.50,115.5 183.55,113.8 183.60,115.9 183.65,112.7 183.70,117.5 183.75,113.8 183.80,117.3 183.85,115.3 183.90,110.1 183.95,119.3 184.00,116.5 184.05,115.4 184.10,114.5 184.15,121.2 184.20,114.9 184.25,118.7 184.30,116.4 184.35,111.7 184.40,118.1 184.45,111.1 184.50,117.3 184.55,117.2 184.60,116.7 184.65,113.7 184.70,120.4 184.75,121.6 184.80,113.3 184.85,115.0 184.90,121.3 184.95,114.9 185.00,119.3 185.05,113.3 185.10,114.4 185.15,117.3 185.20,117.9 185.25,112.0 185.30,113.3 185.35,118.2 185.40,120.6 185.45,118.3 185.50,117.9 185.55,118.1 185.60,113.1 185.65,118.1 185.70,119.7 185.75,118.8 185.80,113.4 185.85,114.1 185.90,120.6 185.95,112.8 186.00,113.9 186.05,122.1 186.10,114.5 186.15,115.0 186.20,119.3 186.25,119.8 186.30,116.9 186.35,113.0 186.40,115.9 186.45,118.1 186.50,114.7 186.55,114.6 186.60,121.6 186.65,119.4 186.70,120.2 186.75,120.6 186.80,114.7 186.85,119.4 186.90,121.6 186.95,120.1 187.00,114.4 187.05,113.3 187.10,115.6 187.15,119.8 187.20,117.4 187.25,118.8 187.30,114.0 187.35,120.5 187.40,115.6 187.45,121.3 187.50,117.6 187.55,108.4 187.60,117.0 187.65,114.9 187.70,114.9 187.75,117.0 187.80,120.7 187.85,120.0 187.90,121.7 187.95,117.3 188.00,111.4 188.05,115.4 188.10,114.3 188.15,115.0 188.20,125.3 188.25,119.5 188.30,113.9 188.35,120.6 188.40,115.9 188.45,112.6 188.50,120.4 188.55,115.2 188.60,117.0 188.65,123.7 188.70,113.4 188.75,119.7 188.80,115.5 188.85,113.0 188.90,115.6 188.95,116.8 189.00,116.8 189.05,111.4 189.10,118.8 189.15,113.5 189.20,117.0 189.25,116.7 189.30,114.2 189.35,117.8 189.40,113.6 189.45,112.9 189.50,111.4 189.55,109.9 189.60,113.5 189.65,108.8 189.70,114.5 189.75,113.8 189.80,120.6 189.85,111.8 189.90,118.9 189.95,116.5 190.00,116.2 190.05,113.3 190.10,112.6 190.15,114.2 190.20,115.0 190.25,116.9 190.30,113.6 190.35,120.0 190.40,120.4 190.45,107.5 190.50,115.6 190.55,114.8 190.60,112.1 190.65,106.8 190.70,109.8 190.75,114.6 190.80,117.3 190.85,116.6 190.90,116.8 190.95,114.5 191.00,118.4 191.05,116.7 191.10,118.7 191.15,114.8 191.20,113.2 191.25,110.5 191.30,120.0 191.35,113.4 191.40,112.0 191.45,108.6 191.50,117.0 191.55,111.0 191.60,115.4 191.65,116.1 191.70,119.7 191.75,113.0 191.80,109.2 191.85,117.9 191.90,116.0 191.95,113.3 192.00,115.1 192.05,121.1 192.10,115.4 192.15,113.2 192.20,115.0 192.25,117.1 192.30,116.4 192.35,116.3 192.40,116.3 192.45,111.6 192.50,117.1 192.55,118.5 192.60,117.3 192.65,115.1 192.70,115.0 192.75,115.9 192.80,115.5 192.85,110.2 192.90,114.9 192.95,119.2 193.00,114.3 193.05,113.7 193.10,117.2 193.15,115.6 193.20,113.1 193.25,115.9 193.30,120.6 193.35,121.0 193.40,115.8 193.45,114.8 193.50,119.0 193.55,116.8 193.60,117.0 193.65,115.1 193.70,111.3 193.75,110.8 193.80,115.1 193.85,111.9 193.90,117.8 193.95,118.2 194.00,119.9 194.05,115.6 194.10,121.4 194.15,119.3 194.20,116.5 194.25,117.7 194.30,113.6 194.35,105.5 194.40,118.6 194.45,116.9 194.50,120.6 194.55,116.9 194.60,114.8 194.65,113.8 194.70,113.4 194.75,115.8 194.80,109.7 194.85,111.8 194.90,117.9 194.95,108.9 195.00,110.4 195.05,113.4 195.10,114.0 195.15,115.4 195.20,117.9 195.25,116.1 195.30,117.0 195.35,113.4 195.40,115.3 195.45,113.0 195.50,114.8 195.55,117.0 195.60,116.7 195.65,109.3 195.70,111.6 195.75,121.3 195.80,108.8 195.85,115.4 195.90,111.5 195.95,114.5 196.00,113.3 196.05,115.3 196.10,111.7 196.15,118.3 196.20,121.8 196.25,107.4 196.30,112.3 196.35,110.2 196.40,115.3 196.45,119.2 196.50,119.1 196.55,118.9 196.60,115.4 196.65,113.0 196.70,118.1 196.75,112.7 196.80,112.1 196.85,114.7 196.90,110.6 196.95,113.8 197.00,111.5 197.05,114.7 197.10,117.3 197.15,112.6 197.20,115.7 197.25,117.2 197.30,111.8 197.35,113.9 197.40,113.0 197.45,119.7 197.50,112.4 197.55,114.3 197.60,109.6 197.65,111.0 197.70,115.7 197.75,112.9 197.80,116.1 197.85,113.9 197.90,121.8 197.95,112.9 198.00,116.6 198.05,111.3 198.10,112.2 198.15,108.7 198.20,121.6 198.25,106.9 198.30,113.8 198.35,112.0 198.40,115.8 198.45,111.6 198.50,119.1 198.55,116.7 198.60,114.8 198.65,114.7 198.70,116.4 198.75,114.5 198.80,118.0 198.85,115.8 198.90,112.9 198.95,114.4 199.00,113.6 199.05,116.7 199.10,112.1 199.15,113.3 199.20,109.1 199.25,115.1 199.30,113.8 199.35,111.0 199.40,118.4 199.45,113.1 199.50,109.5 199.55,116.6 199.60,112.5 199.65,103.5 199.70,114.2 199.75,113.1 199.80,113.4 199.85,112.5 199.90,110.6 199.95,113.5 200.00,107.9 200.05,112.6 200.10,115.8 200.15,116.3 200.20,111.6 200.25,119.2 200.30,114.2 200.35,111.9 200.40,113.7 200.45,111.1 200.50,116.0 200.55,110.4 200.60,111.1 200.65,109.7 200.70,110.8 200.75,112.5 200.80,119.1 200.85,114.1 200.90,117.0 200.95,113.5 201.00,116.3 201.05,110.2 201.10,109.9 201.15,119.2 201.20,114.6 201.25,108.6 201.30,115.3 201.35,112.9 201.40,112.6 201.45,116.1 201.50,109.7 201.55,117.3 201.60,114.3 201.65,112.0 201.70,109.4 201.75,119.0 201.80,112.4 201.85,109.3 201.90,113.1 201.95,115.1 202.00,115.5 202.05,118.2 202.10,115.4 202.15,113.5 202.20,120.7 202.25,120.0 202.30,110.3 202.35,116.9 202.40,112.0 202.45,118.6 202.50,111.0 202.55,114.9 202.60,118.9 202.65,115.1 202.70,117.5 202.75,111.9 202.80,110.3 202.85,110.5 202.90,116.1 202.95,112.2 203.00,118.9 203.05,113.3 203.10,118.6 203.15,115.5 203.20,111.1 203.25,114.6 203.30,116.0 203.35,116.1 203.40,114.3 203.45,118.1 203.50,117.6 203.55,117.7 203.60,112.3 203.65,108.2 203.70,116.6 203.75,112.2 203.80,113.2 203.85,114.1 203.90,115.9 203.95,109.5 204.00,114.6 204.05,119.3 204.10,110.5 204.15,114.2 204.20,119.7 204.25,117.8 204.30,117.2 204.35,115.8 204.40,110.9 204.45,115.7 204.50,112.4 204.55,115.8 204.60,113.1 204.65,111.8 204.70,115.5 204.75,118.9 204.80,114.0 204.85,116.2 204.90,117.9 204.95,117.3 205.00,111.8 205.05,114.0 205.10,116.9 205.15,115.8 205.20,121.2 205.25,117.5 205.30,112.9 205.35,117.7 205.40,119.0 205.45,117.5 205.50,117.0 205.55,111.0 205.60,115.2 205.65,117.2 205.70,114.0 205.75,114.2 205.80,116.6 205.85,113.1 205.90,112.3 205.95,114.5 206.00,114.7 206.05,117.6 206.10,114.4 206.15,111.2 206.20,116.3 206.25,112.3 206.30,117.0 206.35,112.9 206.40,116.4 206.45,115.5 206.50,113.9 206.55,110.5 206.60,113.2 206.65,118.8 206.70,114.9 206.75,117.9 206.80,114.5 206.85,114.2 206.90,111.2 206.95,115.3 207.00,111.5 207.05,111.5 207.10,117.2 207.15,110.9 207.20,121.0 207.25,113.9 207.30,112.1 207.35,117.9 207.40,110.7 207.45,114.1 207.50,120.6 207.55,116.5 207.60,118.9 207.65,114.6 207.70,109.5 207.75,109.3 207.80,111.8 207.85,115.8 207.90,113.7 207.95,114.1 208.00,112.2 208.05,117.4 208.10,109.6 208.15,119.1 208.20,116.9 208.25,115.3 208.30,113.1 208.35,112.3 208.40,113.2 208.45,111.5 208.50,111.9 208.55,110.7 208.60,115.6 208.65,113.6 208.70,114.6 208.75,111.0 208.80,109.5 208.85,110.4 208.90,114.0 208.95,109.7 209.00,115.2 209.05,110.4 209.10,112.0 209.15,114.1 209.20,109.7 209.25,107.0 209.30,117.0 209.35,112.9 209.40,111.4 209.45,118.4 209.50,120.1 209.55,113.5 209.60,114.4 209.65,121.6 209.70,111.6 209.75,117.2 209.80,116.5 209.85,111.7 209.90,110.5 209.95,111.2 210.00,114.0 210.05,114.7 210.10,121.7 210.15,110.4 210.20,114.2 210.25,111.2 210.30,116.4 210.35,115.0 210.40,109.6 210.45,112.3 210.50,113.9 210.55,116.0 210.60,115.4 210.65,115.9 210.70,113.9 210.75,115.7 210.80,114.1 210.85,116.9 210.90,115.7 210.95,111.2 211.00,113.8 211.05,111.6 211.10,113.6 211.15,115.7 211.20,114.3 211.25,113.6 211.30,112.1 211.35,118.6 211.40,114.0 211.45,111.0 211.50,112.5 211.55,116.9 211.60,120.2 211.65,117.9 211.70,112.9 211.75,116.6 211.80,108.8 211.85,116.5 211.90,113.2 211.95,114.7 212.00,110.1 212.05,115.1 212.10,110.0 212.15,108.8 212.20,118.5 212.25,110.1 212.30,116.7 212.35,112.1 212.40,113.5 212.45,113.9 212.50,117.3 212.55,115.2 212.60,111.1 212.65,112.2 212.70,117.9 212.75,118.0 212.80,112.4 212.85,106.7 212.90,113.6 212.95,116.9 213.00,110.7 213.05,116.3 213.10,112.0 213.15,109.8 213.20,115.6 213.25,115.5 213.30,109.1 213.35,106.6 213.40,113.3 213.45,115.1 213.50,112.0 213.55,114.0 213.60,112.3 213.65,111.9 213.70,114.8 213.75,117.4 213.80,115.1 213.85,112.6 213.90,111.5 213.95,114.2 214.00,106.8 214.05,109.1 214.10,113.2 214.15,113.5 214.20,112.8 214.25,113.0 214.30,109.1 214.35,115.7 214.40,112.7 214.45,113.7 214.50,112.1 214.55,109.1 214.60,115.6 214.65,113.0 214.70,112.9 214.75,114.9 214.80,119.0 214.85,113.7 214.90,115.5 214.95,119.5 215.00,112.9 215.05,117.6 215.10,114.0 215.15,117.0 215.20,114.3 215.25,116.9 215.30,111.7 215.35,112.5 215.40,112.1 215.45,113.1 215.50,117.5 215.55,115.4 215.60,116.1 215.65,113.4 215.70,114.4 215.75,115.5 215.80,115.3 215.85,112.5 215.90,113.0 215.95,110.9 216.00,116.6 216.05,117.5 216.10,120.1 216.15,104.8 216.20,110.2 216.25,116.1 216.30,122.5 216.35,112.9 216.40,111.9 216.45,115.0 216.50,109.9 216.55,110.0 216.60,110.8 216.65,109.2 216.70,110.9 216.75,118.1 216.80,116.2 216.85,110.4 216.90,118.8 216.95,114.7 217.00,113.4 217.05,114.9 217.10,114.2 217.15,118.1 217.20,116.2 217.25,111.6 217.30,112.7 217.35,116.7 217.40,112.4 217.45,111.3 217.50,106.9 217.55,116.8 217.60,114.2 217.65,113.5 217.70,111.4 217.75,112.4 217.80,114.0 217.85,110.5 217.90,114.3 217.95,119.3 218.00,112.4 218.05,114.0 218.10,118.8 218.15,114.2 218.20,118.8 218.25,117.0 218.30,116.7 218.35,113.3 218.40,112.4 218.45,117.9 218.50,114.2 218.55,113.4 218.60,106.9 218.65,113.3 218.70,121.4 218.75,115.7 218.80,119.2 218.85,114.4 218.90,109.3 218.95,114.1 219.00,119.1 219.05,114.2 219.10,112.7 219.15,113.0 219.20,109.9 219.25,112.4 219.30,113.9 219.35,116.5 219.40,115.8 219.45,110.0 219.50,107.4 219.55,112.3 219.60,111.0 219.65,115.9 219.70,110.1 219.75,115.2 219.80,111.9 219.85,116.7 219.90,113.4 219.95,107.0 220.00,105.8 220.05,114.0 220.10,109.9 220.15,116.1 220.20,112.9 220.25,118.6 220.30,112.9 220.35,110.7 220.40,106.8 220.45,114.6 220.50,112.3 220.55,112.0 220.60,121.4 220.65,115.5 220.70,110.1 220.75,115.1 220.80,108.2 220.85,111.0 220.90,115.7 220.95,109.0 221.00,113.1 221.05,113.3 221.10,113.6 221.15,110.0 221.20,108.7 221.25,113.0 221.30,115.1 221.35,110.0 221.40,115.6 221.45,116.5 221.50,114.1 221.55,116.3 221.60,116.2 221.65,116.9 221.70,114.0 221.75,114.1 221.80,114.3 221.85,116.9 221.90,111.6 221.95,117.8 222.00,110.3 222.05,119.3 222.10,115.3 222.15,121.7 222.20,114.1 222.25,115.4 222.30,108.4 222.35,112.5 222.40,113.9 222.45,114.6 222.50,115.4 222.55,113.8 222.60,113.2 222.65,116.3 222.70,108.6 222.75,112.0 222.80,115.5 222.85,113.1 222.90,117.1 222.95,111.3 223.00,112.2 223.05,115.3 223.10,118.9 223.15,109.4 223.20,108.1 223.25,109.7 223.30,109.5 223.35,114.2 223.40,116.4 223.45,113.4 223.50,114.2 223.55,115.4 223.60,114.7 223.65,114.4 223.70,114.2 223.75,117.1 223.80,110.0 223.85,112.0 223.90,114.4 223.95,122.0 224.00,110.9 224.05,116.0 224.10,111.3 224.15,113.1 224.20,111.2 224.25,119.5 224.30,114.8 224.35,112.1 224.40,116.7 224.45,111.5 224.50,114.5 224.55,109.5 224.60,112.8 224.65,114.8 224.70,114.8 224.75,111.1 224.80,111.4 224.85,108.3 224.90,107.2 224.95,113.0 225.00,117.3 225.05,115.3 225.10,115.6 225.15,113.8 225.20,113.7 225.25,113.7 225.30,119.0 225.35,112.8 225.40,117.6 225.45,109.5 225.50,110.6 225.55,113.7 225.60,109.3 225.65,118.7 225.70,114.7 225.75,115.3 225.80,112.6 225.85,115.5 225.90,112.0 225.95,118.2 226.00,118.1 226.05,112.0 226.10,111.5 226.15,109.5 226.20,109.6 226.25,118.1 226.30,116.6 226.35,119.1 226.40,115.9 226.45,117.0 226.50,116.4 226.55,112.8 226.60,114.9 226.65,117.2 226.70,119.7 226.75,111.3 226.80,111.3 226.85,123.5 226.90,111.6 226.95,112.3 227.00,114.5 227.05,114.0 227.10,117.5 227.15,113.0 227.20,116.4 227.25,114.6 227.30,114.6 227.35,113.8 227.40,111.6 227.45,112.7 227.50,110.7 227.55,112.9 227.60,114.6 227.65,115.0 227.70,110.7 227.75,111.9 227.80,113.2 227.85,118.3 227.90,114.9 227.95,115.4 228.00,118.0 228.05,115.7 228.10,112.6 228.15,119.4 228.20,113.8 228.25,117.9 228.30,115.5 228.35,116.2 228.40,118.2 228.45,112.8 228.50,109.8 228.55,115.1 228.60,114.0 228.65,113.3 228.70,114.2 228.75,109.3 228.80,114.0 228.85,113.2 228.90,115.0 228.95,113.7 229.00,112.9 229.05,116.0 229.10,117.3 229.15,113.7 229.20,111.3 229.25,111.8 229.30,117.6 229.35,108.6 229.40,113.8 229.45,114.5 229.50,115.0 229.55,107.3 229.60,114.1 229.65,106.6 229.70,111.6 229.75,110.2 229.80,106.9 229.85,118.3 229.90,111.8 229.95,107.8 230.00,109.3 230.05,112.3 230.10,114.8 230.15,112.7 230.20,108.9 230.25,117.5 230.30,113.7 230.35,117.7 230.40,117.0 230.45,113.7 230.50,116.9 230.55,112.4 230.60,116.0 230.65,107.7 230.70,107.1 230.75,109.3 230.80,114.3 230.85,113.1 230.90,110.4 230.95,110.7 231.00,110.8 231.05,112.9 231.10,115.9 231.15,115.6 231.20,111.9 231.25,112.4 231.30,114.3 231.35,109.1 231.40,112.4 231.45,114.2 231.50,113.8 231.55,111.0 231.60,109.8 231.65,109.5 231.70,116.7 231.75,112.4 231.80,108.5 231.85,106.0 231.90,112.3 231.95,116.9 232.00,111.4 232.05,109.5 232.10,114.7 232.15,111.2 232.20,111.8 232.25,113.2 232.30,111.4 232.35,114.5 232.40,115.0 232.45,112.2 232.50,110.8 232.55,113.5 232.60,104.8 232.65,111.4 232.70,111.0 232.75,115.0 232.80,109.5 232.85,116.1 232.90,112.4 232.95,114.2 233.00,117.0 233.05,113.5 233.10,111.2 233.15,114.0 233.20,114.1 233.25,119.2 233.30,113.1 233.35,116.2 233.40,117.5 233.45,116.8 233.50,112.8 233.55,109.9 233.60,116.8 233.65,118.9 233.70,115.7 233.75,117.4 233.80,114.3 233.85,116.5 233.90,118.1 233.95,114.1 234.00,117.9 234.05,114.1 234.10,111.4 234.15,115.5 234.20,113.8 234.25,115.8 234.30,116.2 234.35,113.9 234.40,115.8 234.45,113.2 234.50,117.1 234.55,111.8 234.60,110.5 234.65,117.9 234.70,108.7 234.75,114.0 234.80,114.2 234.85,117.4 234.90,114.1 234.95,114.2 235.00,109.3 235.05,117.9 235.10,111.7 235.15,114.8 235.20,112.3 235.25,118.2 235.30,111.8 235.35,110.4 235.40,118.6 235.45,112.5 235.50,115.1 235.55,115.7 235.60,109.6 235.65,117.4 235.70,111.0 235.75,114.3 235.80,115.4 235.85,113.8 235.90,111.2 235.95,116.8 236.00,111.1 236.05,109.7 236.10,117.4 236.15,117.5 236.20,107.8 236.25,112.9 236.30,113.5 236.35,104.7 236.40,111.7 236.45,116.9 236.50,110.2 236.55,117.3 236.60,119.3 236.65,112.7 236.70,110.8 236.75,113.2 236.80,108.5 236.85,116.9 236.90,114.4 236.95,108.4 237.00,110.3 237.05,111.7 237.10,116.1 237.15,115.2 237.20,110.5 237.25,113.0 237.30,111.1 237.35,113.9 237.40,111.5 237.45,118.9 237.50,113.7 237.55,111.3 237.60,108.8 237.65,107.7 237.70,114.3 237.75,114.5 237.80,116.8 237.85,108.6 237.90,114.1 237.95,107.9 238.00,113.8 238.05,113.4 238.10,112.3 238.15,110.6 238.20,110.1 238.25,110.4 238.30,105.5 238.35,113.7 238.40,108.0 238.45,112.1 238.50,111.4 238.55,113.9 238.60,111.8 238.65,111.7 238.70,112.6 238.75,114.7 238.80,110.4 238.85,108.9 238.90,111.8 238.95,111.4 239.00,114.0 239.05,113.0 239.10,112.2 239.15,115.3 239.20,112.7 239.25,113.7 239.30,110.5 239.35,116.5 239.40,113.9 239.45,108.9 239.50,109.1 239.55,117.4 239.60,112.6 239.65,117.3 239.70,119.2 239.75,112.3 239.80,112.9 239.85,114.4 239.90,109.1 239.95,106.3 240.00,117.7 240.05,109.4 240.10,111.5 240.15,116.6 240.20,112.2 240.25,114.9 240.30,113.0 240.35,108.0 240.40,109.6 240.45,112.3 240.50,109.0 240.55,115.1 240.60,113.1 240.65,107.1 240.70,113.5 240.75,110.4 240.80,111.0 240.85,114.2 240.90,106.2 240.95,109.1 241.00,112.8 241.05,107.4 241.10,115.9 241.15,101.7 241.20,115.2 241.25,114.2 241.30,109.8 241.35,112.1 241.40,109.5 241.45,117.7 241.50,111.8 241.55,113.4 241.60,112.7 241.65,107.5 241.70,105.7 241.75,112.3 241.80,116.2 241.85,113.8 241.90,111.2 241.95,113.1 242.00,110.7 242.05,115.8 242.10,113.7 242.15,112.8 242.20,118.4 242.25,110.0 242.30,108.9 242.35,111.0 242.40,110.1 242.45,110.0 242.50,113.7 242.55,113.4 242.60,106.4 242.65,109.6 242.70,110.1 242.75,105.9 242.80,113.6 242.85,112.0 242.90,113.1 242.95,109.6 243.00,109.8 243.05,112.4 243.10,111.8 243.15,110.2 243.20,113.1 243.25,109.4 243.30,114.5 243.35,112.9 243.40,109.8 243.45,107.6 243.50,112.5 243.55,115.0 243.60,103.9 243.65,116.0 243.70,113.9 243.75,115.6 243.80,106.9 243.85,109.5 243.90,111.9 243.95,112.3 244.00,111.1 244.05,110.3 244.10,104.8 244.15,115.1 244.20,114.0 244.25,110.2 244.30,111.9 244.35,109.9 244.40,115.0 244.45,111.2 244.50,115.6 244.55,110.5 244.60,109.3 244.65,107.1 244.70,113.6 244.75,110.3 244.80,114.1 244.85,115.8 244.90,113.5 244.95,117.2 245.00,111.3 245.05,110.2 245.10,113.6 245.15,112.3 245.20,117.8 245.25,107.4 245.30,109.5 245.35,117.0 245.40,110.6 245.45,112.4 245.50,111.6 245.55,113.0 245.60,119.7 245.65,116.7 245.70,113.4 245.75,119.4 245.80,110.5 245.85,119.5 245.90,119.6 245.95,109.7 246.00,110.8 246.05,110.8 246.10,112.7 246.15,116.3 246.20,118.7 246.25,117.6 246.30,118.2 246.35,115.3 246.40,112.5 246.45,111.4 246.50,114.3 246.55,111.5 246.60,110.6 246.65,116.2 246.70,111.8 246.75,113.6 246.80,121.1 246.85,116.2 246.90,116.3 246.95,114.0 247.00,112.0 247.05,116.7 247.10,113.7 247.15,114.4 247.20,112.9 247.25,116.1 247.30,115.5 247.35,107.9 247.40,111.7 247.45,114.1 247.50,120.4 247.55,111.6 247.60,115.7 247.65,118.0 247.70,117.9 247.75,112.9 247.80,117.3 247.85,115.2 247.90,114.6 247.95,112.8 248.00,108.8 248.05,112.6 248.10,109.4 248.15,116.9 248.20,115.5 248.25,119.6 248.30,109.4 248.35,109.1 248.40,113.3 248.45,114.5 248.50,116.6 248.55,110.2 248.60,108.1 248.65,110.6 248.70,124.2 248.75,110.5 248.80,111.6 248.85,116.1 248.90,115.3 248.95,112.1 249.00,103.8 249.05,115.3 249.10,111.6 249.15,117.4 249.20,113.5 249.25,115.0 249.30,107.3 249.35,113.5 249.40,113.0 249.45,111.8 249.50,114.5 249.55,115.0 249.60,111.8 249.65,115.1 249.70,117.8 249.75,114.8 249.80,112.6 249.85,114.0 249.90,112.4 249.95,113.9 250.00,115.5 250.05,111.9 250.10,115.0 250.15,118.1 250.20,112.3 250.25,110.6 250.30,111.7 250.35,115.0 250.40,114.1 250.45,111.0 250.50,104.8 250.55,114.4 250.60,114.2 250.65,114.1 250.70,110.6 250.75,105.8 250.80,111.6 250.85,110.4 250.90,114.5 250.95,117.5 251.00,115.4 251.05,111.8 251.10,115.2 251.15,111.1 251.20,115.1 251.25,113.0 251.30,111.2 251.35,113.9 251.40,113.2 251.45,117.0 251.50,112.5 251.55,112.3 251.60,117.1 251.65,113.9 251.70,113.4 251.75,119.0 251.80,105.2 251.85,108.2 251.90,110.9 251.95,116.9 252.00,117.6 252.05,113.9 252.10,111.0 252.15,108.7 252.20,114.8 252.25,114.3 252.30,111.3 252.35,116.3 252.40,118.3 252.45,110.3 252.50,114.1 252.55,109.1 252.60,113.8 252.65,109.1 252.70,113.2 252.75,118.9 252.80,111.2 252.85,117.5 252.90,117.2 252.95,116.7 253.00,111.7 253.05,108.4 253.10,113.0 253.15,114.8 253.20,111.0 253.25,110.0 253.30,108.9 253.35,122.1 253.40,106.3 253.45,115.1 253.50,111.1 253.55,116.3 253.60,116.6 253.65,109.4 253.70,112.4 253.75,111.6 253.80,114.3 253.85,112.1 253.90,115.0 253.95,114.1 254.00,110.7 254.05,115.8 254.10,114.0 254.15,114.2 254.20,111.2 254.25,114.8 254.30,111.2 254.35,116.6 254.40,113.8 254.45,105.3 254.50,114.4 254.55,114.1 254.60,112.6 254.65,115.0 254.70,107.8 254.75,113.5 254.80,110.1 254.85,113.1 254.90,110.2 254.95,108.4 255.00,111.4 255.05,107.2 255.10,112.5 255.15,114.6 255.20,116.4 255.25,113.6 255.30,110.9 255.35,111.7 255.40,112.0 255.45,116.2 255.50,109.4 255.55,110.7 255.60,105.9 255.65,116.2 255.70,108.6 255.75,108.3 255.80,98.6 255.85,113.0 255.90,111.4 255.95,111.1 256.00,107.9 256.05,110.5 256.10,115.7 256.15,107.4 256.20,112.6 256.25,116.4 256.30,108.7 256.35,114.3 256.40,114.3 256.45,109.9 256.50,112.1 256.55,114.4 256.60,115.1 256.65,110.6 256.70,107.9 256.75,113.0 256.80,113.1 256.85,114.7 256.90,117.0 256.95,116.2 257.00,115.5 257.05,111.9 257.10,116.8 257.15,116.5 257.20,111.9 257.25,111.5 257.30,108.8 257.35,111.6 257.40,113.2 257.45,112.5 257.50,115.1 257.55,113.4 257.60,110.6 257.65,117.2 257.70,108.1 257.75,116.6 257.80,113.7 257.85,114.4 257.90,111.5 257.95,114.0 258.00,118.6 258.05,111.7 258.10,114.7 258.15,114.2 258.20,104.3 258.25,112.0 258.30,114.8 258.35,111.8 258.40,113.3 258.45,105.3 258.50,119.0 258.55,115.0 258.60,113.5 258.65,111.8 258.70,117.1 258.75,114.6 258.80,116.7 258.85,116.1 258.90,110.1 258.95,115.8 259.00,106.9 259.05,105.9 259.10,113.4 259.15,119.6 259.20,115.9 259.25,115.9 259.30,111.4 259.35,113.6 259.40,115.6 259.45,107.4 259.50,111.5 259.55,112.4 259.60,116.6 259.65,117.6 259.70,111.9 259.75,118.4 259.80,114.2 259.85,113.4 259.90,117.7 259.95,111.2 260.00,111.5 260.05,109.6 260.10,111.0 260.15,106.5 260.20,121.1 260.25,115.5 260.30,119.2 260.35,108.5 260.40,107.5 260.45,117.7 260.50,112.3 260.55,112.0 260.60,111.6 260.65,108.8 260.70,110.7 260.75,119.5 260.80,109.5 260.85,117.4 260.90,114.0 260.95,115.4 261.00,116.4 261.05,109.7 261.10,115.4 261.15,114.1 261.20,121.1 261.25,114.0 261.30,115.8 261.35,113.3 261.40,113.7 261.45,113.4 261.50,112.4 261.55,115.8 261.60,113.4 261.65,114.0 261.70,115.2 261.75,110.3 261.80,111.4 261.85,113.3 261.90,113.8 261.95,117.7 262.00,105.6 262.05,104.3 262.10,109.0 262.15,112.2 262.20,111.2 262.25,106.6 262.30,109.0 262.35,109.0 262.40,106.4 262.45,108.7 262.50,109.9 262.55,115.1 262.60,112.2 262.65,110.2 262.70,109.5 262.75,111.1 262.80,115.6 262.85,115.8 262.90,109.2 262.95,110.7 263.00,112.3 263.05,112.8 263.10,108.5 263.15,113.6 263.20,114.4 263.25,114.6 263.30,117.7 263.35,114.9 263.40,111.3 263.45,107.4 263.50,111.6 263.55,109.8 263.60,115.2 263.65,111.5 263.70,107.9 263.75,110.2 263.80,116.4 263.85,109.7 263.90,112.3 263.95,115.0 264.00,112.8 264.05,107.5 264.10,107.4 264.15,109.2 264.20,113.1 264.25,112.6 264.30,109.4 264.35,111.8 264.40,112.5 264.45,106.5 264.50,107.8 264.55,111.9 264.60,115.1 264.65,111.1 264.70,112.3 264.75,116.3 264.80,109.2 264.85,111.6 264.90,110.8 264.95,117.4 265.00,110.0 265.05,109.0 265.10,114.7 265.15,120.8 265.20,114.7 265.25,115.9 265.30,116.0 265.35,113.6 265.40,111.5 265.45,117.7 265.50,113.8 265.55,108.8 265.60,110.8 265.65,112.4 265.70,109.8 265.75,112.3 265.80,111.2 265.85,111.2 265.90,108.0 265.95,117.2 266.00,109.2 266.05,108.6 266.10,114.7 266.15,112.1 266.20,112.4 266.25,118.4 266.30,110.6 266.35,108.9 266.40,110.3 266.45,111.0 266.50,113.9 266.55,114.8 266.60,116.7 266.65,111.9 266.70,114.7 266.75,110.3 266.80,111.8 266.85,113.8 266.90,109.8 266.95,118.8 267.00,112.1 267.05,110.7 267.10,110.7 267.15,114.3 267.20,118.9 267.25,109.5 267.30,114.2 267.35,111.0 267.40,116.4 267.45,112.2 267.50,107.0 267.55,110.3 267.60,113.0 267.65,113.0 267.70,118.8 267.75,115.4 267.80,110.9 267.85,116.7 267.90,113.8 267.95,120.7 268.00,113.5 268.05,112.4 268.10,115.4 268.15,120.0 268.20,113.2 268.25,119.1 268.30,114.5 268.35,115.0 268.40,118.3 268.45,117.6 268.50,116.0 268.55,120.0 268.60,112.6 268.65,106.4 268.70,116.2 268.75,114.6 268.80,113.2 268.85,117.6 268.90,106.9 268.95,112.8 269.00,117.7 269.05,114.6 269.10,117.5 269.15,114.4 269.20,109.7 269.25,109.7 269.30,113.9 269.35,109.2 269.40,118.3 269.45,110.5 269.50,107.5 269.55,112.2 269.60,114.7 269.65,112.7 269.70,112.3 269.75,111.4 269.80,107.3 269.85,113.2 269.90,115.2 269.95,109.6 270.00,114.2 270.05,107.3 270.10,113.2 270.15,109.2 270.20,115.1 270.25,107.9 270.30,108.6 270.35,111.3 270.40,112.1 270.45,111.2 270.50,114.4 270.55,112.1 270.60,111.1 270.65,117.2 270.70,115.0 270.75,112.7 270.80,113.0 270.85,106.1 270.90,107.9 270.95,118.5 271.00,107.0 271.05,114.7 271.10,113.0 271.15,110.4 271.20,119.7 271.25,110.9 271.30,116.4 271.35,109.7 271.40,112.8 271.45,112.9 271.50,112.5 271.55,115.5 271.60,112.8 271.65,107.9 271.70,112.6 271.75,106.5 271.80,116.4 271.85,115.1 271.90,114.8 271.95,111.4 272.00,113.6 272.05,105.2 272.10,110.1 272.15,112.6 272.20,104.9 272.25,112.7 272.30,110.9 272.35,113.1 272.40,110.4 272.45,116.5 272.50,112.0 272.55,116.0 272.60,115.1 272.65,108.4 272.70,105.7 272.75,111.3 272.80,113.3 272.85,113.5 272.90,110.9 272.95,119.4 273.00,112.2 273.05,117.2 273.10,107.2 273.15,114.1 273.20,112.2 273.25,116.0 273.30,120.6 273.35,110.6 273.40,110.9 273.45,112.4 273.50,111.8 273.55,112.7 273.60,113.0 273.65,111.0 273.70,112.9 273.75,112.2 273.80,117.1 273.85,111.1 273.90,115.5 273.95,114.9 274.00,113.5 274.05,116.5 274.10,107.1 274.15,114.3 274.20,110.7 274.25,105.8 274.30,111.9 274.35,114.1 274.40,106.8 274.45,114.0 274.50,109.9 274.55,110.4 274.60,117.9 274.65,116.8 274.70,109.9 274.75,114.4 274.80,110.3 274.85,119.0 274.90,116.6 274.95,115.4 275.00,117.7 275.05,113.9 275.10,113.4 275.15,115.7 275.20,115.8 275.25,118.5 275.30,112.1 275.35,119.0 275.40,113.6 275.45,116.6 275.50,114.5 275.55,107.7 275.60,112.9 275.65,112.8 275.70,112.2 275.75,121.3 275.80,112.2 275.85,115.2 275.90,115.6 275.95,112.1 276.00,108.9 276.05,110.5 276.10,118.3 276.15,111.1 276.20,114.5 276.25,114.4 276.30,110.0 276.35,116.0 276.40,115.1 276.45,109.3 276.50,110.4 276.55,112.1 276.60,116.8 276.65,111.2 276.70,107.2 276.75,119.0 276.80,110.1 276.85,111.6 276.90,111.5 276.95,107.1 277.00,117.6 277.05,116.6 277.10,116.9 277.15,114.3 277.20,123.7 277.25,109.1 277.30,113.8 277.35,112.5 277.40,106.0 277.45,110.8 277.50,112.6 277.55,112.9 277.60,112.2 277.65,113.2 277.70,113.9 277.75,112.5 277.80,117.4 277.85,113.1 277.90,117.7 277.95,118.0 278.00,113.9 278.05,110.6 278.10,114.7 278.15,117.6 278.20,106.1 278.25,112.3 278.30,121.0 278.35,112.6 278.40,110.9 278.45,110.8 278.50,111.3 278.55,111.6 278.60,109.0 278.65,113.6 278.70,113.2 278.75,108.7 278.80,117.1 278.85,116.6 278.90,111.4 278.95,112.2 279.00,114.4 279.05,113.2 279.10,114.9 279.15,116.6 279.20,118.2 279.25,116.5 279.30,112.6 279.35,112.0 279.40,108.2 279.45,113.5 279.50,118.3 279.55,115.0 279.60,111.0 279.65,114.1 279.70,111.8 279.75,113.3 279.80,111.0 279.85,118.3 279.90,106.1 279.95,109.6 280.00,114.9 280.05,106.0 280.10,111.5 280.15,108.8 280.20,114.0 280.25,112.9 280.30,112.6 280.35,112.9 280.40,112.2 280.45,119.1 280.50,111.9 280.55,109.6 280.60,113.2 280.65,108.1 280.70,109.5 280.75,116.2 280.80,113.6 280.85,112.7 280.90,116.6 280.95,110.1 281.00,107.1 281.05,116.4 281.10,112.2 281.15,120.9 281.20,108.0 281.25,113.3 281.30,111.3 281.35,113.9 281.40,112.9 281.45,112.0 281.50,118.1 281.55,116.7 281.60,114.4 281.65,115.4 281.70,114.3 281.75,107.6 281.80,110.6 281.85,114.4 281.90,113.9 281.95,118.9 282.00,110.9 282.05,112.9 282.10,113.5 282.15,114.1 282.20,117.4 282.25,110.6 282.30,116.7 282.35,114.7 282.40,108.7 282.45,109.2 282.50,113.1 282.55,119.1 282.60,114.6 282.65,115.4 282.70,114.5 282.75,116.9 282.80,111.4 282.85,108.3 282.90,116.2 282.95,112.1 283.00,117.6 283.05,113.2 283.10,108.8 283.15,112.2 283.20,108.7 283.25,112.6 283.30,113.9 283.35,108.7 283.40,112.5 283.45,116.1 283.50,113.5 283.55,114.5 283.60,114.7 283.65,111.3 283.70,114.1 283.75,113.7 283.80,111.8 283.85,119.7 283.90,119.3 283.95,118.4 284.00,114.0 284.05,109.3 284.10,116.7 284.15,112.1 284.20,116.8 284.25,113.1 284.30,112.2 284.35,108.3 284.40,115.4 284.45,116.4 284.50,116.6 284.55,117.6 284.60,109.3 284.65,115.2 284.70,117.5 284.75,118.2 284.80,109.6 284.85,115.7 284.90,118.2 284.95,117.1 285.00,112.0 285.05,118.0 285.10,115.9 285.15,119.7 285.20,112.9 285.25,115.6 285.30,115.2 285.35,117.4 285.40,110.7 285.45,115.0 285.50,111.1 285.55,114.6 285.60,113.5 285.65,115.2 285.70,117.9 285.75,116.6 285.80,117.0 285.85,116.9 285.90,115.1 285.95,113.5 286.00,116.6 286.05,110.0 286.10,116.3 286.15,113.9 286.20,113.2 286.25,115.7 286.30,115.7 286.35,111.9 286.40,115.2 286.45,117.0 286.50,113.0 286.55,117.4 286.60,110.6 286.65,112.3 286.70,117.3 286.75,114.1 286.80,113.2 286.85,116.4 286.90,117.2 286.95,114.6 287.00,115.9 287.05,114.9 287.10,112.9 287.15,115.4 287.20,113.7 287.25,108.0 287.30,112.8 287.35,116.0 287.40,114.5 287.45,114.2 287.50,112.3 287.55,109.4 287.60,111.0 287.65,109.8 287.70,109.2 287.75,115.4 287.80,112.4 287.85,110.0 287.90,115.3 287.95,116.3 288.00,109.1 288.05,115.8 288.10,109.7 288.15,121.6 288.20,114.6 288.25,107.2 288.30,117.1 288.35,110.3 288.40,114.8 288.45,118.7 288.50,116.3 288.55,108.2 288.60,113.6 288.65,111.2 288.70,113.9 288.75,112.0 288.80,112.6 288.85,117.8 288.90,111.0 288.95,116.7 289.00,109.8 289.05,112.1 289.10,108.0 289.15,116.4 289.20,113.0 289.25,108.4 289.30,113.0 289.35,111.4 289.40,111.2 289.45,110.9 289.50,114.6 289.55,110.5 289.60,115.7 289.65,106.1 289.70,115.5 289.75,116.0 289.80,113.9 289.85,110.3 289.90,115.3 289.95,108.0 290.00,110.4 290.05,116.0 290.10,106.8 290.15,109.7 290.20,108.2 290.25,113.5 290.30,109.2 290.35,112.9 290.40,112.4 290.45,118.4 290.50,118.8 290.55,109.7 290.60,110.1 290.65,112.0 290.70,111.0 290.75,111.1 290.80,111.7 290.85,115.0 290.90,122.2 290.95,107.7 291.00,113.9 291.05,112.5 291.10,109.0 291.15,111.9 291.20,110.4 291.25,112.3 291.30,112.3 291.35,106.7 291.40,110.3 291.45,112.6 291.50,109.9 291.55,102.2 291.60,115.9 291.65,111.4 291.70,113.8 291.75,109.8 291.80,109.0 291.85,114.8 291.90,112.1 291.95,110.2 292.00,112.8 292.05,110.7 292.10,112.4 292.15,114.3 292.20,111.8 292.25,110.3 292.30,113.8 292.35,115.3 292.40,112.4 292.45,111.7 292.50,111.7 292.55,109.6 292.60,113.6 292.65,110.3 292.70,110.4 292.75,112.7 292.80,116.1 292.85,115.1 292.90,108.1 292.95,115.9 293.00,113.9 293.05,111.9 293.10,114.4 293.15,112.3 293.20,117.3 293.25,109.1 293.30,116.0 293.35,110.0 293.40,110.5 293.45,114.0 293.50,105.2 293.55,114.1 293.60,115.3 293.65,106.0 293.70,109.3 293.75,114.5 293.80,108.2 293.85,107.1 293.90,116.8 293.95,109.9 294.00,116.2 294.05,114.4 294.10,112.3 294.15,108.7 294.20,114.5 294.25,112.7 294.30,109.3 294.35,108.8 294.40,110.0 294.45,107.5 294.50,109.5 294.55,112.5 294.60,108.2 294.65,109.8 294.70,110.0 294.75,110.5 294.80,108.8 294.85,112.2 294.90,114.6 294.95,106.9 295.00,109.2 295.05,110.4 295.10,114.5 295.15,110.4 295.20,109.3 295.25,113.7 295.30,110.5 295.35,107.7 295.40,111.8 295.45,111.4 295.50,109.2 295.55,106.0 295.60,109.5 295.65,112.5 295.70,112.3 295.75,106.7 295.80,107.8 295.85,114.2 295.90,105.8 295.95,114.2 296.00,113.6 296.05,117.8 296.10,106.5 296.15,114.3 296.20,109.8 296.25,111.8 296.30,108.5 296.35,114.7 296.40,113.6 296.45,108.3 296.50,107.4 296.55,113.0 296.60,110.6 296.65,112.7 296.70,112.7 296.75,113.3 296.80,112.4 296.85,110.6 296.90,115.4 296.95,114.6 297.00,112.3 297.05,113.6 297.10,112.4 297.15,112.2 297.20,111.0 297.25,116.8 297.30,111.0 297.35,116.9 297.40,114.8 297.45,114.5 297.50,114.9 297.55,114.2 297.60,108.9 297.65,108.3 297.70,110.6 297.75,111.1 297.80,112.9 297.85,112.5 297.90,114.1 297.95,107.8 298.00,113.5 298.05,110.8 298.10,110.9 298.15,110.9 298.20,113.0 298.25,110.1 298.30,115.2 298.35,115.2 298.40,110.8 298.45,110.8 298.50,112.9 298.55,116.7 298.60,114.9 298.65,110.8 298.70,112.6 298.75,109.1 298.80,111.4 298.85,109.5 298.90,114.5 298.95,112.1 299.00,112.6 299.05,107.9 299.10,111.4 299.15,111.6 299.20,116.2 299.25,107.6 299.30,109.9 299.35,109.8 299.40,114.1 299.45,110.9 299.50,116.5 299.55,117.6 299.60,106.8 299.65,116.8 299.70,115.0 299.75,115.3 299.80,114.5 299.85,112.1 299.90,111.4 299.95,111.1 300.00,110.2 300.05,113.8 300.10,112.7 300.15,113.5 300.20,113.4 300.25,107.8 300.30,112.7 300.35,110.6 300.40,110.1 300.45,112.7 300.50,115.5 300.55,112.2 300.60,113.8 300.65,117.7 300.70,115.1 300.75,114.7 300.80,110.8 300.85,115.7 300.90,112.0 300.95,117.7 301.00,119.1 301.05,111.0 301.10,114.0 301.15,113.7 301.20,117.9 301.25,109.2 301.30,116.9 301.35,116.7 301.40,113.7 301.45,115.1 301.50,113.1 301.55,114.4 301.60,112.9 301.65,109.2 301.70,111.7 301.75,111.9 301.80,115.2 301.85,112.2 301.90,115.0 301.95,116.7 302.00,112.4 302.05,115.2 302.10,109.5 302.15,114.0 302.20,116.7 302.25,116.5 302.30,124.5 302.35,112.1 302.40,114.0 302.45,113.9 302.50,111.6 302.55,113.6 302.60,109.9 302.65,112.8 302.70,122.9 302.75,111.4 302.80,116.6 302.85,117.9 302.90,118.3 302.95,115.8 303.00,114.8 303.05,116.5 303.10,116.9 303.15,109.2 303.20,118.4 303.25,114.2 303.30,116.9 303.35,117.0 303.40,115.1 303.45,110.3 303.50,108.6 303.55,116.7 303.60,111.9 303.65,109.4 303.70,112.3 303.75,113.9 303.80,118.7 303.85,110.6 303.90,115.3 303.95,114.4 304.00,112.6 304.05,110.8 304.10,118.4 304.15,113.3 304.20,114.9 304.25,113.1 304.30,119.5 304.35,114.9 304.40,112.5 304.45,116.6 304.50,114.3 304.55,110.7 304.60,109.2 304.65,111.9 304.70,112.0 304.75,108.8 304.80,107.2 304.85,114.0 304.90,113.7 304.95,115.3 305.00,109.7 305.05,113.3 305.10,113.6 305.15,112.2 305.20,110.6 305.25,113.3 305.30,111.6 305.35,111.3 305.40,112.1 305.45,110.2 305.50,110.0 305.55,112.6 305.60,113.1 305.65,115.3 305.70,112.3 305.75,110.5 305.80,109.4 305.85,115.8 305.90,111.3 305.95,109.6 306.00,117.4 306.05,116.1 306.10,111.2 306.15,112.6 306.20,110.3 306.25,112.5 306.30,117.2 306.35,112.5 306.40,116.1 306.45,116.9 306.50,107.2 306.55,110.6 306.60,117.0 306.65,111.0 306.70,111.0 306.75,110.5 306.80,115.5 306.85,112.4 306.90,120.3 306.95,113.7 307.00,106.3 307.05,108.9 307.10,113.2 307.15,118.6 307.20,115.7 307.25,110.7 307.30,111.0 307.35,107.8 307.40,115.9 307.45,107.7 307.50,115.1 307.55,115.6 307.60,114.0 307.65,116.3 307.70,119.5 307.75,110.4 307.80,118.3 307.85,106.2 307.90,111.6 307.95,112.2 308.00,112.6 308.05,116.4 308.10,112.2 308.15,110.0 308.20,109.8 308.25,111.6 308.30,114.4 308.35,109.4 308.40,110.5 308.45,110.7 308.50,114.2 308.55,113.7 308.60,109.3 308.65,109.0 308.70,110.5 308.75,113.7 308.80,116.7 308.85,113.1 308.90,110.6 308.95,119.3 309.00,115.2 309.05,105.3 309.10,114.8 309.15,116.3 309.20,116.1 309.25,111.1 309.30,107.8 309.35,113.0 309.40,114.8 309.45,114.4 309.50,113.8 309.55,110.5 309.60,113.1 309.65,112.6 309.70,111.1 309.75,118.4 309.80,111.8 309.85,111.9 309.90,118.5 309.95,111.5 310.00,111.4 310.05,112.3 310.10,108.7 310.15,114.5 310.20,111.5 310.25,113.3 310.30,116.0 310.35,110.7 310.40,111.0 310.45,107.6 310.50,114.9 310.55,111.0 310.60,115.0 310.65,112.2 310.70,110.8 310.75,109.8 310.80,116.2 310.85,114.5 310.90,115.7 310.95,112.3 311.00,108.2 311.05,112.1 311.10,114.5 311.15,114.7 311.20,115.3 311.25,115.9 311.30,115.5 311.35,117.7 311.40,107.2 311.45,114.7 311.50,114.6 311.55,115.2 311.60,113.0 311.65,110.4 311.70,113.5 311.75,115.1 311.80,113.0 311.85,116.0 311.90,115.6 311.95,106.2 312.00,119.9 312.05,109.3 312.10,120.2 312.15,115.1 312.20,110.8 312.25,113.6 312.30,112.4 312.35,114.5 312.40,108.2 312.45,111.6 312.50,105.2 312.55,112.6 312.60,111.0 312.65,109.1 312.70,109.4 312.75,112.0 312.80,110.7 312.85,112.0 312.90,110.9 312.95,110.7 313.00,110.4 313.05,115.8 313.10,111.3 313.15,112.4 313.20,114.8 313.25,116.6 313.30,108.1 313.35,111.4 313.40,109.5 313.45,113.1 313.50,113.1 313.55,107.3 313.60,109.4 313.65,110.1 313.70,115.4 313.75,105.9 313.80,114.2 313.85,112.6 313.90,110.7 313.95,113.0 314.00,110.4 314.05,118.5 314.10,112.9 314.15,111.1 314.20,116.1 314.25,112.8 314.30,110.0 314.35,111.9 314.40,113.9 314.45,112.9 314.50,113.4 314.55,113.5 314.60,114.9 314.65,112.5 314.70,118.4 314.75,114.5 314.80,116.5 314.85,112.8 314.90,110.7 314.95,112.6 315.00,113.3 315.05,111.0 315.10,103.7 315.15,111.0 315.20,116.3 315.25,117.6 315.30,117.4 315.35,111.6 315.40,111.6 315.45,118.1 315.50,115.0 315.55,109.1 315.60,109.4 315.65,110.0 315.70,110.9 315.75,105.3 315.80,110.4 315.85,110.8 315.90,114.8 315.95,111.8 316.00,107.4 316.05,113.9 316.10,115.7 316.15,118.3 316.20,115.9 316.25,115.6 316.30,118.3 316.35,109.1 316.40,118.5 316.45,118.8 316.50,110.7 316.55,116.6 316.60,108.8 316.65,122.1 316.70,115.8 316.75,113.1 316.80,110.3 316.85,113.5 316.90,115.5 316.95,113.3 317.00,116.7 317.05,114.3 317.10,111.6 317.15,116.6 317.20,123.1 317.25,106.8 317.30,113.6 317.35,116.5 317.40,111.5 317.45,110.1 317.50,111.1 317.55,113.9 317.60,110.1 317.65,107.8 317.70,109.0 317.75,114.1 317.80,112.8 317.85,116.4 317.90,113.8 317.95,109.8 318.00,111.2 318.05,110.8 318.10,116.0 318.15,113.2 318.20,112.9 318.25,114.4 318.30,115.3 318.35,111.3 318.40,109.1 318.45,113.2 318.50,112.1 318.55,114.7 318.60,109.4 318.65,118.0 318.70,113.3 318.75,117.7 318.80,115.3 318.85,113.4 318.90,110.9 318.95,113.3 319.00,111.0 319.05,119.1 319.10,111.3 319.15,114.0 319.20,111.4 319.25,111.8 319.30,114.3 319.35,120.3 319.40,110.2 319.45,114.0 319.50,117.1 319.55,113.8 319.60,112.2 319.65,122.7 319.70,114.8 319.75,111.8 319.80,108.5 319.85,110.7 319.90,106.7 319.95,116.6 320.00,113.7 320.05,111.1 320.10,118.9 320.15,117.1 320.20,112.2 320.25,116.3 320.30,113.7 320.35,111.9 320.40,110.2 320.45,112.8 320.50,113.8 320.55,114.4 320.60,114.0 320.65,116.7 320.70,118.1 320.75,113.3 320.80,115.5 320.85,117.3 320.90,112.6 320.95,111.1 321.00,106.9 321.05,112.5 321.10,106.6 321.15,110.2 321.20,114.5 321.25,115.8 321.30,109.2 321.35,106.7 321.40,108.9 321.45,114.2 321.50,119.7 321.55,112.8 321.60,106.8 321.65,109.5 321.70,116.8 321.75,114.4 321.80,115.1 321.85,112.6 321.90,112.8 321.95,106.6 322.00,115.9 322.05,118.1 322.10,111.0 322.15,110.6 322.20,112.7 322.25,111.9 322.30,109.1 322.35,109.5 322.40,113.8 322.45,116.8 322.50,111.2 322.55,108.4 322.60,114.5 322.65,116.7 322.70,111.0 322.75,109.7 322.80,111.4 322.85,112.4 322.90,117.9 322.95,109.9 323.00,114.3 323.05,114.7 323.10,111.9 323.15,118.8 323.20,115.3 323.25,119.6 323.30,112.4 323.35,113.5 323.40,118.5 323.45,112.4 323.50,115.7 323.55,114.7 323.60,110.2 323.65,114.5 323.70,110.1 323.75,112.1 323.80,113.0 323.85,115.3 323.90,113.1 323.95,112.2 324.00,111.7 324.05,112.1 324.10,114.0 324.15,109.3 324.20,111.3 324.25,113.5 324.30,105.8 324.35,115.6 324.40,116.2 324.45,111.3 324.50,113.3 324.55,113.3 324.60,112.2 324.65,114.1 324.70,110.0 324.75,116.0 324.80,111.5 324.85,117.0 324.90,122.0 324.95,114.5 325.00,115.2 325.05,114.7 325.10,113.4 325.15,115.9 325.20,117.1 325.25,112.2 325.30,118.1 325.35,113.2 325.40,118.6 325.45,113.4 325.50,107.6 325.55,112.9 325.60,111.3 325.65,113.6 325.70,116.9 325.75,112.2 325.80,112.3 325.85,114.9 325.90,110.1 325.95,113.0 326.00,118.6 326.05,119.2 326.10,112.9 326.15,113.5 326.20,117.0 326.25,118.6 326.30,113.7 326.35,112.2 326.40,112.7 326.45,118.7 326.50,116.7 326.55,112.6 326.60,120.2 326.65,114.2 326.70,112.7 326.75,118.6 326.80,118.6 326.85,113.3 326.90,113.8 326.95,117.4 327.00,114.5 327.05,119.4 327.10,118.3 327.15,114.1 327.20,107.0 327.25,116.0 327.30,115.7 327.35,122.7 327.40,112.7 327.45,115.5 327.50,121.0 327.55,115.4 327.60,119.1 327.65,116.9 327.70,116.0 327.75,118.3 327.80,115.0 327.85,113.6 327.90,117.9 327.95,115.4 328.00,117.8 328.05,120.7 328.10,119.2 328.15,113.0 328.20,113.6 328.25,112.2 328.30,114.7 328.35,114.1 328.40,117.8 328.45,120.1 328.50,117.6 328.55,109.9 328.60,115.4 328.65,116.3 328.70,120.2 328.75,117.5 328.80,118.5 328.85,116.8 328.90,111.3 328.95,117.5 329.00,119.1 329.05,112.4 329.10,121.3 329.15,122.9 329.20,113.1 329.25,113.8 329.30,112.4 329.35,116.5 329.40,113.0 329.45,121.0 329.50,113.8 329.55,115.4 329.60,117.7 329.65,114.2 329.70,120.5 329.75,115.3 329.80,116.0 329.85,117.7 329.90,111.2 329.95,115.8 330.00,113.3 330.05,115.9 330.10,111.7 330.15,119.4 330.20,117.0 330.25,113.9 330.30,114.6 330.35,109.9 330.40,116.3 330.45,111.1 330.50,117.4 330.55,112.6 330.60,119.9 330.65,113.8 330.70,113.0 330.75,118.1 330.80,114.1 330.85,120.8 330.90,120.8 330.95,112.7 331.00,118.2 331.05,116.4 331.10,115.0 331.15,108.7 331.20,114.0 331.25,112.7 331.30,117.8 331.35,118.0 331.40,110.6 331.45,109.8 331.50,114.7 331.55,112.7 331.60,116.8 331.65,112.2 331.70,118.0 331.75,119.1 331.80,109.8 331.85,110.7 331.90,114.0 331.95,112.7 332.00,119.4 332.05,113.0 332.10,112.7 332.15,108.5 332.20,114.9 332.25,110.2 332.30,111.2 332.35,107.0 332.40,112.3 332.45,113.4 332.50,113.5 332.55,108.1 332.60,113.3 332.65,113.9 332.70,114.9 332.75,108.0 332.80,113.3 332.85,113.3 332.90,112.2 332.95,113.5 333.00,109.1 333.05,109.7 333.10,119.3 333.15,115.7 333.20,114.7 333.25,113.4 333.30,111.0 333.35,109.8 333.40,107.8 333.45,111.4 333.50,106.6 333.55,111.8 333.60,109.3 333.65,110.5 333.70,110.0 333.75,117.2 333.80,117.6 333.85,108.0 333.90,118.3 333.95,114.4 334.00,113.3 334.05,114.9 334.10,103.6 334.15,112.3 334.20,117.0 334.25,110.2 334.30,115.7 334.35,109.9 334.40,108.8 334.45,113.4 334.50,111.0 334.55,110.1 334.60,111.5 334.65,112.7 334.70,114.8 334.75,112.3 334.80,113.0 334.85,112.2 334.90,110.5 334.95,110.2 335.00,111.6 335.05,110.9 335.10,111.5 335.15,115.0 335.20,113.5 335.25,113.5 335.30,110.6 335.35,112.1 335.40,112.4 335.45,111.5 335.50,115.9 335.55,119.4 335.60,117.0 335.65,110.9 335.70,112.8 335.75,116.1 335.80,113.3 335.85,114.5 335.90,110.5 335.95,110.5 336.00,116.2 336.05,112.3 336.10,116.7 336.15,117.6 336.20,112.4 336.25,112.3 336.30,119.9 336.35,114.6 336.40,116.4 336.45,116.4 336.50,114.9 336.55,115.7 336.60,117.7 336.65,115.0 336.70,110.0 336.75,114.5 336.80,114.1 336.85,114.5 336.90,119.1 336.95,110.9 337.00,118.1 337.05,112.3 337.10,114.4 337.15,117.7 337.20,113.5 337.25,120.1 337.30,119.1 337.35,115.0 337.40,114.9 337.45,114.6 337.50,107.9 337.55,113.4 337.60,113.6 337.65,116.1 337.70,117.7 337.75,105.4 337.80,113.1 337.85,117.7 337.90,117.5 337.95,120.1 338.00,113.8 338.05,111.6 338.10,115.4 338.15,117.1 338.20,112.1 338.25,112.5 338.30,111.5 338.35,117.1 338.40,111.5 338.45,115.5 338.50,115.1 338.55,114.3 338.60,116.3 338.65,115.0 338.70,111.0 338.75,112.1 338.80,116.0 338.85,120.3 338.90,117.2 338.95,115.0 339.00,115.6 339.05,112.1 339.10,119.2 339.15,118.2 339.20,107.9 339.25,116.9 339.30,109.1 339.35,114.5 339.40,118.4 339.45,112.1 339.50,114.8 339.55,113.8 339.60,104.3 339.65,120.9 339.70,116.2 339.75,106.3 339.80,118.9 339.85,112.1 339.90,112.5 339.95,112.5 340.00,117.2 340.05,115.7 340.10,111.1 340.15,113.8 340.20,110.5 340.25,117.6 340.30,114.9 340.35,116.8 340.40,109.8 340.45,113.9 340.50,119.5 340.55,112.1 340.60,113.4 340.65,112.0 340.70,111.5 340.75,114.0 340.80,113.0 340.85,110.9 340.90,111.0 340.95,115.1 341.00,118.0 341.05,114.7 341.10,115.0 341.15,111.4 341.20,112.3 341.25,110.8 341.30,113.4 341.35,113.4 341.40,117.1 341.45,117.4 341.50,111.8 341.55,115.6 341.60,112.7 341.65,109.5 341.70,111.2 341.75,114.1 341.80,113.9 341.85,115.1 341.90,110.6 341.95,112.2 342.00,107.2 342.05,115.7 342.10,123.5 342.15,113.9 342.20,106.1 342.25,112.8 342.30,112.6 342.35,115.2 342.40,114.5 342.45,117.4 342.50,116.4 342.55,114.0 342.60,110.5 342.65,110.6 342.70,113.0 342.75,111.1 342.80,115.9 342.85,114.7 342.90,114.8 342.95,104.6 343.00,109.4 343.05,115.9 343.10,112.7 343.15,112.7 343.20,115.0 343.25,110.5 343.30,110.4 343.35,111.3 343.40,108.7 343.45,111.7 343.50,106.3 343.55,117.2 343.60,118.1 343.65,115.0 343.70,113.4 343.75,106.7 343.80,119.4 343.85,115.0 343.90,110.6 343.95,110.3 344.00,113.7 344.05,110.6 344.10,114.5 344.15,116.2 344.20,109.2 344.25,108.5 344.30,111.2 344.35,116.4 344.40,114.2 344.45,113.9 344.50,112.9 344.55,117.3 344.60,110.5 344.65,117.8 344.70,111.3 344.75,112.4 344.80,115.0 344.85,118.0 344.90,114.5 344.95,109.8 345.00,114.2 345.05,108.9 345.10,116.8 345.15,114.5 345.20,113.9 345.25,116.0 345.30,110.6 345.35,108.3 345.40,113.2 345.45,113.1 345.50,108.2 345.55,114.9 345.60,117.5 345.65,119.4 345.70,116.7 345.75,114.7 345.80,106.3 345.85,107.0 345.90,117.6 345.95,119.5 346.00,112.7 346.05,115.3 346.10,116.8 346.15,116.1" fill="none" stroke="#f1909a" stroke-width="0.6" stroke-linejoin="round"/>
<line x1="70" y1="228.6" x2="70" y2="218" stroke="#111" stroke-width="1.25"/>
<line x1="120.6" y1="228.6" x2="120.6" y2="198.7" stroke="#111" stroke-width="1.25"/>
<line x1="126.7" y1="228.6" x2="126.7" y2="216.4" stroke="#111" stroke-width="1.25"/>
<line x1="139.3" y1="228.6" x2="139.3" y2="187.4" stroke="#111" stroke-width="1.25"/>
<line x1="150.2" y1="228.6" x2="150.2" y2="154" stroke="#111" stroke-width="1.25"/>
<line x1="167.9" y1="228.6" x2="167.9" y2="210" stroke="#111" stroke-width="1.25"/>
<line x1="187.5" y1="228.6" x2="187.5" y2="202.2" stroke="#111" stroke-width="1.25"/>
<line x1="220.4" y1="228.6" x2="220.4" y2="226.7" stroke="#111" stroke-width="1.25"/>
<line x1="227.4" y1="228.6" x2="227.4" y2="217.9" stroke="#111" stroke-width="1.25"/>
<line x1="231.7" y1="228.6" x2="231.7" y2="219.6" stroke="#111" stroke-width="1.25"/>
<line x1="243.3" y1="228.6" x2="243.3" y2="223.9" stroke="#111" stroke-width="1.25"/>
<line x1="251" y1="228.6" x2="251" y2="206.1" stroke="#111" stroke-width="1.25"/>
<line x1="263.3" y1="228.6" x2="263.3" y2="206.1" stroke="#111" stroke-width="1.25"/>
<line x1="278.1" y1="228.6" x2="278.1" y2="217.9" stroke="#111" stroke-width="1.25"/>
<line x1="323.8" y1="228.6" x2="323.8" y2="222" stroke="#111" stroke-width="1.25"/>
<rect x="32.1" y="12.9" width="314.59999999999997" height="215.7" fill="none" stroke="#111" stroke-width="1.8"/>
<line x1="32.10" y1="228.6" x2="32.10" y2="232.9" stroke="#111" stroke-width="1.5"/>
<text x="32.10" y="247.9" font-size="15.3" font-weight="bold" text-anchor="middle" font-family="Liberation Sans">10</text>
<line x1="54.57" y1="228.6" x2="54.57" y2="230.79999999999998" stroke="#111" stroke-width="1.5"/>
<line x1="77.04" y1="228.6" x2="77.04" y2="232.9" stroke="#111" stroke-width="1.5"/>
<text x="77.04" y="247.9" font-size="15.3" font-weight="bold" text-anchor="middle" font-family="Liberation Sans">20</text>
<line x1="99.51" y1="228.6" x2="99.51" y2="230.79999999999998" stroke="#111" stroke-width="1.5"/>
<line x1="121.99" y1="228.6" x2="121.99" y2="232.9" stroke="#111" stroke-width="1.5"/>
<text x="121.99" y="247.9" font-size="15.3" font-weight="bold" text-anchor="middle" font-family="Liberation Sans">30</text>
<line x1="144.46" y1="228.6" x2="144.46" y2="230.79999999999998" stroke="#111" stroke-width="1.5"/>
<line x1="166.93" y1="228.6" x2="166.93" y2="232.9" stroke="#111" stroke-width="1.5"/>
<text x="166.93" y="247.9" font-size="15.3" font-weight="bold" text-anchor="middle" font-family="Liberation Sans">40</text>
<line x1="189.40" y1="228.6" x2="189.40" y2="230.79999999999998" stroke="#111" stroke-width="1.5"/>
<line x1="211.87" y1="228.6" x2="211.87" y2="232.9" stroke="#111" stroke-width="1.5"/>
<text x="211.87" y="247.9" font-size="15.3" font-weight="bold" text-anchor="middle" font-family="Liberation Sans">50</text>
<line x1="234.34" y1="228.6" x2="234.34" y2="230.79999999999998" stroke="#111" stroke-width="1.5"/>
<line x1="256.81" y1="228.6" x2="256.81" y2="232.9" stroke="#111" stroke-width="1.5"/>
<text x="256.81" y="247.9" font-size="15.3" font-weight="bold" text-anchor="middle" font-family="Liberation Sans">60</text>
<line x1="279.29" y1="228.6" x2="279.29" y2="230.79999999999998" stroke="#111" stroke-width="1.5"/>
<line x1="301.76" y1="228.6" x2="301.76" y2="232.9" stroke="#111" stroke-width="1.5"/>
<text x="301.76" y="247.9" font-size="15.3" font-weight="bold" text-anchor="middle" font-family="Liberation Sans">70</text>
<line x1="324.23" y1="228.6" x2="324.23" y2="230.79999999999998" stroke="#111" stroke-width="1.5"/>
<line x1="346.70" y1="228.6" x2="346.70" y2="232.9" stroke="#111" stroke-width="1.5"/>
<text x="346.70" y="247.9" font-size="15.3" font-weight="bold" text-anchor="middle" font-family="Liberation Sans">80</text>
<text x="141.6" y="272.8" font-size="19.2" font-weight="bold" font-family="Liberation Sans">2</text>
<text transform="translate(154.0,272.6) scale(1.08,1)" font-size="20" font-family="Liberation Serif" stroke="#000" stroke-width="0.35">θ</text>
<text x="169.3" y="272.8" font-size="19.7" font-weight="bold" font-family="Liberation Serif">(degree)</text>
<text transform="translate(16.3,187.6) rotate(-90)" font-size="20" font-weight="bold" font-family="Liberation Sans">Intensity (a.u.)</text>
<text transform="translate(68.60,103.40) rotate(-90)" font-size="13.4" font-weight="bold" font-family="Liberation Sans">(111)</text>
<text transform="translate(139.00,100.30) rotate(-90)" font-size="13.4" font-weight="bold" font-family="Liberation Sans">(113)</text>
<text transform="translate(156.10,97.50) rotate(-90)" font-size="13.4" font-weight="bold" font-family="Liberation Sans">(311)</text>
<text transform="translate(170.70,96.00) rotate(-90)" font-size="13.4" font-weight="bold" font-family="Liberation Sans">(004)</text>
<text x="343.3" y="38" font-size="14.0" font-weight="bold" font-family="Liberation Sans" fill="#6d96d3" text-anchor="end">CoMn<tspan font-size="10.4" dy="3.8">2</tspan><tspan dy="-3.8">O</tspan><tspan font-size="10.4" dy="3.8">4</tspan><tspan dy="-3.8"></tspan></text>
<text x="344.2" y="141.4" font-size="14.0" font-weight="bold" font-family="Liberation Sans" fill="#f1909a" text-anchor="end">CoMn<tspan font-size="10.4" dy="3.8">2</tspan><tspan dy="-3.8">O</tspan><tspan font-size="10.4" dy="3.8">4</tspan><tspan dy="-3.8">-S</tspan></text>
<text x="342.5" y="174" font-size="14" font-weight="bold" text-anchor="end" font-family="Liberation Sans">JCPDS 18-0410</text>
<text x="342.4" y="190.9" font-size="13.8" font-weight="bold" font-family="Liberation Sans" fill="#000" text-anchor="end">CoMn<tspan font-size="10.2" dy="5.0">2</tspan><tspan dy="-5.0">O</tspan><tspan font-size="10.2" dy="5.0">4</tspan><tspan dy="-5.0"></tspan></text>
<text x="367.8" y="20.9" font-size="27" font-family="Liberation Sans" fill="#000">b</text>
<polyline points="401.5,120.91 402.0,121.31 402.5,121.27 403.0,120.75 403.5,120.81 404.0,120.74 404.5,121.07 405.0,120.88 405.5,121.12 406.0,120.35 406.5,121.37 407.0,120.87 407.5,121.10 408.0,120.86 408.5,120.79 409.0,121.04 409.5,121.15 410.0,120.84 410.5,120.85 411.0,121.11 411.5,120.64 412.0,120.45 412.5,121.02 413.0,120.70 413.5,120.32 414.0,120.66 414.5,120.76 415.0,120.54 415.5,120.45 416.0,120.91 416.5,121.17 417.0,120.83 417.5,120.68 418.0,121.02 418.5,121.12 419.0,120.81 419.5,121.06 420.0,121.21 420.5,120.84 421.0,120.66 421.5,121.00 422.0,120.97 422.5,121.23 423.0,120.51 423.5,120.70 424.0,120.65 424.5,120.38 425.0,120.94 425.5,121.06 426.0,120.68 426.5,121.32 427.0,121.15 427.5,121.09 428.0,121.02 428.5,121.19 429.0,120.50 429.5,121.08 430.0,121.08 430.5,120.37 431.0,121.00 431.5,120.82 432.0,121.13 432.5,120.77 433.0,120.89 433.5,121.00 434.0,120.64 434.5,121.08 435.0,120.87 435.5,121.05 436.0,120.74 436.5,121.23 437.0,121.08 437.5,120.85 438.0,121.09 438.5,121.28 439.0,121.44 439.5,120.43 440.0,121.16 440.5,121.04 441.0,120.87 441.5,120.60 442.0,121.28 442.5,120.52 443.0,121.07 443.5,121.29 444.0,120.42 444.5,120.81 445.0,120.51 445.5,120.97 446.0,121.35 446.5,121.51 447.0,120.37 447.5,120.73 448.0,121.11 448.5,121.37 449.0,121.03 449.5,120.68 450.0,120.99 450.5,120.90 451.0,120.84 451.5,120.68 452.0,121.02 452.5,120.99 453.0,120.87 453.5,120.83 454.0,120.51 454.5,120.75 455.0,121.26 455.5,120.84 456.0,120.47 456.5,121.30 457.0,121.06 457.5,121.53 458.0,120.92 458.5,120.76 459.0,120.47 459.5,121.30 460.0,121.67 460.5,120.65 461.0,120.71 461.5,121.08 462.0,120.65 462.5,120.82 463.0,120.80 463.5,120.96 464.0,121.23 464.5,120.91 465.0,121.18 465.5,120.77 466.0,121.00 466.5,120.26 467.0,120.47 467.5,121.14 468.0,120.72 468.5,121.07 469.0,121.06 469.5,121.30 470.0,121.14 470.5,121.21 471.0,120.87 471.5,120.69 472.0,120.68 472.5,120.75 473.0,120.56 473.5,120.74 474.0,120.87 474.5,120.98 475.0,120.80 475.5,120.32 476.0,120.88 476.5,120.97 477.0,121.23 477.5,121.07 478.0,120.71 478.5,120.68 479.0,121.50 479.5,121.13 480.0,121.45 480.5,121.54 481.0,120.65 481.5,121.02 482.0,121.04 482.5,121.07 483.0,121.06 483.5,120.96 484.0,120.95 484.5,120.45 485.0,120.85 485.5,120.68 486.0,120.94 486.5,120.76 487.0,121.09 487.5,121.15 488.0,120.99 488.5,120.99 489.0,120.93 489.5,120.77 490.0,120.85 490.5,120.75 491.0,121.02 491.5,120.90 492.0,121.07 492.5,120.50 493.0,121.17 493.5,120.67 494.0,120.68 494.5,120.84 495.0,120.73 495.5,120.99 496.0,120.73 496.5,120.58 497.0,120.65 497.5,121.29 498.0,120.91 498.5,120.55 499.0,120.90 499.5,120.43 500.0,121.44 500.5,120.44 501.0,121.04 501.5,121.06 502.0,120.46 502.5,120.99 503.0,121.20 503.5,121.04 504.0,120.98 504.5,121.18 505.0,120.95 505.5,121.00 506.0,120.86 506.5,121.09 507.0,120.62 507.5,121.14 508.0,120.75 508.5,120.57 509.0,121.01 509.5,121.41 510.0,121.19 510.5,120.75 511.0,121.11 511.5,120.76 512.0,120.86 512.5,120.93 513.0,120.20 513.5,120.96 514.0,120.59 514.5,120.69 515.0,120.46 515.5,120.45 516.0,120.62 516.5,121.15 517.0,121.40 517.5,120.89 518.0,121.23 518.5,120.82 519.0,120.33 519.5,120.94 520.0,121.03 520.5,120.77 521.0,120.99 521.5,121.07 522.0,120.64 522.5,120.46 523.0,120.83 523.5,120.84 524.0,120.79 524.5,121.20 525.0,121.42 525.5,120.78 526.0,121.11 526.5,121.18 527.0,121.11 527.5,121.21 528.0,120.78 528.5,121.12 529.0,121.51 529.5,121.14 530.0,120.71 530.5,121.08 531.0,121.28 531.5,121.01 532.0,120.73 532.5,121.36 533.0,120.53 533.5,121.05 534.0,120.90 534.5,120.54 535.0,121.27 535.5,121.00 536.0,120.55 536.5,121.08 537.0,120.77 537.5,120.33 538.0,120.69 538.5,120.98 539.0,121.09 539.5,120.95 540.0,120.91 540.5,121.04 541.0,120.84 541.5,121.25 542.0,120.94 542.5,120.99 543.0,121.06 543.5,120.58 544.0,120.69 544.5,121.36 545.0,121.00 545.5,120.82 546.0,121.00 546.5,120.76 547.0,120.98 547.5,120.70 548.0,120.98 548.5,120.43 549.0,121.30 549.5,120.75 550.0,120.43 550.5,120.83 551.0,120.79 551.5,120.95 552.0,120.56 552.5,121.02 553.0,121.99 553.5,120.52 554.0,121.00 554.5,120.81 555.0,120.96 555.5,120.36 556.0,120.55 556.5,121.04 557.0,120.89 557.5,121.39 558.0,120.69 558.5,120.95 559.0,121.77 559.5,120.67 560.0,120.63 560.5,120.89 561.0,120.89 561.5,121.15 562.0,120.94 562.5,120.67 563.0,120.96 563.5,121.69 564.0,121.28 564.5,120.07 565.0,120.86 565.5,120.64 566.0,121.09 566.5,120.85 567.0,121.48 567.5,121.18 568.0,121.17 568.5,120.96 569.0,120.89 569.5,121.00 570.0,121.29 570.5,121.06 571.0,120.79 571.5,121.28 572.0,120.96 572.5,120.88 573.0,120.66 573.5,120.73 574.0,120.71 574.5,120.06 575.0,121.21 575.5,121.07 576.0,120.84 576.5,121.21 577.0,121.03 577.5,121.01 578.0,120.16 578.5,120.83 579.0,121.06 579.5,121.38 580.0,121.45 580.5,121.33 581.0,120.55 581.5,120.24 582.0,121.07 582.5,120.91 583.0,121.19 583.5,120.86 584.0,120.97 584.5,120.45 585.0,121.03 585.5,120.77 586.0,121.00 586.5,121.04 587.0,120.86 587.5,121.00 588.0,120.90 588.5,121.13 589.0,121.05 589.5,120.74 590.0,120.72 590.5,121.42 591.0,120.87 591.5,121.20 592.0,121.02 592.5,120.73 593.0,120.68 593.5,120.94 594.0,120.98 594.5,121.08 595.0,120.52 595.5,120.72 596.0,120.87 596.5,121.38 597.0,120.19 597.5,121.03 598.0,120.74 598.5,121.03 599.0,120.75 599.5,121.01 600.0,121.37 600.5,121.01 601.0,121.03 601.5,121.01 602.0,120.67 602.5,121.06 603.0,120.84 603.5,120.66 604.0,120.89 604.5,120.83 605.0,121.13 605.5,120.89 606.0,120.74 606.5,121.34 607.0,121.20 607.5,121.28 608.0,121.08 608.5,120.87 609.0,120.77 609.5,120.82 610.0,121.18 610.5,120.93 611.0,120.46 611.5,120.89 612.0,120.48 612.5,120.95 613.0,120.54 613.5,120.52 614.0,120.94 614.5,120.88 615.0,120.40 615.5,121.12 616.0,121.55 616.5,120.46 617.0,121.45 617.5,120.69 618.0,120.75 618.5,120.85 619.0,120.47 619.5,121.29 620.0,121.05 620.5,120.67 621.0,120.82 621.5,120.45 622.0,120.80 622.5,121.18 623.0,120.39 623.5,120.77 624.0,120.94 624.5,121.21 625.0,121.30 625.5,120.76 626.0,120.68 626.5,121.04 627.0,120.79 627.5,120.81 628.0,121.22 628.5,121.41 629.0,120.98 629.5,120.84 630.0,121.07 630.5,120.33 631.0,120.89 631.5,120.58 632.0,121.62 632.5,121.12 633.0,120.94 633.5,120.84 634.0,120.15 634.5,121.11 635.0,121.39 635.5,120.68 636.0,121.11 636.5,121.12 637.0,120.44 637.5,121.18 638.0,121.31 638.5,120.97 639.0,120.88 639.5,121.14 640.0,120.44 640.5,120.93 641.0,121.22 641.5,120.53 642.0,121.20 642.5,120.77 643.0,120.28 643.5,120.87 644.0,120.61 644.5,121.00 645.0,120.55 645.5,121.22 646.0,120.68 646.5,121.01 647.0,120.72 647.5,120.80 648.0,121.26 648.5,120.96 649.0,120.78 649.5,120.52 650.0,121.25 650.5,121.12 651.0,120.80 651.5,120.97 652.0,120.59 652.5,120.60 653.0,120.65 653.5,121.01 654.0,120.99 654.5,120.68 655.0,121.12 655.5,121.14 656.0,120.95 656.5,121.21 657.0,120.81 657.5,120.87 658.0,121.04 658.5,120.89 659.0,121.14 659.5,120.52 660.0,121.33 660.5,120.67 661.0,120.85 661.5,120.49 662.0,121.08 662.5,121.28 663.0,121.22 663.5,121.15 664.0,120.43 664.5,120.67 665.0,120.76 665.5,120.62 666.0,121.24 666.5,120.96 667.0,120.89 667.5,121.05 668.0,120.61 668.5,120.63 669.0,120.64 669.5,121.05" fill="none" stroke="#7b74c4" stroke-width="1.7"/>
<polyline points="401.5,119.40 402.0,119.40 402.5,119.40 403.0,119.40 403.5,119.40 404.0,119.40 404.5,119.40 405.0,119.40 405.5,119.40 406.0,119.40 406.5,119.40 407.0,119.40 407.5,119.40 408.0,119.40 408.5,119.40 409.0,119.40 409.5,119.40 410.0,119.40 410.5,119.40 411.0,119.40 411.5,119.40 412.0,119.40 412.5,119.40 413.0,119.40 413.5,119.40 414.0,119.40 414.5,119.40 415.0,119.40 415.5,119.40 416.0,119.40 416.5,119.40 417.0,119.40 417.5,119.40 418.0,119.40 418.5,119.40 419.0,119.40 419.5,119.40 420.0,119.40 420.5,119.40 421.0,119.40 421.5,119.40 422.0,119.40 422.5,119.40 423.0,119.40 423.5,119.40 424.0,119.40 424.5,119.40 425.0,119.40 425.5,119.40 426.0,119.40 426.5,119.40 427.0,119.40 427.5,119.40 428.0,119.40 428.5,119.40 429.0,119.40 429.5,119.40 430.0,119.40 430.5,119.40 431.0,119.40 431.5,119.40 432.0,119.40 432.5,119.40 433.0,119.40 433.5,119.40 434.0,119.40 434.5,119.40 435.0,119.40 435.5,119.40 436.0,119.40 436.5,119.40 437.0,119.40 437.5,119.40 438.0,119.40 438.5,119.40 439.0,119.40 439.5,119.40 440.0,119.40 440.5,119.40 441.0,119.40 441.5,119.40 442.0,119.39 442.5,119.39 443.0,119.39 443.5,119.39 444.0,119.39 444.5,119.39 445.0,119.39 445.5,119.39 446.0,119.39 446.5,119.38 447.0,119.38 447.5,119.38 448.0,119.38 448.5,119.37 449.0,119.37 449.5,119.37 450.0,119.36 450.5,119.36 451.0,119.35 451.5,119.35 452.0,119.34 452.5,119.33 453.0,119.33 453.5,119.32 454.0,119.31 454.5,119.30 455.0,119.29 455.5,119.27 456.0,119.26 456.5,119.24 457.0,119.23 457.5,119.21 458.0,119.18 458.5,119.16 459.0,119.13 459.5,119.11 460.0,119.07 460.5,119.04 461.0,119.00 461.5,118.96 462.0,118.92 462.5,118.87 463.0,118.81 463.5,118.75 464.0,118.69 464.5,118.62 465.0,118.54 465.5,118.46 466.0,118.37 466.5,118.27 467.0,118.17 467.5,118.05 468.0,117.93 468.5,117.79 469.0,117.65 469.5,117.49 470.0,117.32 470.5,117.14 471.0,116.94 471.5,116.73 472.0,116.51 472.5,116.27 473.0,116.01 473.5,115.73 474.0,115.43 474.5,115.11 475.0,114.78 475.5,114.41 476.0,114.03 476.5,113.62 477.0,113.18 477.5,112.72 478.0,112.23 478.5,111.71 479.0,111.16 479.5,110.58 480.0,109.96 480.5,109.31 481.0,108.63 481.5,107.91 482.0,107.15 482.5,106.35 483.0,105.52 483.5,104.64 484.0,103.72 484.5,102.76 485.0,101.76 485.5,100.72 486.0,99.63 486.5,98.49 487.0,97.31 487.5,96.09 488.0,94.82 488.5,93.51 489.0,92.15 489.5,90.75 490.0,89.30 490.5,87.81 491.0,86.28 491.5,84.71 492.0,83.09 492.5,81.44 493.0,79.75 493.5,78.02 494.0,76.27 494.5,74.48 495.0,72.66 495.5,70.82 496.0,68.95 496.5,67.07 497.0,65.17 497.5,63.26 498.0,61.35 498.5,59.42 499.0,57.50 499.5,55.59 500.0,53.69 500.5,51.80 501.0,49.93 501.5,48.09 502.0,46.28 502.5,44.50 503.0,42.78 503.5,41.10 504.0,39.47 504.5,37.91 505.0,36.41 505.5,34.99 506.0,33.65 506.5,32.40 507.0,31.23 507.5,30.17 508.0,29.21 508.5,28.36 509.0,27.63 509.5,27.02 510.0,26.54 510.5,26.19 511.0,25.97 511.5,25.90 512.0,25.97 512.5,26.20 513.0,26.57 513.5,27.11 514.0,27.80 514.5,28.65 515.0,29.67 515.5,30.85 516.0,32.20 516.5,33.71 517.0,35.39 517.5,37.24 518.0,39.24 518.5,41.41 519.0,43.75 519.5,46.23 520.0,48.87 520.5,51.66 521.0,54.60 521.5,57.68 522.0,60.89 522.5,64.23 523.0,67.70 523.5,71.28 524.0,74.96 524.5,78.75 525.0,82.63 525.5,86.60 526.0,90.64 526.5,94.75 527.0,98.92 527.5,103.13 528.0,107.38 528.5,111.66 529.0,115.96 529.5,120.26 530.0,124.56 530.5,128.86 531.0,133.12 531.5,137.36 532.0,141.56 532.5,145.70 533.0,149.78 533.5,153.80 534.0,157.73 534.5,161.57 535.0,165.32 535.5,168.97 536.0,172.50 536.5,175.92 537.0,179.21 537.5,182.37 538.0,185.39 538.5,188.27 539.0,191.00 539.5,193.58 540.0,196.01 540.5,198.27 541.0,200.38 541.5,202.32 542.0,204.10 542.5,205.71 543.0,207.16 543.5,208.44 544.0,209.56 544.5,210.51 545.0,211.30 545.5,211.93 546.0,212.40 546.5,212.71 547.0,212.87 547.5,212.89 548.0,212.76 548.5,212.49 549.0,212.09 549.5,211.55 550.0,210.89 550.5,210.11 551.0,209.22 551.5,208.22 552.0,207.11 552.5,205.91 553.0,204.62 553.5,203.25 554.0,201.80 554.5,200.27 555.0,198.69 555.5,197.04 556.0,195.34 556.5,193.59 557.0,191.80 557.5,189.98 558.0,188.13 558.5,186.25 559.0,184.35 559.5,182.45 560.0,180.53 560.5,178.61 561.0,176.69 561.5,174.77 562.0,172.87 562.5,170.97 563.0,169.10 563.5,167.24 564.0,165.41 564.5,163.60 565.0,161.83 565.5,160.08 566.0,158.37 566.5,156.70 567.0,155.06 567.5,153.46 568.0,151.90 568.5,150.39 569.0,148.91 569.5,147.49 570.0,146.10 570.5,144.76 571.0,143.46 571.5,142.21 572.0,141.01 572.5,139.85 573.0,138.73 573.5,137.66 574.0,136.63 574.5,135.65 575.0,134.71 575.5,133.81 576.0,132.95 576.5,132.13 577.0,131.34 577.5,130.60 578.0,129.90 578.5,129.23 579.0,128.59 579.5,127.99 580.0,127.42 580.5,126.88 581.0,126.37 581.5,125.89 582.0,125.44 582.5,125.01 583.0,124.61 583.5,124.24 584.0,123.89 584.5,123.56 585.0,123.25 585.5,122.96 586.0,122.69 586.5,122.43 587.0,122.20 587.5,121.98 588.0,121.78 588.5,121.59 589.0,121.41 589.5,121.25 590.0,121.09 590.5,120.95 591.0,120.82 591.5,120.70 592.0,120.59 592.5,120.49 593.0,120.39 593.5,120.31 594.0,120.23 594.5,120.15 595.0,120.08 595.5,120.02 596.0,119.97 596.5,119.91 597.0,119.87 597.5,119.82 598.0,119.78 598.5,119.75 599.0,119.71 599.5,119.68 600.0,119.65 600.5,119.63 601.0,119.61 601.5,119.59 602.0,119.57 602.5,119.55 603.0,119.54 603.5,119.52 604.0,119.51 604.5,119.50 605.0,119.49 605.5,119.48 606.0,119.47 606.5,119.46 607.0,119.46 607.5,119.45 608.0,119.44 608.5,119.44 609.0,119.43 609.5,119.43 610.0,119.43 610.5,119.42 611.0,119.42 611.5,119.42 612.0,119.42 612.5,119.41 613.0,119.41 613.5,119.41 614.0,119.41 614.5,119.41 615.0,119.41 615.5,119.41 616.0,119.41 616.5,119.41 617.0,119.40 617.5,119.40 618.0,119.40 618.5,119.40 619.0,119.40 619.5,119.40 620.0,119.40 620.5,119.40 621.0,119.40 621.5,119.40 622.0,119.40 622.5,119.40 623.0,119.40 623.5,119.40 624.0,119.40 624.5,119.40 625.0,119.40 625.5,119.40 626.0,119.40 626.5,119.40 627.0,119.40 627.5,119.40 628.0,119.40 628.5,119.40 629.0,119.40 629.5,119.40 630.0,119.40 630.5,119.40 631.0,119.40 631.5,119.40 632.0,119.40 632.5,119.40 633.0,119.40 633.5,119.40 634.0,119.40 634.5,119.40 635.0,119.40 635.5,119.40 636.0,119.40 636.5,119.40 637.0,119.40 637.5,119.40 638.0,119.40 638.5,119.40 639.0,119.40 639.5,119.40 640.0,119.40 640.5,119.40 641.0,119.40 641.5,119.40 642.0,119.40 642.5,119.40 643.0,119.40 643.5,119.40 644.0,119.40 644.5,119.40 645.0,119.40 645.5,119.40 646.0,119.40 646.5,119.40 647.0,119.40 647.5,119.40 648.0,119.40 648.5,119.40 649.0,119.40 649.5,119.40 650.0,119.40 650.5,119.40 651.0,119.40 651.5,119.40 652.0,119.40 652.5,119.40 653.0,119.40 653.5,119.40 654.0,119.40 654.5,119.40 655.0,119.40 655.5,119.40 656.0,119.40 656.5,119.40 657.0,119.40 657.5,119.40 658.0,119.40 658.5,119.40 659.0,119.40 659.5,119.40 660.0,119.40 660.5,119.40 661.0,119.40 661.5,119.40 662.0,119.40 662.5,119.40 663.0,119.40 663.5,119.40 664.0,119.40 664.5,119.40 665.0,119.40 665.5,119.40 666.0,119.40 666.5,119.40 667.0,119.40 667.5,119.40 668.0,119.40 668.5,119.40 669.0,119.40 669.5,119.40" fill="none" stroke="#d87882" stroke-width="1.5"/>
<polyline points="401.5,119.40 402.0,119.40 402.5,119.40 403.0,119.40 403.5,119.40 404.0,119.40 404.5,119.40 405.0,119.40 405.5,119.40 406.0,119.40 406.5,119.40 407.0,119.40 407.5,119.40 408.0,119.40 408.5,119.40 409.0,119.40 409.5,119.40 410.0,119.40 410.5,119.40 411.0,119.40 411.5,119.40 412.0,119.40 412.5,119.40 413.0,119.40 413.5,119.40 414.0,119.40 414.5,119.40 415.0,119.40 415.5,119.40 416.0,119.40 416.5,119.40 417.0,119.40 417.5,119.40 418.0,119.40 418.5,119.40 419.0,119.40 419.5,119.40 420.0,119.40 420.5,119.40 421.0,119.40 421.5,119.40 422.0,119.40 422.5,119.40 423.0,119.40 423.5,119.40 424.0,119.40 424.5,119.40 425.0,119.40 425.5,119.40 426.0,119.40 426.5,119.40 427.0,119.40 427.5,119.40 428.0,119.40 428.5,119.40 429.0,119.40 429.5,119.40 430.0,119.40 430.5,119.40 431.0,119.40 431.5,119.40 432.0,119.40 432.5,119.40 433.0,119.40 433.5,119.40 434.0,119.40 434.5,119.40 435.0,119.40 435.5,119.40 436.0,119.40 436.5,119.40 437.0,119.40 437.5,119.40 438.0,119.40 438.5,119.40 439.0,119.40 439.5,119.40 440.0,119.40 440.5,119.40 441.0,119.40 441.5,119.40 442.0,119.40 442.5,119.40 443.0,119.40 443.5,119.40 444.0,119.40 444.5,119.40 445.0,119.40 445.5,119.39 446.0,119.39 446.5,119.39 447.0,119.39 447.5,119.39 448.0,119.39 448.5,119.39 449.0,119.39 449.5,119.38 450.0,119.38 450.5,119.38 451.0,119.38 451.5,119.38 452.0,119.37 452.5,119.37 453.0,119.36 453.5,119.36 454.0,119.36 454.5,119.35 455.0,119.34 455.5,119.34 456.0,119.33 456.5,119.32 457.0,119.31 457.5,119.30 458.0,119.29 458.5,119.28 459.0,119.27 459.5,119.25 460.0,119.23 460.5,119.22 461.0,119.19 461.5,119.17 462.0,119.15 462.5,119.12 463.0,119.09 463.5,119.06 464.0,119.02 464.5,118.99 465.0,118.94 465.5,118.90 466.0,118.85 466.5,118.79 467.0,118.73 467.5,118.67 468.0,118.60 468.5,118.52 469.0,118.44 469.5,118.35 470.0,118.25 470.5,118.15 471.0,118.04 471.5,117.91 472.0,117.78 472.5,117.64 473.0,117.49 473.5,117.32 474.0,117.15 474.5,116.96 475.0,116.76 475.5,116.54 476.0,116.31 476.5,116.07 477.0,115.80 477.5,115.52 478.0,115.23 478.5,114.91 479.0,114.57 479.5,114.22 480.0,113.84 480.5,113.44 481.0,113.01 481.5,112.57 482.0,112.09 482.5,111.60 483.0,111.07 483.5,110.52 484.0,109.94 484.5,109.34 485.0,108.70 485.5,108.04 486.0,107.34 486.5,106.62 487.0,105.86 487.5,105.07 488.0,104.25 488.5,103.40 489.0,102.52 489.5,101.60 490.0,100.66 490.5,99.68 491.0,98.67 491.5,97.64 492.0,96.57 492.5,95.47 493.0,94.35 493.5,93.20 494.0,92.02 494.5,90.82 495.0,89.60 495.5,88.35 496.0,87.09 496.5,85.81 497.0,84.52 497.5,83.21 498.0,81.90 498.5,80.57 499.0,79.25 499.5,77.92 500.0,76.59 500.5,75.28 501.0,73.97 501.5,72.67 502.0,71.39 502.5,70.13 503.0,68.90 503.5,67.70 504.0,66.53 504.5,65.40 505.0,64.30 505.5,63.26 506.0,62.27 506.5,61.33 507.0,60.45 507.5,59.64 508.0,58.89 508.5,58.22 509.0,57.63 509.5,57.11 510.0,56.69 510.5,56.35 511.0,56.10 511.5,55.95 512.0,55.90 512.5,55.95 513.0,56.11 513.5,56.37 514.0,56.75 514.5,57.23 515.0,57.84 515.5,58.55 516.0,59.38 516.5,60.33 517.0,61.39 517.5,62.57 518.0,63.87 518.5,65.28 519.0,66.80 519.5,68.44 520.0,70.19 520.5,72.04 521.0,74.00 521.5,76.06 522.0,78.22 522.5,80.47 523.0,82.81 523.5,85.23 524.0,87.73 524.5,90.31 525.0,92.96 525.5,95.66 526.0,98.43 526.5,101.24 527.0,104.10 527.5,107.00 528.0,109.92 528.5,112.87 529.0,115.83 529.5,118.81 530.0,121.78 530.5,124.75 531.0,127.70 531.5,130.64 532.0,133.54 532.5,136.42 533.0,139.25 533.5,142.04 534.0,144.77 534.5,147.44 535.0,150.05 535.5,152.58 536.0,155.03 536.5,157.41 537.0,159.70 537.5,161.89 538.0,163.99 538.5,165.99 539.0,167.88 539.5,169.67 540.0,171.35 540.5,172.92 541.0,174.38 541.5,175.72 542.0,176.95 542.5,178.06 543.0,179.05 543.5,179.93 544.0,180.69 544.5,181.34 545.0,181.87 545.5,182.29 546.0,182.60 546.5,182.80 547.0,182.89 547.5,182.88 548.0,182.77 548.5,182.56 549.0,182.26 549.5,181.87 550.0,181.39 550.5,180.82 551.0,180.18 551.5,179.47 552.0,178.68 552.5,177.83 553.0,176.91 553.5,175.94 554.0,174.92 554.5,173.85 555.0,172.73 555.5,171.57 556.0,170.38 556.5,169.16 557.0,167.91 557.5,166.64 558.0,165.35 558.5,164.05 559.0,162.73 559.5,161.41 560.0,160.08 560.5,158.76 561.0,157.43 561.5,156.11 562.0,154.80 562.5,153.50 563.0,152.22 563.5,150.95 564.0,149.70 564.5,148.47 565.0,147.26 565.5,146.07 566.0,144.91 566.5,143.77 567.0,142.67 567.5,141.59 568.0,140.54 568.5,139.52 569.0,138.53 569.5,137.57 570.0,136.64 570.5,135.75 571.0,134.88 571.5,134.05 572.0,133.25 572.5,132.48 573.0,131.74 573.5,131.04 574.0,130.36 574.5,129.71 575.0,129.10 575.5,128.51 576.0,127.94 576.5,127.41 577.0,126.90 577.5,126.42 578.0,125.96 578.5,125.53 579.0,125.12 579.5,124.73 580.0,124.37 580.5,124.02 581.0,123.70 581.5,123.39 582.0,123.11 582.5,122.84 583.0,122.58 583.5,122.35 584.0,122.13 584.5,121.92 585.0,121.72 585.5,121.54 586.0,121.38 586.5,121.22 587.0,121.07 587.5,120.94 588.0,120.81 588.5,120.70 589.0,120.59 589.5,120.49 590.0,120.40 590.5,120.31 591.0,120.23 591.5,120.16 592.0,120.09 592.5,120.03 593.0,119.97 593.5,119.92 594.0,119.87 594.5,119.83 595.0,119.79 595.5,119.75 596.0,119.72 596.5,119.69 597.0,119.66 597.5,119.64 598.0,119.61 598.5,119.59 599.0,119.57 599.5,119.56 600.0,119.54 600.5,119.53 601.0,119.51 601.5,119.50 602.0,119.49 602.5,119.48 603.0,119.47 603.5,119.47 604.0,119.46 604.5,119.45 605.0,119.45 605.5,119.44 606.0,119.44 606.5,119.43 607.0,119.43 607.5,119.43 608.0,119.42 608.5,119.42 609.0,119.42 609.5,119.42 610.0,119.41 610.5,119.41 611.0,119.41 611.5,119.41 612.0,119.41 612.5,119.41 613.0,119.41 613.5,119.41 614.0,119.41 614.5,119.40 615.0,119.40 615.5,119.40 616.0,119.40 616.5,119.40 617.0,119.40 617.5,119.40 618.0,119.40 618.5,119.40 619.0,119.40 619.5,119.40 620.0,119.40 620.5,119.40 621.0,119.40 621.5,119.40 622.0,119.40 622.5,119.40 623.0,119.40 623.5,119.40 624.0,119.40 624.5,119.40 625.0,119.40 625.5,119.40 626.0,119.40 626.5,119.40 627.0,119.40 627.5,119.40 628.0,119.40 628.5,119.40 629.0,119.40 629.5,119.40 630.0,119.40 630.5,119.40 631.0,119.40 631.5,119.40 632.0,119.40 632.5,119.40 633.0,119.40 633.5,119.40 634.0,119.40 634.5,119.40 635.0,119.40 635.5,119.40 636.0,119.40 636.5,119.40 637.0,119.40 637.5,119.40 638.0,119.40 638.5,119.40 639.0,119.40 639.5,119.40 640.0,119.40 640.5,119.40 641.0,119.40 641.5,119.40 642.0,119.40 642.5,119.40 643.0,119.40 643.5,119.40 644.0,119.40 644.5,119.40 645.0,119.40 645.5,119.40 646.0,119.40 646.5,119.40 647.0,119.40 647.5,119.40 648.0,119.40 648.5,119.40 649.0,119.40 649.5,119.40 650.0,119.40 650.5,119.40 651.0,119.40 651.5,119.40 652.0,119.40 652.5,119.40 653.0,119.40 653.5,119.40 654.0,119.40 654.5,119.40 655.0,119.40 655.5,119.40 656.0,119.40 656.5,119.40 657.0,119.40 657.5,119.40 658.0,119.40 658.5,119.40 659.0,119.40 659.5,119.40 660.0,119.40 660.5,119.40 661.0,119.40 661.5,119.40 662.0,119.40 662.5,119.40 663.0,119.40 663.5,119.40 664.0,119.40 664.5,119.40 665.0,119.40 665.5,119.40 666.0,119.40 666.5,119.40 667.0,119.40 667.5,119.40 668.0,119.40 668.5,119.40 669.0,119.40 669.5,119.40" fill="none" stroke="#5eb3d4" stroke-width="1.5"/>
<rect x="400.5" y="11.1" width="270.0" height="216.6" fill="none" stroke="#111" stroke-width="1.6"/>
<line x1="400.50" y1="227.7" x2="400.50" y2="231.79999999999998" stroke="#111" stroke-width="1.5"/>
<text x="400.50" y="244.6" font-size="12.4" stroke="#000" stroke-width="0.45" text-anchor="middle" font-family="Liberation Sans">3480</text>
<line x1="423.00" y1="227.7" x2="423.00" y2="229.89999999999998" stroke="#111" stroke-width="1.5"/>
<line x1="445.50" y1="227.7" x2="445.50" y2="231.79999999999998" stroke="#111" stroke-width="1.5"/>
<text x="445.50" y="244.6" font-size="12.4" stroke="#000" stroke-width="0.45" text-anchor="middle" font-family="Liberation Sans">3490</text>
<line x1="468.00" y1="227.7" x2="468.00" y2="229.89999999999998" stroke="#111" stroke-width="1.5"/>
<line x1="490.50" y1="227.7" x2="490.50" y2="231.79999999999998" stroke="#111" stroke-width="1.5"/>
<text x="490.50" y="244.6" font-size="12.4" stroke="#000" stroke-width="0.45" text-anchor="middle" font-family="Liberation Sans">3500</text>
<line x1="513.00" y1="227.7" x2="513.00" y2="229.89999999999998" stroke="#111" stroke-width="1.5"/>
<line x1="535.50" y1="227.7" x2="535.50" y2="231.79999999999998" stroke="#111" stroke-width="1.5"/>
<text x="535.50" y="244.6" font-size="12.4" stroke="#000" stroke-width="0.45" text-anchor="middle" font-family="Liberation Sans">3510</text>
<line x1="558.00" y1="227.7" x2="558.00" y2="229.89999999999998" stroke="#111" stroke-width="1.5"/>
<line x1="580.50" y1="227.7" x2="580.50" y2="231.79999999999998" stroke="#111" stroke-width="1.5"/>
<text x="580.50" y="244.6" font-size="12.4" stroke="#000" stroke-width="0.45" text-anchor="middle" font-family="Liberation Sans">3520</text>
<line x1="603.00" y1="227.7" x2="603.00" y2="229.89999999999998" stroke="#111" stroke-width="1.5"/>
<line x1="625.50" y1="227.7" x2="625.50" y2="231.79999999999998" stroke="#111" stroke-width="1.5"/>
<text x="625.50" y="244.6" font-size="12.4" stroke="#000" stroke-width="0.45" text-anchor="middle" font-family="Liberation Sans">3530</text>
<line x1="648.00" y1="227.7" x2="648.00" y2="229.89999999999998" stroke="#111" stroke-width="1.5"/>
<line x1="670.50" y1="227.7" x2="670.50" y2="231.79999999999998" stroke="#111" stroke-width="1.5"/>
<text x="670.50" y="244.6" font-size="12.4" stroke="#000" stroke-width="0.45" text-anchor="middle" font-family="Liberation Sans">3540</text>
<text x="466.2" y="261.2" font-size="15.45" font-weight="bold" font-family="Liberation Sans">Magnetic field (mT)</text>
<text transform="translate(389.7,171.5) rotate(-90)" font-size="14.5" font-weight="bold" font-family="Liberation Sans" textLength="102" lengthAdjust="spacingAndGlyphs">Intensity (a.u.)</text>
<line x1="540.2" y1="24" x2="567.1" y2="24" stroke="#d87882" stroke-width="1.6"/>
<text x="569.4" y="27.6" font-size="11.3" font-weight="bold" font-family="Liberation Sans" fill="#d87882" text-anchor="start">CoMn<tspan font-size="8.4" dy="3.1">2</tspan><tspan dy="-3.1">O</tspan><tspan font-size="8.4" dy="3.1">4</tspan><tspan dy="-3.1">-S</tspan></text>
<line x1="540.2" y1="40.6" x2="567.1" y2="40.6" stroke="#5eb3d4" stroke-width="1.6"/>
<text x="569.4" y="44.2" font-size="11.3" font-weight="bold" font-family="Liberation Sans" fill="#5eb3d4" text-anchor="start">CoMn<tspan font-size="8.4" dy="3.1">2</tspan><tspan dy="-3.1">O</tspan><tspan font-size="8.4" dy="3.1">4</tspan><tspan dy="-3.1"></tspan></text>
<line x1="540.2" y1="57.8" x2="567.1" y2="57.8" stroke="#7b74c4" stroke-width="1.6"/>
<text x="569.4" y="61.4" font-size="11.3" font-weight="bold" font-family="Liberation Sans" fill="#7b74c4" text-anchor="start">CoMn<tspan font-size="8.4" dy="3.1">2</tspan><tspan dy="-3.1">O</tspan><tspan font-size="8.4" dy="3.1">4</tspan><tspan dy="-3.1">-Control</tspan></text>
<text x="552.0" y="94.3" font-size="11.5" font-weight="bold" font-family="Liberation Sans">g=2.003</text>
<line x1="550.3" y1="98.2" x2="534.5" y2="113.6" stroke="#111" stroke-width="1.25"/>
<polygon points="530.2,118.6 537.2,115.8 532.7,111.5" fill="#111"/>
</svg></body></html>
